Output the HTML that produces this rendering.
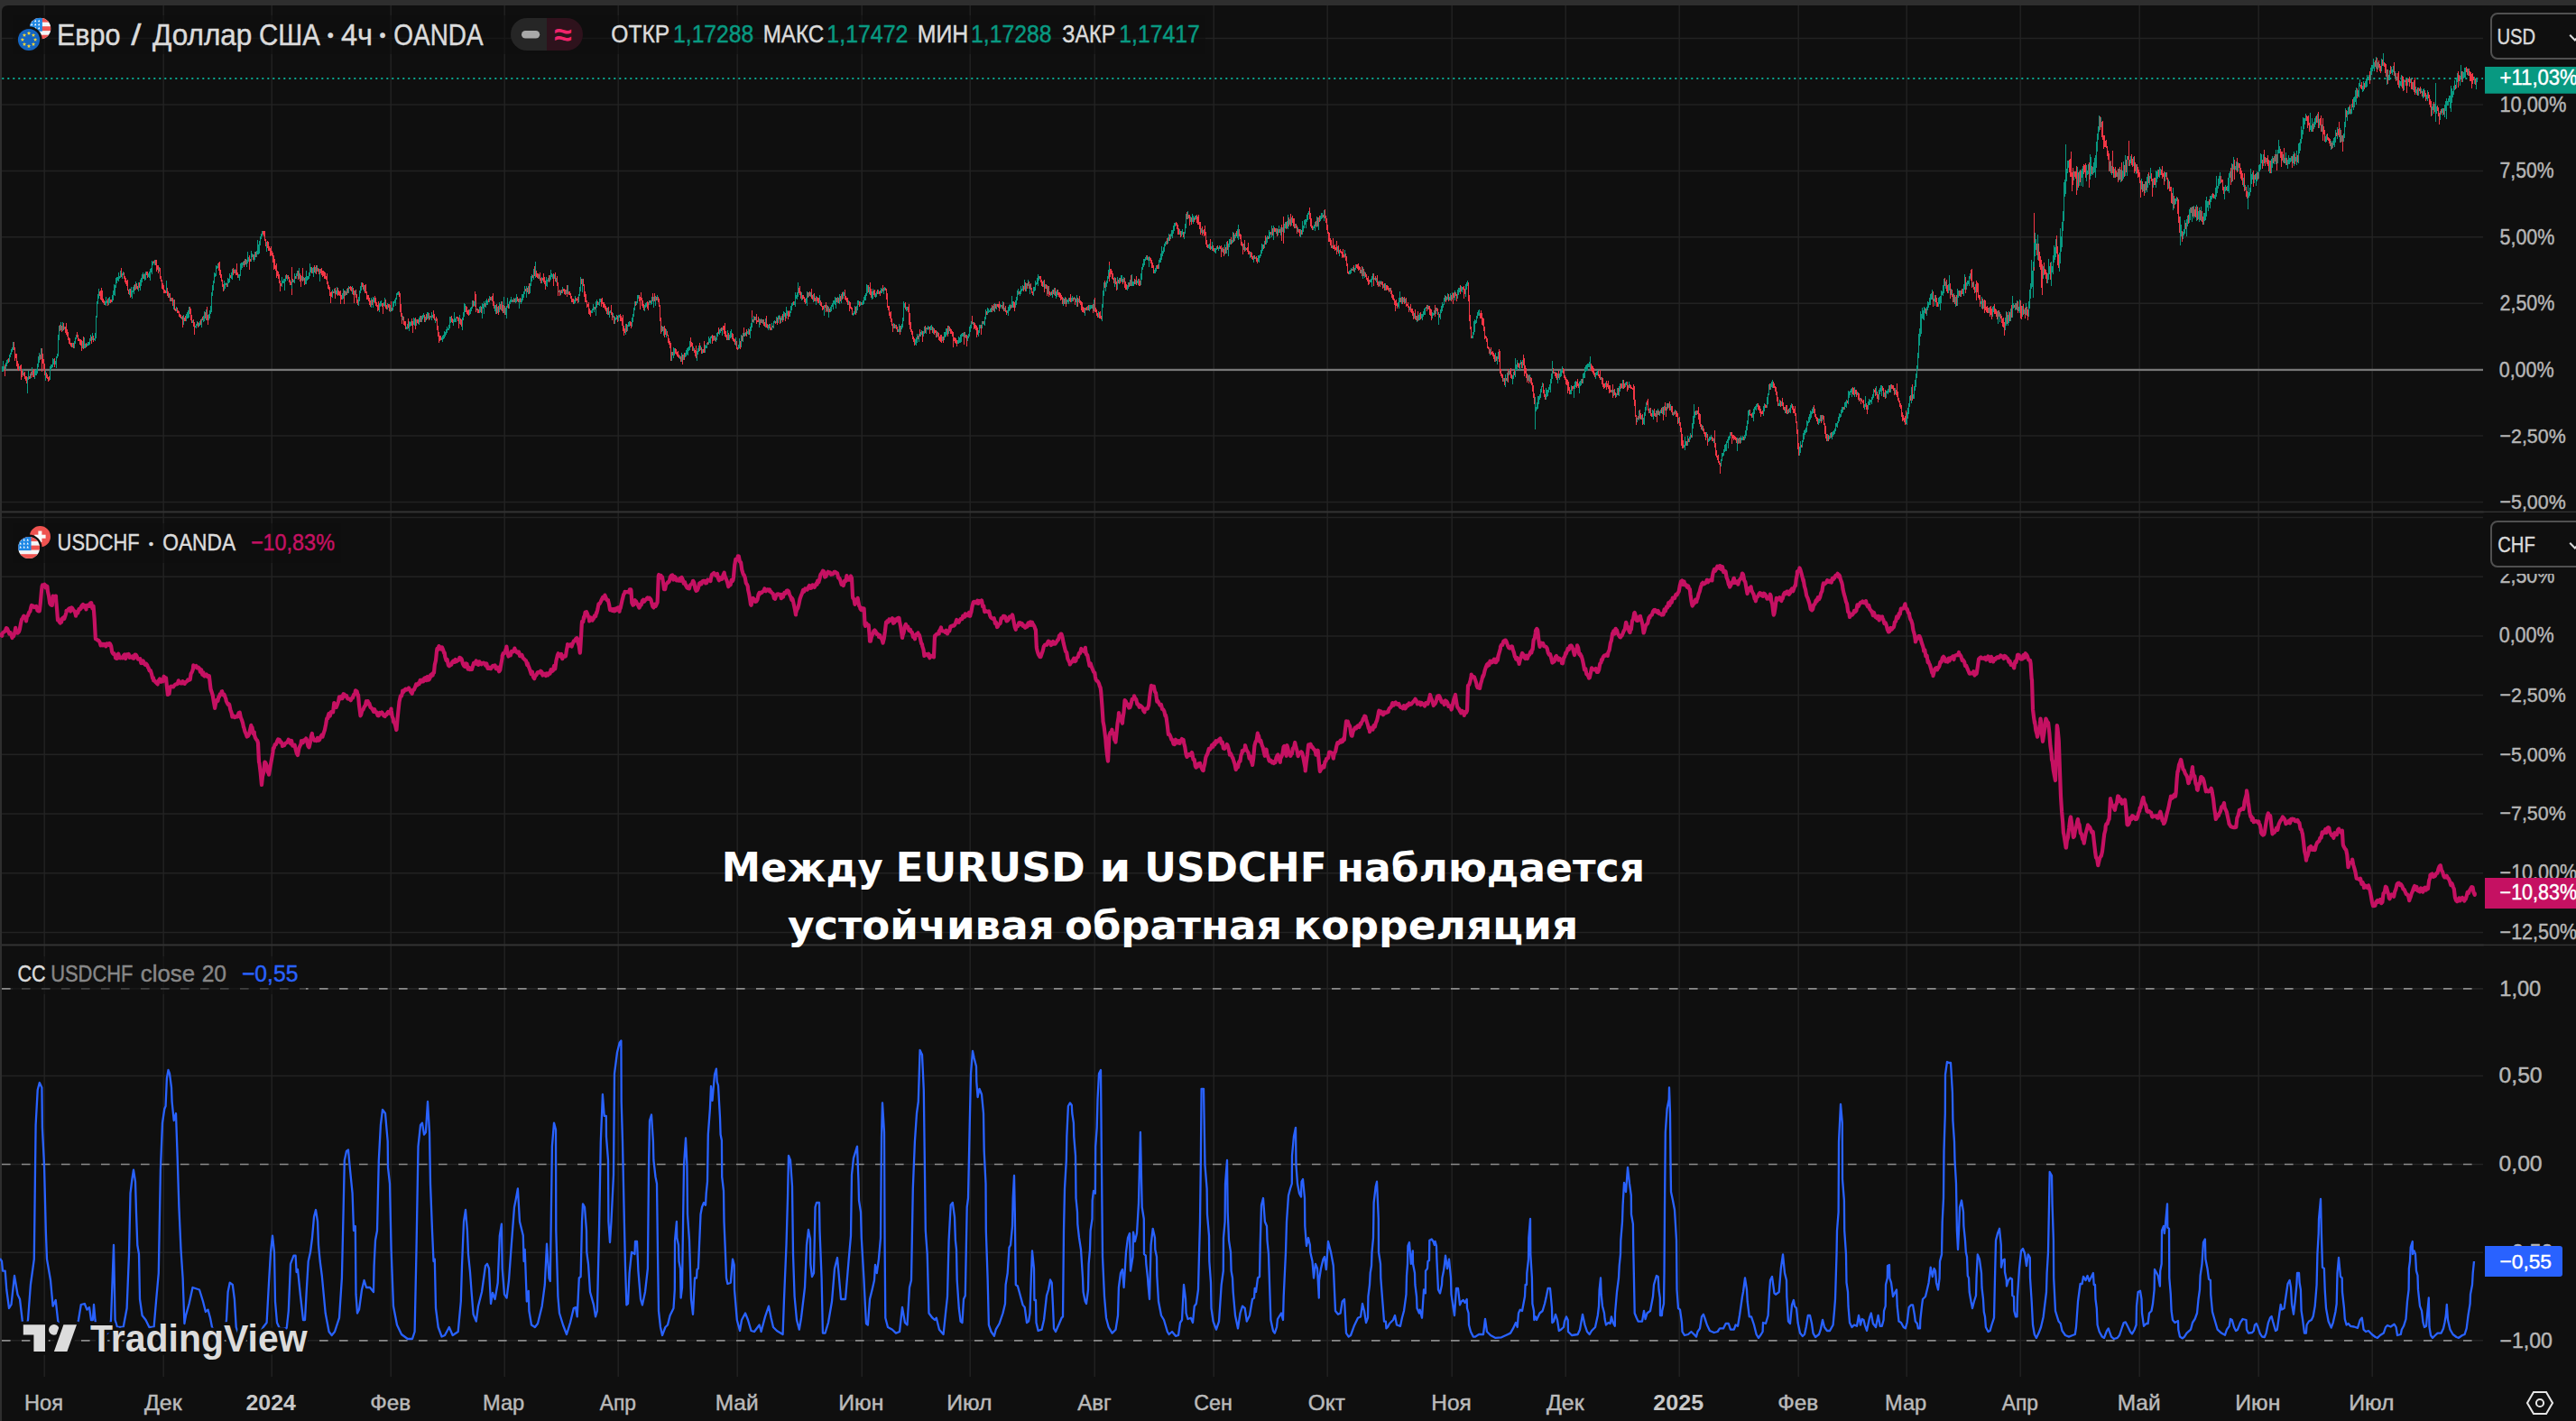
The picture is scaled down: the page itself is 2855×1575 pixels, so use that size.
<!DOCTYPE html>
<html lang="ru"><head><meta charset="utf-8"><title>EURUSD / USDCHF</title>
<style>
html,body{margin:0;padding:0;background:#2e2e2e;overflow:hidden}
body{width:2855px;height:1575px}
svg{display:block;font-family:'Liberation Sans', sans-serif}
text{white-space:pre}
</style></head><body>
<svg width="2855" height="1575" viewBox="0 0 2855 1575">
<rect width="2855" height="1575" fill="#2e2e2e"/>
<path d="M2 1575V13Q2 6 9 6H2855V1575Z" fill="#0f0f0f"/>

<path d="M2 42.6H2752M2 116.0H2752M2 189.4H2752M2 262.8H2752M2 336.2H2752M2 483.0H2752M2 556.4H2752M2 573.5H2752M2 639.2H2752M2 704.9H2752M2 770.6H2752M2 836.3H2752M2 902.0H2752M2 967.7H2752M2 1033.4H2752M2 1192.5H2752M2 1388.3H2752M49.2 6V1526M181.2 6V1526M301.2 6V1526M433.2 6V1526M559.2 6V1526M685.2 6V1526M817.2 6V1526M955.2 6V1526M1075.2 6V1526M1213.2 6V1526M1345.2 6V1526M1471.2 6V1526M1609.2 6V1526M1735.2 6V1526M1861.2 6V1526M1993.2 6V1526M2113.2 6V1526M2239.2 6V1526M2371.2 6V1526M2503.2 6V1526M2629.2 6V1526" stroke="#222222" stroke-width="1.5" fill="none"/>
<path d="M2 1095.9H2752" stroke="#232323" stroke-width="1.6"/>
<path d="M2 1095.9H2742" stroke="#8a8a8a" stroke-width="1.7" stroke-dasharray="9.6 12.4"/>
<path d="M2 1290.5H2752" stroke="#232323" stroke-width="1.6"/>
<path d="M2 1290.5H2742" stroke="#8a8a8a" stroke-width="1.7" stroke-dasharray="9.6 12.4"/>
<path d="M2 1485.8H2752" stroke="#232323" stroke-width="1.6"/>
<path d="M2 1485.8H2742" stroke="#8a8a8a" stroke-width="1.7" stroke-dasharray="9.6 12.4"/>
<rect x="2" y="408.8" width="2750" height="2.3" fill="#777"/>
<path d="M2.3 87H2752" stroke="#0aa68e" stroke-width="2" stroke-dasharray="2 4"/>
<path d="M5.5 404.2V416.8M9.5 397.2V401.8M15.5 379.4V387.5M16.5 384.7V400.4M17.5 391.9V397.2M18.5 392.4V406.2M19.5 399.7V409.6M20.5 403.3V411.0M22.5 405.0V409.3M23.5 404.4V420.9M24.5 409.5V417.8M26.5 412.5V417.0M27.5 411.7V419.7M28.5 416.8V422.1M29.5 417.1V424.6M32.5 416.7V419.9M34.5 411.7V418.6M36.5 409.2V417.5M37.5 409.8V417.5M44.5 392.9V398.6M46.5 385.9V395.5M47.5 391.5V403.4M48.5 398.0V408.9M49.5 402.8V416.4M51.5 413.0V419.2M52.5 415.3V420.3M53.5 417.9V422.6M54.5 416.5V421.5M60.5 397.3V407.3M66.5 360.3V367.0M68.5 360.7V367.7M70.5 358.0V365.7M72.5 362.0V368.9M73.5 358.1V370.5M74.5 364.6V373.2M75.5 367.5V376.8M76.5 373.6V380.8M77.5 375.1V382.1M78.5 379.8V383.5M79.5 380.3V385.1M81.5 379.5V386.0M85.5 368.4V374.3M86.5 371.2V378.0M87.5 375.3V378.0M88.5 376.0V382.3M89.5 375.6V382.7M90.5 377.1V388.7M92.5 373.0V387.0M95.5 379.9V384.5M101.5 373.0V380.9M103.5 371.6V378.7M110.5 322.6V327.9M111.5 321.6V332.2M112.5 319.1V332.7M113.5 321.9V334.7M114.5 331.3V336.1M115.5 332.6V337.8M119.5 330.5V338.5M122.5 332.0V335.6M123.5 331.9V334.6M134.5 297.4V306.7M137.5 302.2V308.8M138.5 305.6V312.5M139.5 308.2V314.6M140.5 310.7V316.7M141.5 310.1V322.0M142.5 320.7V325.9M144.5 320.1V330.2M149.5 315.3V321.5M151.5 313.9V319.9M152.5 317.0V320.7M154.5 313.0V318.5M159.5 303.8V309.1M162.5 300.5V304.5M163.5 301.4V308.4M170.5 289.4V292.1M172.5 288.0V294.0M173.5 287.8V300.6M174.5 294.2V298.8M175.5 293.9V302.8M177.5 296.7V309.3M178.5 305.5V312.4M179.5 310.4V320.1M180.5 313.6V320.7M181.5 316.0V325.3M182.5 320.5V325.0M183.5 321.6V324.5M185.5 318.7V327.7M186.5 323.1V329.6M188.5 325.0V333.6M190.5 330.2V334.1M191.5 330.0V338.7M193.5 331.5V344.0M194.5 341.9V344.8M196.5 340.5V347.0M197.5 343.9V347.4M198.5 344.9V350.9M199.5 347.7V352.1M200.5 348.7V352.8M202.5 350.0V362.9M204.5 352.4V355.7M205.5 350.3V356.1M210.5 340.2V347.9M211.5 342.1V354.5M212.5 349.3V358.1M214.5 354.1V361.7M215.5 357.1V371.2M219.5 357.0V363.1M222.5 353.5V360.0M224.5 351.0V355.0M227.5 346.4V352.9M229.5 340.3V355.3M230.5 349.2V360.0M242.5 290.9V299.7M243.5 290.4V304.7M244.5 299.3V308.3M245.5 303.8V312.4M246.5 310.0V317.9M247.5 314.7V322.5M251.5 313.7V318.2M255.5 304.8V307.6M258.5 297.2V304.6M259.5 299.0V303.2M261.5 298.8V305.0M262.5 292.2V304.8M263.5 302.0V308.2M270.5 289.3V296.4M272.5 287.3V292.8M276.5 283.1V299.1M277.5 287.2V290.2M280.5 281.8V287.8M283.5 278.7V284.6M291.5 256.3V260.3M292.5 256.1V262.1M293.5 256.3V267.3M294.5 264.8V273.3M296.5 267.4V275.3M297.5 267.6V277.7M298.5 272.5V278.4M299.5 275.2V284.3M300.5 272.8V282.8M301.5 278.2V284.0M302.5 280.2V291.0M303.5 282.8V299.3M304.5 286.5V297.9M305.5 293.7V300.4M306.5 292.3V307.9M307.5 300.0V305.6M308.5 300.8V308.7M309.5 304.0V313.9M310.5 311.1V322.8M311.5 314.0V316.8M317.5 304.1V309.2M319.5 304.7V308.6M320.5 307.0V313.4M321.5 310.4V315.7M322.5 312.2V316.1M324.5 308.8V312.9M327.5 305.5V308.5M330.5 300.4V309.5M332.5 302.9V311.7M333.5 304.8V318.1M335.5 297.3V312.1M337.5 307.7V316.2M345.5 295.8V302.9M348.5 294.3V302.1M350.5 294.3V303.5M352.5 296.6V300.9M353.5 297.5V304.1M355.5 298.4V302.5M356.5 297.2V304.6M357.5 300.2V306.9M358.5 300.3V306.2M359.5 301.1V308.7M360.5 302.4V309.1M361.5 306.0V310.0M362.5 302.7V314.7M363.5 311.6V320.4M364.5 315.5V321.3M365.5 317.7V327.9M366.5 324.0V335.5M367.5 322.7V329.3M369.5 322.5V325.0M371.5 319.4V331.2M374.5 319.1V328.1M375.5 322.2V326.9M376.5 323.4V327.7M377.5 321.6V336.9M378.5 327.3V332.1M381.5 321.9V336.5M383.5 322.6V327.1M385.5 319.2V324.5M387.5 317.7V320.0M388.5 316.9V322.1M389.5 318.1V323.0M391.5 319.1V327.0M392.5 322.3V336.3M394.5 321.1V329.5M395.5 326.2V336.1M396.5 332.2V337.8M401.5 313.1V318.0M402.5 313.9V321.4M404.5 316.1V325.3M405.5 315.3V324.5M406.5 322.8V331.9M407.5 327.4V332.4M408.5 326.5V333.9M409.5 329.7V337.8M410.5 333.0V340.2M412.5 332.4V338.1M415.5 328.2V335.5M416.5 330.3V338.5M417.5 335.0V340.3M418.5 338.3V344.5M419.5 334.3V344.1M423.5 335.5V339.6M424.5 335.8V347.8M427.5 332.3V341.8M428.5 338.0V343.3M430.5 337.2V340.8M431.5 336.8V344.8M433.5 334.4V345.3M442.5 323.1V328.8M443.5 324.7V346.0M444.5 336.9V350.9M445.5 346.8V358.9M447.5 351.3V360.1M448.5 355.5V360.8M449.5 355.6V365.1M452.5 352.7V363.9M456.5 352.6V360.7M457.5 355.5V368.5M460.5 352.2V365.3M462.5 354.4V358.0M463.5 354.3V358.6M466.5 349.6V356.5M470.5 349.3V356.9M472.5 348.2V354.7M475.5 346.9V354.9M477.5 350.2V352.2M480.5 344.2V352.8M481.5 347.6V355.1M483.5 350.6V356.2M484.5 353.2V365.5M485.5 360.7V373.3M486.5 367.6V380.4M487.5 372.1V377.5M488.5 372.0V377.4M500.5 350.1V357.0M501.5 353.2V358.3M506.5 350.7V353.2M507.5 350.9V356.1M508.5 351.7V363.5M510.5 352.5V360.3M511.5 354.1V361.7M516.5 338.7V346.1M517.5 339.8V347.7M518.5 343.9V349.2M519.5 343.0V349.7M524.5 333.0V339.8M527.5 325.8V345.5M529.5 341.7V347.2M530.5 343.2V346.8M533.5 339.7V346.8M537.5 335.5V339.7M541.5 331.0V334.8M543.5 328.5V332.5M545.5 327.7V334.1M546.5 324.5V338.8M547.5 334.2V341.5M550.5 336.7V347.6M552.5 338.9V348.9M554.5 337.4V342.9M556.5 334.2V344.9M557.5 338.0V347.0M559.5 339.4V348.5M563.5 336.6V342.3M568.5 332.4V334.7M570.5 331.1V335.3M573.5 329.3V333.8M574.5 330.7V334.9M576.5 330.0V335.1M582.5 319.5V323.1M584.5 318.9V323.7M586.5 313.7V325.6M590.5 304.6V308.3M592.5 294.8V305.8M594.5 299.6V307.0M595.5 302.7V308.0M596.5 302.9V308.5M598.5 302.1V310.8M599.5 307.5V313.9M601.5 308.0V311.2M602.5 303.0V313.4M603.5 306.7V314.5M604.5 310.6V320.5M608.5 304.5V313.4M613.5 303.1V316.5M615.5 301.8V311.5M617.5 306.0V316.5M618.5 313.1V328.1M620.5 321.3V328.3M622.5 321.1V324.7M624.5 320.4V323.2M625.5 320.4V325.6M626.5 320.7V326.8M628.5 315.7V329.1M630.5 322.6V326.5M631.5 323.2V326.5M632.5 324.5V330.9M633.5 327.8V334.9M634.5 331.1V335.0M635.5 331.1V336.5M638.5 329.9V333.6M639.5 331.1V333.3M640.5 329.1V335.9M644.5 308.7V315.3M646.5 309.4V317.4M647.5 314.7V328.6M648.5 323.3V335.3M649.5 325.9V334.8M650.5 332.7V341.1M651.5 336.9V340.3M652.5 334.8V347.5M653.5 341.8V349.2M654.5 344.0V350.8M659.5 339.8V343.1M662.5 333.9V337.9M666.5 331.1V339.8M667.5 329.5V336.9M668.5 335.1V341.0M669.5 335.1V340.8M670.5 336.6V342.8M671.5 339.4V344.6M672.5 340.8V347.6M674.5 339.5V349.2M677.5 337.6V348.8M678.5 345.6V354.8M680.5 349.8V359.0M684.5 350.3V356.8M687.5 348.0V356.1M688.5 349.7V356.4M689.5 351.8V361.1M690.5 349.3V367.3M691.5 361.2V371.5M692.5 363.6V368.7M694.5 358.6V368.0M698.5 356.3V360.8M699.5 357.4V363.5M704.5 333.7V339.2M708.5 326.5V334.3M709.5 328.9V342.5M710.5 323.7V333.4M711.5 330.2V339.1M712.5 332.9V340.8M713.5 337.4V343.5M717.5 333.5V341.8M718.5 334.8V344.2M720.5 333.3V336.2M723.5 325.3V333.5M725.5 324.7V333.8M727.5 329.4V332.5M729.5 329.2V335.0M730.5 330.7V340.4M731.5 337.5V356.0M732.5 352.0V370.0M734.5 361.8V366.5M736.5 361.4V373.5M737.5 363.6V370.7M739.5 367.1V372.4M740.5 370.6V380.3M741.5 375.1V382.4M742.5 377.6V385.8M743.5 379.5V400.3M745.5 389.5V393.7M748.5 385.5V391.7M749.5 387.2V393.4M750.5 390.0V394.6M751.5 389.1V396.1M752.5 393.1V397.4M754.5 395.1V400.9M756.5 392.7V404.3M758.5 391.4V398.9M765.5 374.4V385.1M766.5 379.3V384.2M767.5 379.7V388.5M769.5 385.8V391.4M770.5 388.1V395.1M771.5 382.9V396.7M775.5 379.9V388.5M777.5 384.9V392.4M779.5 387.0V390.9M780.5 378.4V390.9M784.5 379.4V381.6M789.5 371.0V381.1M790.5 371.5V377.5M792.5 371.6V378.3M796.5 362.9V370.2M799.5 363.0V366.5M801.5 360.9V366.2M802.5 360.6V370.0M803.5 358.2V372.5M804.5 367.3V373.8M805.5 370.5V377.2M807.5 368.9V376.8M811.5 368.6V375.9M812.5 370.3V377.8M813.5 375.1V378.6M814.5 376.4V381.6M816.5 377.8V386.8M817.5 384.7V387.5M820.5 378.0V387.4M822.5 371.9V377.7M824.5 363.2V373.4M827.5 364.6V373.1M830.5 364.8V371.1M834.5 354.1V357.3M836.5 351.2V355.3M838.5 347.9V358.7M839.5 354.6V357.1M840.5 351.3V357.3M842.5 353.8V359.5M844.5 354.2V358.2M846.5 354.3V361.2M847.5 357.4V362.2M849.5 350.4V362.6M850.5 358.6V363.5M853.5 359.2V365.6M854.5 362.5V366.2M856.5 360.5V363.3M859.5 355.9V359.0M861.5 352.3V359.7M864.5 350.4V358.7M867.5 348.1V356.6M870.5 346.7V356.1M873.5 344.9V353.8M874.5 343.7V350.8M879.5 334.3V337.7M885.5 319.1V325.4M886.5 316.6V327.0M887.5 322.9V331.3M889.5 326.5V332.2M890.5 327.1V330.7M891.5 329.3V335.2M892.5 330.8V337.3M895.5 324.0V329.7M897.5 323.2V328.0M899.5 319.8V330.9M900.5 326.8V332.2M902.5 325.4V333.6M903.5 329.7V334.4M905.5 328.6V334.3M906.5 329.5V336.4M907.5 329.9V336.3M909.5 332.6V338.7M910.5 334.6V340.2M911.5 338.6V343.6M912.5 338.9V343.2M914.5 338.2V340.6M915.5 334.7V346.1M917.5 338.9V345.9M919.5 342.4V346.0M927.5 330.4V334.7M929.5 329.8V335.7M931.5 328.2V334.2M933.5 324.2V332.1M936.5 321.0V332.1M937.5 327.8V332.7M938.5 329.8V334.9M939.5 329.5V337.5M941.5 334.0V345.3M942.5 335.0V342.4M943.5 339.9V343.1M944.5 341.0V348.9M948.5 340.4V349.0M952.5 334.3V339.5M954.5 334.7V338.2M962.5 315.7V323.7M964.5 313.1V327.1M965.5 320.2V329.6M968.5 321.8V326.9M969.5 321.3V329.4M972.5 321.4V325.5M974.5 322.6V326.2M975.5 321.9V327.9M978.5 316.0V322.8M981.5 318.5V321.7M982.5 319.9V332.3M983.5 325.2V341.4M984.5 338.6V343.5M985.5 338.5V349.6M986.5 345.8V353.3M987.5 344.5V356.8M988.5 352.7V361.2M989.5 358.7V367.9M991.5 358.8V363.6M993.5 359.9V365.4M994.5 362.3V367.6M997.5 361.4V371.1M1003.5 334.6V342.5M1006.5 340.4V345.9M1007.5 336.5V359.8M1008.5 346.8V365.1M1009.5 356.5V368.4M1010.5 364.7V371.4M1011.5 366.5V376.0M1012.5 372.7V378.9M1013.5 374.8V383.4M1017.5 372.1V375.5M1019.5 365.3V372.9M1022.5 366.7V379.0M1025.5 361.4V368.7M1027.5 363.3V365.2M1030.5 362.2V369.7M1033.5 361.5V369.1M1035.5 364.4V370.5M1036.5 365.8V368.7M1037.5 365.9V373.5M1039.5 368.3V372.7M1040.5 369.2V377.4M1041.5 373.4V378.4M1042.5 371.4V378.7M1043.5 371.1V379.7M1045.5 373.3V380.3M1050.5 360.9V373.0M1052.5 361.8V366.9M1053.5 363.8V369.6M1054.5 364.7V369.7M1055.5 367.4V372.9M1056.5 368.2V384.5M1057.5 373.7V377.9M1058.5 374.3V379.8M1059.5 374.5V380.9M1060.5 377.1V383.9M1068.5 367.8V381.5M1070.5 370.8V375.1M1071.5 371.1V383.7M1077.5 349.7V359.2M1079.5 357.2V364.8M1080.5 358.3V364.2M1081.5 360.4V365.9M1082.5 361.2V374.0M1083.5 363.0V370.7M1087.5 360.2V370.8M1089.5 355.8V359.3M1093.5 345.0V348.6M1099.5 338.2V345.8M1101.5 337.3V345.2M1103.5 336.5V342.2M1105.5 337.4V340.3M1106.5 336.6V341.4M1107.5 334.0V344.6M1110.5 337.7V341.8M1112.5 335.2V344.8M1114.5 338.8V346.2M1115.5 344.0V349.2M1120.5 337.6V341.6M1123.5 333.7V341.0M1124.5 334.5V344.8M1129.5 322.8V326.3M1134.5 316.9V322.5M1136.5 313.1V322.9M1138.5 314.0V319.5M1140.5 311.5V320.4M1142.5 314.2V320.7M1143.5 318.6V324.7M1144.5 322.9V327.1M1152.5 305.5V309.4M1153.5 306.0V313.3M1154.5 309.7V316.9M1155.5 312.1V317.6M1157.5 309.7V324.4M1159.5 314.9V320.4M1160.5 316.0V327.9M1162.5 316.8V328.8M1163.5 323.3V327.2M1165.5 322.6V327.4M1167.5 321.1V325.7M1169.5 318.9V327.5M1172.5 320.7V327.1M1173.5 324.0V328.9M1174.5 324.1V329.6M1175.5 324.6V332.7M1176.5 326.5V332.1M1177.5 328.9V336.9M1179.5 331.4V337.2M1181.5 329.8V340.0M1185.5 329.9V334.1M1186.5 325.7V335.3M1189.5 329.6V334.0M1191.5 329.9V338.2M1194.5 330.3V339.8M1196.5 328.1V335.7M1197.5 332.5V338.4M1198.5 334.4V344.0M1199.5 335.3V345.6M1200.5 339.9V345.8M1201.5 341.0V347.1M1203.5 340.6V343.9M1204.5 340.3V343.8M1206.5 337.8V343.9M1211.5 337.2V346.7M1213.5 329.9V345.5M1214.5 341.2V345.7M1215.5 342.7V349.5M1216.5 346.7V352.4M1218.5 345.5V352.7M1219.5 345.3V353.1M1220.5 349.6V354.3M1224.5 311.2V319.3M1230.5 297.7V307.3M1231.5 297.7V303.8M1232.5 299.5V308.9M1233.5 303.0V310.0M1234.5 308.3V313.8M1236.5 308.4V315.0M1237.5 311.9V322.1M1239.5 309.7V313.5M1241.5 308.3V314.3M1244.5 309.3V315.2M1246.5 308.1V318.7M1247.5 311.8V320.6M1248.5 314.8V321.1M1251.5 313.2V317.9M1253.5 305.0V317.4M1257.5 309.1V314.5M1259.5 306.4V316.0M1262.5 308.6V316.8M1263.5 311.4V316.8M1271.5 283.1V288.0M1274.5 285.4V288.7M1275.5 286.1V291.5M1276.5 287.9V296.5M1277.5 291.1V297.4M1278.5 294.0V303.3M1282.5 294.1V298.0M1283.5 292.7V297.9M1293.5 264.1V270.5M1296.5 260.1V267.1M1303.5 245.9V250.0M1304.5 247.4V254.4M1305.5 248.9V259.8M1306.5 252.9V259.7M1308.5 255.8V263.2M1311.5 256.7V263.4M1315.5 234.6V242.6M1317.5 238.0V241.9M1318.5 237.9V249.8M1320.5 240.8V248.9M1323.5 241.1V245.7M1326.5 237.8V247.4M1327.5 239.5V248.5M1328.5 237.7V249.2M1329.5 245.9V253.9M1330.5 246.0V260.2M1332.5 251.0V260.5M1334.5 253.7V262.1M1335.5 250.2V260.7M1336.5 256.7V271.0M1337.5 266.0V273.8M1338.5 271.0V274.9M1341.5 265.0V276.8M1344.5 272.0V278.0M1345.5 274.7V279.2M1349.5 271.5V276.1M1352.5 272.9V275.9M1353.5 271.5V284.9M1355.5 274.1V280.3M1356.5 276.0V284.2M1358.5 273.5V280.8M1360.5 266.7V276.6M1364.5 263.4V270.9M1367.5 257.8V267.9M1370.5 255.5V262.2M1373.5 254.3V261.5M1374.5 259.2V265.4M1375.5 259.8V272.1M1376.5 268.3V273.0M1377.5 269.9V281.8M1379.5 266.2V279.0M1381.5 274.5V276.5M1382.5 273.7V278.6M1383.5 269.2V282.2M1384.5 278.2V282.2M1386.5 279.0V285.4M1387.5 279.5V286.8M1388.5 283.6V288.0M1390.5 283.0V287.3M1392.5 283.8V289.5M1393.5 285.5V291.8M1400.5 271.4V275.7M1402.5 260.5V271.0M1405.5 262.1V265.2M1408.5 256.9V259.6M1410.5 252.6V260.7M1412.5 251.7V257.2M1413.5 253.2V256.8M1415.5 252.9V262.0M1418.5 253.5V257.5M1420.5 249.3V266.9M1422.5 250.8V253.9M1425.5 246.1V253.5M1428.5 240.5V250.5M1430.5 237.0V251.3M1432.5 238.5V247.3M1433.5 241.5V250.8M1434.5 242.3V252.5M1436.5 248.3V252.7M1437.5 250.1V259.4M1439.5 253.8V258.0M1440.5 254.3V261.6M1442.5 254.8V259.5M1451.5 230.0V243.3M1452.5 236.0V250.5M1453.5 242.4V253.3M1454.5 250.0V255.2M1458.5 244.8V251.1M1460.5 241.0V250.8M1462.5 238.9V246.1M1466.5 237.6V241.0M1468.5 232.1V242.1M1469.5 238.9V247.3M1470.5 242.2V255.0M1471.5 248.8V259.4M1472.5 256.8V268.0M1473.5 258.1V267.6M1474.5 263.8V272.3M1475.5 265.6V275.0M1477.5 264.4V276.2M1478.5 272.3V276.1M1479.5 270.8V277.7M1480.5 273.9V276.5M1481.5 266.5V282.3M1483.5 271.9V281.4M1485.5 275.6V280.4M1486.5 277.6V281.0M1487.5 278.9V286.0M1488.5 276.0V285.4M1489.5 282.3V286.2M1491.5 280.7V288.7M1492.5 283.9V295.3M1493.5 292.2V302.7M1494.5 300.7V303.8M1498.5 297.9V299.9M1500.5 294.4V301.2M1503.5 292.9V296.7M1504.5 293.3V298.3M1505.5 292.1V299.9M1506.5 295.0V299.3M1507.5 296.2V303.3M1509.5 295.0V305.7M1511.5 297.8V306.1M1513.5 302.2V307.1M1514.5 303.5V310.1M1515.5 307.8V311.5M1516.5 306.2V315.9M1517.5 309.9V314.5M1522.5 303.4V317.0M1524.5 305.9V311.2M1526.5 305.3V316.1M1527.5 312.0V318.4M1529.5 311.7V317.8M1531.5 311.9V316.0M1532.5 311.6V320.2M1534.5 314.3V321.6M1536.5 316.4V322.3M1537.5 316.3V321.4M1538.5 316.8V322.0M1539.5 318.8V323.9M1541.5 319.2V325.7M1542.5 322.4V329.7M1543.5 326.2V331.9M1544.5 326.6V332.5M1545.5 330.8V338.4M1546.5 333.2V344.9M1547.5 332.3V338.8M1548.5 336.3V342.1M1552.5 329.9V334.8M1554.5 328.8V336.9M1556.5 329.0V337.2M1558.5 329.6V340.4M1559.5 337.4V339.0M1560.5 335.1V341.0M1561.5 339.3V345.8M1563.5 337.1V346.1M1564.5 341.7V347.0M1565.5 342.4V350.4M1566.5 344.9V353.6M1568.5 343.1V353.6M1569.5 350.3V355.4M1571.5 344.6V355.7M1574.5 346.4V353.9M1581.5 338.1V344.7M1583.5 338.9V343.0M1584.5 339.1V348.9M1585.5 341.8V349.7M1586.5 342.9V354.6M1590.5 338.4V350.5M1592.5 340.8V344.7M1593.5 342.3V348.9M1595.5 347.5V351.7M1602.5 327.6V335.0M1605.5 326.2V334.0M1608.5 326.6V334.4M1610.5 325.1V336.9M1611.5 324.4V330.0M1613.5 323.6V327.7M1614.5 326.3V334.1M1618.5 316.3V326.1M1621.5 317.8V321.2M1622.5 317.0V330.8M1623.5 320.3V325.5M1627.5 312.5V333.6M1628.5 326.6V355.8M1629.5 349.2V365.4M1630.5 361.8V375.2M1640.5 346.5V353.4M1641.5 344.0V353.1M1642.5 346.8V360.0M1643.5 352.3V360.7M1644.5 353.4V367.2M1645.5 361.9V376.3M1646.5 371.8V374.7M1647.5 373.2V379.2M1648.5 374.9V386.2M1649.5 383.8V386.7M1650.5 384.5V392.1M1652.5 385.3V392.8M1653.5 390.3V392.7M1654.5 389.1V395.4M1655.5 390.9V397.8M1656.5 393.4V400.6M1658.5 395.0V400.2M1661.5 387.1V401.3M1662.5 389.2V413.9M1663.5 409.0V417.1M1664.5 413.9V418.5M1665.5 414.9V423.3M1667.5 419.3V426.6M1669.5 418.7V422.4M1671.5 408.6V423.5M1673.5 411.2V414.8M1674.5 407.5V419.1M1675.5 414.8V420.2M1678.5 409.7V416.2M1682.5 402.1V406.6M1683.5 403.0V407.8M1686.5 401.2V408.4M1688.5 393.4V404.6M1689.5 397.2V416.7M1690.5 405.3V414.4M1691.5 408.1V418.9M1692.5 413.5V423.6M1694.5 415.9V424.6M1696.5 417.6V424.8M1697.5 419.4V427.3M1698.5 423.5V434.1M1699.5 426.5V441.4M1700.5 435.5V448.4M1701.5 442.7V454.3M1710.5 425.3V435.8M1711.5 431.5V440.2M1712.5 437.4V442.8M1721.5 407.5V413.8M1723.5 411.8V416.8M1724.5 413.3V418.8M1725.5 412.8V421.2M1727.5 410.9V419.3M1732.5 408.0V414.1M1733.5 409.0V419.3M1734.5 415.5V421.2M1735.5 417.8V425.5M1736.5 420.1V427.1M1737.5 421.1V436.1M1738.5 422.6V432.9M1739.5 428.9V437.0M1742.5 427.9V433.1M1743.5 428.3V431.2M1747.5 422.8V430.1M1748.5 420.2V428.0M1749.5 424.8V429.6M1753.5 419.5V424.9M1762.5 398.8V404.7M1763.5 402.5V411.2M1764.5 405.4V412.0M1765.5 406.3V414.1M1766.5 408.3V416.3M1767.5 413.4V418.4M1771.5 410.5V417.1M1772.5 415.4V419.2M1773.5 410.2V420.9M1775.5 418.3V426.3M1776.5 418.6V429.1M1777.5 424.5V430.6M1778.5 424.6V429.6M1780.5 421.9V431.8M1781.5 425.0V428.7M1782.5 422.0V430.5M1783.5 427.2V435.7M1784.5 426.5V434.6M1785.5 431.5V435.3M1787.5 426.4V441.2M1789.5 431.4V437.8M1790.5 435.1V441.4M1793.5 429.6V437.5M1796.5 425.1V431.3M1797.5 424.9V430.3M1799.5 420.5V430.8M1800.5 425.1V430.4M1803.5 422.9V433.5M1804.5 426.9V432.1M1806.5 426.2V430.0M1807.5 427.4V430.9M1808.5 429.1V431.3M1809.5 429.6V432.2M1810.5 426.2V442.6M1811.5 427.5V450.3M1812.5 443.4V461.8M1813.5 459.5V470.5M1815.5 460.5V465.3M1817.5 454.3V463.5M1818.5 458.1V464.5M1820.5 459.2V470.6M1825.5 444.0V449.2M1826.5 441.8V455.3M1827.5 452.6V458.0M1829.5 451.5V460.8M1830.5 457.5V461.8M1833.5 453.1V460.7M1834.5 457.7V461.7M1836.5 455.3V467.9M1838.5 454.7V460.1M1841.5 451.5V457.7M1843.5 450.9V465.7M1845.5 446.4V454.8M1846.5 450.5V461.8M1848.5 447.1V452.6M1850.5 445.3V455.3M1852.5 449.8V457.1M1853.5 450.2V460.3M1855.5 456.0V459.8M1857.5 454.5V461.9M1858.5 456.0V461.6M1859.5 458.3V470.0M1861.5 462.3V471.6M1862.5 468.4V478.5M1863.5 473.6V493.5M1864.5 481.2V496.7M1865.5 488.4V496.5M1869.5 489.2V493.8M1871.5 486.1V489.5M1874.5 482.4V485.0M1879.5 454.7V459.8M1881.5 455.2V458.6M1882.5 450.5V464.9M1883.5 458.3V469.5M1884.5 459.1V473.2M1885.5 469.7V475.6M1887.5 471.7V477.8M1888.5 475.1V480.7M1889.5 479.0V484.3M1890.5 479.4V488.4M1892.5 481.4V494.3M1897.5 483.5V489.0M1898.5 484.7V489.2M1900.5 477.1V495.7M1901.5 490.9V505.1M1902.5 499.2V506.6M1903.5 504.5V510.0M1904.5 503.9V513.3M1905.5 510.5V515.0M1906.5 512.6V524.5M1918.5 479.4V482.7M1919.5 479.4V491.7M1920.5 481.8V485.7M1921.5 481.7V487.8M1922.5 482.6V486.8M1923.5 483.5V488.0M1924.5 485.0V491.0M1926.5 485.8V492.0M1928.5 485.1V492.4M1932.5 484.4V488.4M1939.5 454.3V460.1M1940.5 458.6V461.0M1941.5 458.4V463.1M1948.5 447.2V454.4M1949.5 448.6V455.2M1950.5 449.9V458.1M1951.5 453.0V462.2M1952.5 455.8V459.1M1953.5 455.2V459.3M1956.5 447.5V451.6M1957.5 449.3V452.3M1961.5 425.1V431.6M1965.5 423.3V429.6M1966.5 425.3V430.4M1967.5 427.6V434.4M1968.5 429.4V438.3M1969.5 434.2V445.2M1970.5 440.4V449.9M1973.5 443.9V450.6M1975.5 440.9V450.0M1976.5 445.6V454.2M1977.5 450.7V455.0M1979.5 449.4V457.6M1980.5 449.1V459.4M1982.5 452.6V457.5M1986.5 448.4V454.3M1987.5 449.8V458.1M1988.5 453.0V457.5M1989.5 450.2V461.3M1990.5 458.3V469.0M1991.5 466.6V481.0M1992.5 475.9V497.9M1993.5 490.7V505.3M1996.5 492.7V495.6M2010.5 449.0V457.6M2011.5 453.0V462.1M2012.5 459.0V463.5M2013.5 462.1V466.5M2014.5 463.4V469.5M2018.5 460.3V469.2M2020.5 460.2V464.6M2021.5 460.6V470.9M2022.5 468.8V481.0M2023.5 472.4V486.4M2024.5 481.3V488.7M2026.5 482.2V488.7M2029.5 478.9V485.4M2043.5 450.5V454.0M2047.5 443.7V446.5M2053.5 429.4V437.3M2054.5 429.9V438.0M2056.5 431.8V436.8M2057.5 431.8V439.9M2059.5 434.7V442.7M2060.5 436.2V444.6M2062.5 441.3V447.7M2063.5 442.4V445.1M2064.5 443.6V446.6M2065.5 442.5V451.5M2068.5 447.4V453.5M2069.5 449.1V458.6M2077.5 432.3V435.0M2078.5 430.3V438.5M2080.5 433.9V441.5M2081.5 436.7V445.9M2086.5 427.7V432.8M2087.5 430.3V439.9M2089.5 432.0V442.3M2094.5 426.5V434.5M2096.5 425.9V430.7M2097.5 427.4V431.2M2098.5 426.9V433.4M2099.5 429.7V438.3M2101.5 431.9V437.7M2102.5 425.4V439.8M2103.5 434.1V444.2M2104.5 440.5V445.5M2105.5 443.5V451.0M2106.5 447.0V453.4M2107.5 449.4V461.8M2108.5 457.3V466.8M2109.5 459.8V466.3M2110.5 462.6V467.7M2111.5 461.1V471.0M2117.5 438.4V444.4M2119.5 426.0V444.1M2134.5 342.0V347.6M2142.5 322.9V339.7M2145.5 327.1V335.0M2146.5 330.0V340.2M2147.5 334.7V340.1M2155.5 307.6V317.0M2157.5 310.4V322.5M2158.5 316.4V325.2M2161.5 314.4V330.8M2163.5 320.7V328.7M2164.5 326.1V335.0M2166.5 326.5V337.4M2168.5 327.3V339.2M2171.5 321.6V328.2M2173.5 322.0V328.8M2174.5 319.9V325.6M2178.5 307.4V324.7M2184.5 299.4V311.2M2185.5 298.3V319.0M2187.5 311.7V321.2M2188.5 318.2V324.6M2190.5 310.9V332.7M2191.5 313.4V324.1M2192.5 314.0V330.4M2193.5 326.5V331.8M2194.5 327.3V339.6M2197.5 331.3V342.5M2199.5 332.0V346.9M2200.5 332.7V343.9M2201.5 339.9V345.5M2202.5 339.3V347.4M2203.5 340.9V347.0M2205.5 340.4V350.5M2206.5 339.2V348.5M2207.5 341.7V354.0M2210.5 336.9V348.0M2211.5 342.3V347.9M2212.5 343.3V351.1M2213.5 345.0V354.0M2215.5 344.1V351.4M2217.5 347.5V353.2M2218.5 349.8V357.8M2219.5 352.7V361.8M2220.5 351.7V363.2M2221.5 356.5V372.4M2224.5 346.4V358.5M2227.5 345.8V356.2M2229.5 337.7V352.4M2232.5 337.6V341.4M2234.5 335.6V342.5M2236.5 333.8V346.6M2239.5 333.0V353.2M2240.5 338.7V353.5M2242.5 336.8V349.1M2244.5 341.1V353.0M2246.5 339.9V350.3M2247.5 342.5V355.1M2257.5 270.1V282.8M2259.5 270.2V289.1M2260.5 278.5V296.2M2261.5 283.9V299.1M2262.5 288.0V318.6M2263.5 293.4V327.2M2265.5 291.1V304.5M2266.5 298.1V303.9M2267.5 299.4V309.1M2268.5 301.9V313.9M2272.5 290.6V309.7M2279.5 261.2V281.1M2280.5 273.4V293.9M2281.5 282.0V296.6M2293.5 177.2V190.6M2294.5 175.6V195.7M2295.5 167.5V196.3M2296.5 190.6V212.0M2297.5 186.3V205.1M2299.5 189.5V195.9M2300.5 190.1V197.9M2301.5 183.9V215.6M2303.5 190.8V207.6M2305.5 187.9V202.3M2309.5 182.1V192.8M2310.5 183.4V190.8M2311.5 181.1V196.7M2315.5 180.0V208.2M2318.5 183.5V193.4M2327.5 129.0V143.9M2329.5 135.4V151.7M2330.5 133.8V155.1M2331.5 150.0V165.0M2332.5 150.2V162.8M2333.5 155.9V163.2M2334.5 154.5V164.4M2335.5 162.0V173.3M2336.5 167.3V176.5M2337.5 169.7V190.1M2339.5 177.5V191.6M2341.5 167.0V191.9M2342.5 185.1V197.2M2344.5 184.5V196.9M2345.5 188.9V196.0M2347.5 186.9V202.0M2349.5 185.4V198.5M2351.5 179.5V200.5M2354.5 183.4V196.0M2356.5 177.1V190.5M2358.5 172.5V177.1M2359.5 156.3V184.4M2362.5 170.9V183.1M2363.5 175.7V184.8M2365.5 173.2V192.2M2366.5 180.0V189.6M2368.5 182.2V191.7M2369.5 184.9V197.4M2370.5 188.3V195.8M2371.5 190.9V203.2M2372.5 199.9V218.5M2374.5 201.2V213.1M2376.5 204.4V216.6M2378.5 201.4V211.3M2381.5 191.0V202.8M2384.5 192.0V201.4M2385.5 197.9V217.9M2387.5 197.0V204.8M2388.5 196.5V205.1M2392.5 188.0V196.0M2395.5 187.5V194.0M2396.5 184.1V197.8M2397.5 191.5V196.1M2398.5 189.7V204.9M2401.5 190.6V199.1M2402.5 196.8V209.8M2404.5 200.8V212.0M2405.5 206.9V211.5M2406.5 207.1V224.7M2407.5 214.1V225.7M2409.5 217.2V230.7M2413.5 219.2V236.9M2414.5 220.8V246.8M2415.5 240.3V258.1M2416.5 243.9V265.0M2418.5 255.7V267.5M2422.5 247.0V253.9M2425.5 238.3V247.9M2428.5 229.9V236.3M2430.5 228.7V239.8M2432.5 231.8V240.1M2433.5 228.6V240.5M2435.5 228.9V243.5M2438.5 233.1V243.5M2440.5 233.6V245.7M2441.5 240.3V248.6M2448.5 221.4V226.9M2452.5 213.6V219.4M2453.5 215.4V219.5M2461.5 195.0V202.6M2462.5 198.5V201.5M2463.5 199.2V211.3M2464.5 206.9V215.0M2467.5 207.4V210.9M2472.5 186.3V204.9M2474.5 182.4V200.5M2476.5 176.9V198.9M2479.5 174.6V190.7M2481.5 180.6V186.3M2482.5 180.7V192.7M2483.5 185.8V198.2M2484.5 189.3V200.1M2485.5 191.7V204.7M2487.5 191.8V212.0M2489.5 207.1V218.1M2490.5 212.1V220.3M2491.5 208.7V220.7M2497.5 189.3V207.3M2499.5 193.0V199.1M2502.5 190.5V198.6M2507.5 177.2V187.3M2509.5 165.8V180.6M2510.5 174.0V183.8M2512.5 174.6V182.3M2513.5 171.5V184.3M2514.5 177.4V189.5M2516.5 177.9V192.2M2519.5 175.4V181.3M2521.5 171.0V179.0M2523.5 170.7V188.9M2527.5 165.0V174.7M2528.5 168.4V185.1M2529.5 167.9V178.2M2531.5 164.0V181.2M2534.5 175.2V183.2M2540.5 173.3V185.7M2543.5 169.7V181.9M2546.5 172.2V179.5M2556.5 128.0V134.2M2557.5 129.0V141.7M2558.5 128.3V138.5M2559.5 136.0V146.0M2563.5 136.9V145.6M2567.5 127.6V135.5M2569.5 124.1V141.6M2571.5 130.7V139.2M2572.5 128.3V146.1M2574.5 130.7V156.4M2575.5 140.1V148.5M2576.5 143.8V156.6M2579.5 148.3V155.2M2580.5 152.1V155.7M2581.5 152.7V158.9M2582.5 154.3V162.4M2584.5 158.4V164.8M2589.5 147.3V151.1M2591.5 142.5V150.2M2592.5 134.5V152.2M2594.5 144.1V158.3M2596.5 150.0V168.4M2600.5 122.2V129.5M2604.5 115.8V126.4M2607.5 110.1V118.8M2612.5 98.3V108.5M2616.5 93.6V98.0M2617.5 90.5V99.4M2620.5 91.9V99.1M2626.5 79.3V92.5M2632.5 67.3V74.2M2634.5 64.3V79.6M2636.5 66.7V75.4M2637.5 71.1V78.5M2638.5 73.2V81.0M2640.5 66.2V72.8M2642.5 69.1V74.2M2643.5 69.6V81.2M2644.5 70.9V84.7M2646.5 77.2V93.1M2649.5 73.1V82.1M2653.5 69.1V84.3M2655.5 80.7V90.3M2657.5 80.7V94.2M2658.5 79.3V96.9M2662.5 83.9V98.1M2663.5 84.8V101.2M2666.5 87.5V94.5M2667.5 87.7V103.0M2669.5 87.1V91.1M2670.5 85.1V95.9M2672.5 87.4V98.8M2673.5 90.7V99.0M2675.5 88.9V101.7M2676.5 85.8V105.1M2679.5 96.9V105.5M2681.5 97.8V100.9M2682.5 96.3V103.5M2684.5 100.9V106.7M2687.5 99.6V107.0M2688.5 103.4V111.8M2691.5 101.9V109.3M2692.5 104.7V115.5M2693.5 109.6V119.0M2694.5 111.8V128.9M2697.5 113.4V125.6M2699.5 106.1V124.3M2701.5 116.6V123.4M2702.5 118.5V129.0M2703.5 125.3V138.4M2705.5 121.0V126.8M2708.5 119.5V126.5M2721.5 94.2V98.9M2724.5 79.1V97.0M2725.5 82.9V90.1M2728.5 79.0V90.6M2733.5 74.1V80.4M2734.5 75.7V83.0M2736.5 76.1V83.5M2737.5 79.0V89.8M2738.5 80.4V89.5M2739.5 82.4V97.6M2740.5 80.5V93.3M2741.5 85.0V89.4M2743.5 86.5V94.1M46.5 386V412M323.5 296V327M526.5 323V340M833.5 344V360M1229.5 290V312M1422.5 240V270M2112.5 455V470M2254.5 236V300" stroke="#f23645" stroke-width="1" fill="none" shape-rendering="crispEdges"/>
<path d="M2.5 405.7V411.9M3.5 400.0V412.0M4.5 405.5V408.9M6.5 402.3V409.5M7.5 398.7V405.5M8.5 398.2V402.9M10.5 392.9V401.4M11.5 390.7V396.4M12.5 386.8V392.9M13.5 384.6V389.8M14.5 378.6V388.1M21.5 406.4V409.3M25.5 408.8V415.8M30.5 417.5V435.6M31.5 410.5V421.1M33.5 413.5V420.2M35.5 407.0V415.9M38.5 411.3V419.7M39.5 409.6V416.3M40.5 408.9V416.1M41.5 402.9V413.9M42.5 395.3V406.9M43.5 390.9V401.6M45.5 385.7V397.6M50.5 410.9V421.6M55.5 406.2V421.0M56.5 404.3V410.2M57.5 403.6V407.7M58.5 397.3V406.8M59.5 397.6V404.0M61.5 399.5V403.5M62.5 394.9V408.3M63.5 391.5V396.9M64.5 371.2V394.8M65.5 360.5V376.8M67.5 356.7V365.5M69.5 356.7V366.7M71.5 361.8V365.2M80.5 379.8V385.4M82.5 377.5V385.5M83.5 374.4V380.7M84.5 371.3V376.0M91.5 377.7V385.5M93.5 374.4V385.7M94.5 381.4V386.4M96.5 380.5V383.5M97.5 379.4V382.8M98.5 379.0V382.8M99.5 374.7V381.8M100.5 370.6V377.9M102.5 369.1V377.0M104.5 374.8V376.7M105.5 368.8V377.6M106.5 349.7V375.0M107.5 333.5V351.9M108.5 325.6V337.0M109.5 319.8V330.7M116.5 333.6V337.5M117.5 328.6V339.2M118.5 332.6V336.1M120.5 329.6V337.6M121.5 329.2V335.8M124.5 327.3V334.6M125.5 322.0V332.8M126.5 314.9V326.9M127.5 316.3V327.9M128.5 307.9V319.1M129.5 306.9V313.9M130.5 307.3V311.3M131.5 301.8V311.6M132.5 306.2V309.4M133.5 299.8V307.6M135.5 302.5V309.4M136.5 300.6V305.2M143.5 319.5V326.5M145.5 317.6V328.5M146.5 321.9V330.8M147.5 318.2V324.3M148.5 316.3V326.1M150.5 312.0V320.5M153.5 312.8V322.5M155.5 309.8V322.3M156.5 308.3V317.1M157.5 304.0V313.4M158.5 302.0V308.5M160.5 302.8V310.6M161.5 300.6V309.7M164.5 303.3V307.4M165.5 300.7V308.4M166.5 297.6V310.7M167.5 296.5V301.5M168.5 289.2V303.7M169.5 289.6V294.3M171.5 288.1V294.4M176.5 295.6V301.4M184.5 311.2V324.9M187.5 324.5V329.9M189.5 329.9V333.7M192.5 332.4V343.1M195.5 340.4V345.4M201.5 350.5V353.9M203.5 349.3V360.0M206.5 348.1V355.8M207.5 346.3V352.5M208.5 344.3V353.3M209.5 340.4V351.7M213.5 354.9V357.7M216.5 360.7V362.6M217.5 358.7V364.1M218.5 355.6V360.5M220.5 358.2V361.8M221.5 356.3V361.2M223.5 353.2V363.2M225.5 349.7V357.0M226.5 345.4V356.0M228.5 342.7V355.1M231.5 347.7V354.9M232.5 343.8V353.4M233.5 338.6V347.9M234.5 324.2V346.0M235.5 316.4V328.0M236.5 311.2V322.0M237.5 301.7V314.2M238.5 302.6V306.7M239.5 293.8V306.2M240.5 294.9V298.2M241.5 291.7V297.0M248.5 311.0V321.6M249.5 313.7V319.9M250.5 312.6V316.2M252.5 308.3V317.6M253.5 308.9V313.7M254.5 303.0V312.8M256.5 302.4V308.5M257.5 297.7V310.0M260.5 297.9V303.0M264.5 304.0V308.3M265.5 304.2V311.0M266.5 291.6V306.3M267.5 291.2V299.3M268.5 290.8V297.4M269.5 289.7V294.4M271.5 287.1V294.1M273.5 288.2V295.5M274.5 279.4V292.4M275.5 285.4V290.2M278.5 277.6V289.5M279.5 281.2V284.8M281.5 281.9V290.4M282.5 279.3V287.5M284.5 278.0V284.9M285.5 266.3V282.3M286.5 270.7V281.7M287.5 267.3V280.8M288.5 261.9V271.8M289.5 259.2V265.0M290.5 255.6V262.3M295.5 268.4V278.7M312.5 306.5V317.8M313.5 310.7V314.4M314.5 308.5V313.9M315.5 308.5V321.5M316.5 304.6V311.9M318.5 305.2V310.6M323.5 310.1V319.7M325.5 309.9V312.8M326.5 302.9V314.0M328.5 302.9V308.6M329.5 300.0V306.0M331.5 297.2V308.6M334.5 306.4V310.6M336.5 307.2V311.1M338.5 306.8V314.6M339.5 299.9V315.1M340.5 306.2V311.0M341.5 306.0V309.6M342.5 301.9V309.0M343.5 291.7V305.5M344.5 295.9V301.7M346.5 296.7V302.8M347.5 296.0V306.5M349.5 295.6V302.7M351.5 294.3V301.4M354.5 298.3V312.2M368.5 321.3V329.5M370.5 320.0V324.9M372.5 321.7V326.0M373.5 317.6V326.7M379.5 325.4V331.6M380.5 320.0V331.4M382.5 321.9V328.2M384.5 319.7V327.4M386.5 317.2V325.1M390.5 317.4V325.8M393.5 322.4V326.6M397.5 329.1V338.8M398.5 321.5V334.1M399.5 317.3V324.7M400.5 312.8V322.2M403.5 315.9V322.6M411.5 329.9V340.7M413.5 328.6V341.4M414.5 329.5V334.7M420.5 336.2V345.6M421.5 333.9V339.8M422.5 332.9V339.1M425.5 334.7V339.2M426.5 329.6V339.6M429.5 336.4V342.9M432.5 338.0V345.8M434.5 341.0V344.7M435.5 333.7V343.7M436.5 334.2V340.4M437.5 332.4V335.8M438.5 329.7V339.4M439.5 324.6V332.0M440.5 323.7V327.3M441.5 322.6V327.2M446.5 350.0V355.4M450.5 361.5V364.9M451.5 359.1V365.4M453.5 355.6V366.7M454.5 357.3V361.9M455.5 356.0V360.7M458.5 351.8V360.2M459.5 352.8V361.1M461.5 354.0V360.9M464.5 351.7V360.4M465.5 349.5V357.1M467.5 350.0V356.7M468.5 349.3V353.9M469.5 346.9V352.0M471.5 350.6V356.6M473.5 345.7V354.2M474.5 346.0V353.2M476.5 349.5V353.8M478.5 346.4V354.7M479.5 348.9V352.4M482.5 352.7V357.9M489.5 374.4V377.2M490.5 372.0V378.8M491.5 370.9V375.6M492.5 366.9V375.4M493.5 368.1V373.4M494.5 364.9V370.9M495.5 362.3V368.9M496.5 364.1V366.4M497.5 359.5V366.1M498.5 350.8V364.2M499.5 351.0V358.4M502.5 353.5V360.8M503.5 346.0V357.3M504.5 353.0V356.8M505.5 351.1V356.6M509.5 349.3V359.2M512.5 352.4V366.3M513.5 346.4V355.0M514.5 336.3V351.0M515.5 337.1V346.2M520.5 343.3V348.7M521.5 340.8V348.0M522.5 339.9V344.8M523.5 333.1V342.3M525.5 333.8V339.4M526.5 333.2V339.0M528.5 342.1V344.2M531.5 339.6V347.4M532.5 339.2V346.3M534.5 335.6V352.5M535.5 336.7V342.2M536.5 333.6V347.5M538.5 333.0V340.9M539.5 330.5V338.3M540.5 333.0V337.6M542.5 327.7V334.6M544.5 329.0V332.9M548.5 337.6V345.3M549.5 338.1V347.7M551.5 339.5V347.2M553.5 335.1V345.8M555.5 334.2V343.6M558.5 328.7V346.8M560.5 340.5V349.4M561.5 339.2V353.1M562.5 329.5V341.1M564.5 333.9V341.7M565.5 331.8V337.4M566.5 329.0V335.3M567.5 332.0V334.5M569.5 329.6V335.4M571.5 329.8V335.6M572.5 325.8V335.4M575.5 331.0V341.6M577.5 331.3V336.9M578.5 326.3V334.6M579.5 325.8V332.5M580.5 323.2V329.9M581.5 317.3V325.9M583.5 317.3V329.9M585.5 316.8V325.6M587.5 314.3V324.7M588.5 306.2V316.7M589.5 303.5V312.1M591.5 298.3V309.5M593.5 302.7V306.8M597.5 304.4V309.4M600.5 307.1V313.5M605.5 306.8V317.0M606.5 310.3V317.9M607.5 308.2V312.2M609.5 304.9V312.2M610.5 298.8V310.0M611.5 303.2V306.8M612.5 303.9V308.9M614.5 303.8V309.3M616.5 308.3V312.5M619.5 322.2V324.3M621.5 322.4V326.9M623.5 318.0V324.9M627.5 321.0V326.1M629.5 315.9V325.6M636.5 331.9V336.6M637.5 327.8V335.6M641.5 325.9V335.1M642.5 317.6V327.6M643.5 307.3V322.5M645.5 309.3V324.3M655.5 343.5V347.1M656.5 341.7V346.8M657.5 336.7V343.8M658.5 339.8V345.7M660.5 334.4V349.7M661.5 331.8V341.1M663.5 334.8V337.6M664.5 330.9V339.3M665.5 331.2V335.1M673.5 341.2V349.3M675.5 345.0V352.0M676.5 343.7V347.2M679.5 347.4V352.2M681.5 351.4V359.2M682.5 351.5V355.1M683.5 349.4V354.1M685.5 349.4V355.5M686.5 348.7V351.8M693.5 359.2V371.0M695.5 360.2V366.8M696.5 357.4V362.4M697.5 356.2V362.3M700.5 351.9V362.1M701.5 348.2V357.3M702.5 340.8V350.9M703.5 334.0V343.5M705.5 333.7V337.6M706.5 327.1V335.8M707.5 327.3V331.2M714.5 338.2V344.7M715.5 336.0V341.2M716.5 334.5V340.4M719.5 333.3V338.0M721.5 332.6V337.7M722.5 328.6V336.8M724.5 328.6V340.5M726.5 328.1V338.8M728.5 326.9V333.4M733.5 361.4V367.7M735.5 362.2V372.2M738.5 365.2V374.2M744.5 390.3V400.1M746.5 385.1V397.0M747.5 386.1V394.4M753.5 394.2V397.8M755.5 390.7V401.2M757.5 392.7V399.0M759.5 391.2V396.1M760.5 387.7V395.2M761.5 385.7V392.6M762.5 385.2V393.6M763.5 384.4V388.9M764.5 377.7V388.3M768.5 384.2V389.3M772.5 388.7V399.5M773.5 386.0V393.3M774.5 382.7V389.6M776.5 383.1V388.3M778.5 387.0V392.1M781.5 382.2V390.6M782.5 383.3V386.1M783.5 379.6V385.9M785.5 373.3V382.3M786.5 375.2V379.6M787.5 372.8V381.0M788.5 371.5V375.0M791.5 372.0V377.2M793.5 374.2V378.5M794.5 368.7V376.5M795.5 367.7V372.7M797.5 364.5V370.5M798.5 364.2V369.1M800.5 362.5V372.4M806.5 365.8V377.3M808.5 370.9V377.3M809.5 367.4V375.4M810.5 364.8V373.7M815.5 374.4V382.7M818.5 381.8V386.7M819.5 375.0V386.4M821.5 370.7V384.7M823.5 369.4V378.9M825.5 368.8V372.7M826.5 368.0V371.7M828.5 366.9V370.3M829.5 364.1V370.5M831.5 361.5V374.7M832.5 357.5V366.5M833.5 352.3V362.6M835.5 350.4V358.3M837.5 350.9V354.6M841.5 352.6V362.7M843.5 353.0V358.2M845.5 353.8V358.9M848.5 352.7V362.9M851.5 359.7V365.8M852.5 359.2V364.1M855.5 358.0V365.9M857.5 355.8V364.0M858.5 355.3V358.0M860.5 350.7V358.0M862.5 350.4V357.6M863.5 348.9V354.0M865.5 352.4V357.8M866.5 349.7V354.6M868.5 345.3V354.7M869.5 345.8V351.4M871.5 339.6V353.2M872.5 343.5V350.4M875.5 345.1V350.5M876.5 339.2V347.4M877.5 336.4V343.9M878.5 334.7V339.1M880.5 333.6V338.4M881.5 324.2V339.8M882.5 327.0V330.6M883.5 324.2V331.8M884.5 312.6V328.8M888.5 324.4V333.3M893.5 330.3V336.3M894.5 323.3V339.4M896.5 324.3V329.4M898.5 324.2V328.5M901.5 325.7V334.7M904.5 328.3V337.6M908.5 327.3V337.6M913.5 338.1V350.1M916.5 337.7V344.5M918.5 340.0V351.6M920.5 340.0V345.6M921.5 337.7V344.5M922.5 336.1V340.0M923.5 332.9V343.4M924.5 333.0V337.4M925.5 328.7V337.5M926.5 329.7V342.2M928.5 329.4V336.0M930.5 326.0V336.5M932.5 326.0V335.9M934.5 323.3V331.2M935.5 323.9V327.6M940.5 332.6V337.9M945.5 347.1V350.4M946.5 345.3V349.4M947.5 339.2V348.4M949.5 339.4V346.5M950.5 333.3V344.2M951.5 332.6V338.4M953.5 334.1V338.9M955.5 335.2V337.8M956.5 333.3V338.1M957.5 329.4V336.5M958.5 326.6V333.3M959.5 325.4V332.6M960.5 315.1V328.4M961.5 315.9V324.9M963.5 317.8V326.1M966.5 322.7V331.5M967.5 320.2V331.2M970.5 325.1V329.9M971.5 323.4V329.0M973.5 321.3V326.2M976.5 318.8V325.0M977.5 320.3V325.3M979.5 318.5V326.3M980.5 318.1V322.0M990.5 358.3V363.5M992.5 360.3V364.1M995.5 365.4V368.4M996.5 359.0V367.6M998.5 360.5V367.7M999.5 358.6V364.8M1000.5 352.4V362.8M1001.5 333.8V356.3M1002.5 336.0V340.8M1004.5 340.2V344.6M1005.5 340.1V344.3M1014.5 375.8V382.0M1015.5 373.8V383.2M1016.5 369.9V379.6M1018.5 369.6V378.9M1020.5 368.0V373.0M1021.5 366.0V370.8M1023.5 367.3V373.0M1024.5 362.2V369.9M1026.5 363.3V370.2M1028.5 360.8V366.1M1029.5 361.7V364.6M1031.5 361.4V366.4M1032.5 360.4V366.0M1034.5 363.2V369.8M1038.5 367.4V373.9M1044.5 373.3V378.4M1046.5 368.2V376.8M1047.5 367.6V374.4M1048.5 363.7V373.0M1049.5 364.2V370.5M1051.5 360.7V370.2M1061.5 377.4V381.2M1062.5 373.2V380.6M1063.5 373.5V379.6M1064.5 370.6V379.7M1065.5 369.8V378.5M1066.5 369.3V373.4M1067.5 369.3V372.6M1069.5 367.8V373.8M1072.5 371.5V378.4M1073.5 370.1V374.6M1074.5 362.4V373.0M1075.5 359.9V368.1M1076.5 356.1V363.6M1078.5 357.3V359.6M1084.5 366.2V373.2M1085.5 360.0V368.8M1086.5 359.8V364.3M1088.5 356.4V364.2M1090.5 355.9V360.4M1091.5 351.1V360.7M1092.5 343.1V353.8M1094.5 341.0V348.6M1095.5 342.1V346.7M1096.5 344.0V346.2M1097.5 342.3V345.8M1098.5 340.5V346.3M1100.5 339.2V343.5M1102.5 336.4V346.2M1104.5 337.1V343.1M1108.5 337.2V341.7M1109.5 337.5V340.0M1111.5 334.0V343.3M1113.5 341.0V345.1M1116.5 343.5V347.0M1117.5 340.4V349.6M1118.5 338.3V344.9M1119.5 336.8V343.6M1121.5 327.6V341.0M1122.5 334.4V340.7M1125.5 332.6V340.8M1126.5 328.7V338.0M1127.5 322.2V333.3M1128.5 319.7V327.3M1130.5 322.0V327.9M1131.5 317.3V325.8M1132.5 320.0V323.4M1133.5 315.9V322.1M1135.5 309.6V320.8M1137.5 314.4V323.1M1139.5 309.8V317.1M1141.5 315.0V325.9M1145.5 317.5V328.3M1146.5 318.1V323.1M1147.5 310.7V321.8M1148.5 312.8V316.3M1149.5 308.4V315.1M1150.5 304.1V317.0M1151.5 306.4V311.0M1156.5 311.4V317.7M1158.5 314.5V320.1M1161.5 316.8V326.1M1164.5 323.5V327.8M1166.5 320.8V329.8M1168.5 319.0V326.8M1170.5 322.8V331.4M1171.5 321.3V328.5M1178.5 330.2V338.6M1180.5 329.0V337.2M1182.5 332.0V336.5M1183.5 331.6V334.9M1184.5 330.3V336.5M1187.5 330.2V334.8M1188.5 328.1V334.4M1190.5 329.1V332.3M1192.5 330.7V334.9M1193.5 327.2V339.8M1195.5 330.8V334.9M1202.5 340.7V349.5M1205.5 339.3V343.8M1207.5 338.2V344.6M1208.5 338.1V343.0M1209.5 338.4V341.8M1210.5 337.9V342.1M1212.5 332.0V345.0M1217.5 345.3V351.9M1221.5 337.0V355.9M1222.5 322.0V341.4M1223.5 313.0V327.5M1225.5 313.4V322.8M1226.5 311.2V317.8M1227.5 305.6V313.9M1228.5 299.3V309.2M1229.5 293.8V302.1M1235.5 306.5V318.2M1238.5 307.1V321.4M1240.5 308.4V314.9M1242.5 305.4V312.3M1243.5 305.4V313.0M1245.5 307.2V312.8M1249.5 316.3V322.1M1250.5 313.0V320.4M1252.5 310.1V316.9M1254.5 303.8V316.7M1255.5 311.8V317.1M1256.5 311.5V317.0M1258.5 309.9V315.0M1260.5 310.5V314.1M1261.5 308.5V315.5M1264.5 302.5V315.7M1265.5 296.2V310.3M1266.5 291.5V299.2M1267.5 286.5V295.8M1268.5 287.1V293.5M1269.5 284.5V289.0M1270.5 282.9V288.4M1272.5 284.5V289.0M1273.5 283.7V295.5M1279.5 299.2V302.8M1280.5 296.6V302.7M1281.5 293.7V300.8M1284.5 288.4V297.8M1285.5 286.2V291.1M1286.5 281.3V291.1M1287.5 272.5V288.0M1288.5 277.8V283.5M1289.5 273.5V281.1M1290.5 269.5V278.5M1291.5 267.7V273.0M1292.5 266.8V271.1M1294.5 263.2V269.9M1295.5 259.2V266.9M1297.5 259.3V264.9M1298.5 254.9V262.0M1299.5 254.9V263.8M1300.5 250.4V258.8M1301.5 247.4V256.2M1302.5 247.3V251.4M1307.5 253.7V259.7M1309.5 256.4V262.1M1310.5 253.7V259.8M1312.5 256.6V264.8M1313.5 248.3V259.0M1314.5 236.5V252.7M1316.5 234.4V242.6M1319.5 240.2V246.1M1321.5 237.2V246.2M1322.5 239.2V248.0M1324.5 238.9V244.3M1325.5 239.4V243.4M1331.5 252.9V258.4M1333.5 254.7V258.6M1339.5 270.5V274.5M1340.5 269.8V276.3M1342.5 272.9V275.8M1343.5 267.7V277.7M1346.5 274.5V280.4M1347.5 274.7V280.6M1348.5 272.9V276.6M1350.5 273.6V277.5M1351.5 271.7V275.7M1354.5 275.0V279.3M1357.5 270.7V281.9M1359.5 268.4V280.9M1361.5 270.3V284.0M1362.5 264.6V274.3M1363.5 265.4V271.3M1365.5 265.8V270.0M1366.5 257.3V268.5M1368.5 260.1V266.6M1369.5 257.9V264.2M1371.5 253.5V263.8M1372.5 253.2V260.2M1378.5 270.2V277.2M1380.5 273.6V278.0M1385.5 278.5V286.0M1389.5 283.2V291.3M1391.5 284.8V287.4M1394.5 283.1V290.3M1395.5 283.3V291.1M1396.5 281.7V285.5M1397.5 276.9V283.9M1398.5 270.2V280.8M1399.5 271.4V277.9M1401.5 267.3V275.4M1403.5 263.0V270.6M1404.5 260.8V269.4M1406.5 255.3V265.4M1407.5 256.9V264.1M1409.5 250.4V263.0M1411.5 250.4V265.7M1414.5 252.8V259.0M1416.5 254.3V260.6M1417.5 249.9V258.3M1419.5 252.1V261.1M1421.5 251.8V256.9M1423.5 247.9V257.8M1424.5 245.9V252.9M1426.5 245.0V253.1M1427.5 237.8V253.6M1429.5 243.3V248.6M1431.5 240.8V249.9M1435.5 247.9V253.4M1438.5 251.9V257.2M1441.5 254.1V262.6M1443.5 245.1V259.8M1444.5 250.3V256.5M1445.5 243.6V252.6M1446.5 242.9V248.5M1447.5 242.7V253.0M1448.5 238.2V245.8M1449.5 235.7V243.5M1450.5 234.2V238.1M1455.5 251.3V254.9M1456.5 249.3V253.3M1457.5 245.5V255.9M1459.5 239.5V252.3M1461.5 241.1V255.0M1463.5 239.1V245.0M1464.5 235.7V242.7M1465.5 236.1V242.0M1467.5 233.3V245.1M1476.5 272.0V274.8M1482.5 273.1V278.6M1484.5 276.6V283.6M1490.5 277.3V284.6M1495.5 299.5V304.3M1496.5 299.2V304.3M1497.5 296.9V302.7M1499.5 295.5V299.9M1501.5 296.6V302.4M1502.5 293.4V299.3M1508.5 298.7V302.8M1510.5 296.0V308.7M1512.5 300.8V308.1M1518.5 310.1V312.8M1519.5 309.0V313.1M1520.5 306.4V318.4M1521.5 303.0V309.8M1523.5 307.5V309.9M1525.5 307.6V312.6M1528.5 311.2V316.8M1530.5 310.7V315.2M1533.5 315.2V319.3M1535.5 314.3V321.5M1540.5 318.8V322.5M1549.5 335.2V340.4M1550.5 330.1V341.7M1551.5 323.1V335.1M1553.5 329.1V337.4M1555.5 329.7V334.5M1557.5 330.9V336.1M1562.5 340.2V344.3M1567.5 347.1V353.3M1570.5 349.8V357.2M1572.5 349.4V354.5M1573.5 346.8V354.8M1575.5 348.3V352.5M1576.5 347.8V354.7M1577.5 344.8V351.2M1578.5 342.1V348.5M1579.5 340.8V348.6M1580.5 339.8V342.3M1582.5 337.7V342.5M1587.5 345.9V353.0M1588.5 346.8V350.4M1589.5 344.1V348.8M1591.5 341.1V348.1M1594.5 346.1V359.9M1596.5 342.5V353.6M1597.5 339.4V347.3M1598.5 334.9V344.8M1599.5 336.6V341.2M1600.5 329.8V338.0M1601.5 326.5V333.6M1603.5 328.8V332.5M1604.5 324.5V331.5M1606.5 329.1V333.3M1607.5 325.4V332.6M1609.5 324.2V332.0M1612.5 321.9V333.1M1615.5 321.3V331.1M1616.5 318.5V326.6M1617.5 318.5V324.3M1619.5 317.3V322.6M1620.5 317.5V324.4M1624.5 314.7V329.3M1625.5 312.9V321.1M1626.5 310.9V316.5M1631.5 371.6V374.9M1632.5 368.0V375.4M1633.5 356.4V371.1M1634.5 354.1V367.7M1635.5 354.9V358.9M1636.5 350.2V357.5M1637.5 346.3V352.7M1638.5 343.8V350.0M1639.5 343.4V350.4M1651.5 387.1V393.8M1657.5 391.2V400.5M1659.5 394.6V404.2M1660.5 389.5V397.8M1666.5 419.0V423.3M1668.5 414.6V428.9M1670.5 412.6V422.9M1672.5 410.3V416.1M1676.5 415.5V425.9M1677.5 412.0V420.0M1679.5 396.7V417.6M1680.5 404.3V409.9M1681.5 399.3V409.7M1684.5 401.7V409.9M1685.5 398.5V403.8M1687.5 399.1V407.8M1693.5 415.2V421.5M1695.5 415.2V423.3M1702.5 451.1V455.5M1703.5 445.7V453.6M1704.5 439.4V453.2M1705.5 439.3V447.9M1706.5 436.9V443.0M1707.5 430.9V440.5M1708.5 427.5V435.0M1709.5 424.2V429.4M1713.5 429.6V443.0M1714.5 431.5V439.8M1715.5 431.8V439.2M1716.5 428.8V434.8M1717.5 426.2V432.4M1718.5 420.1V434.7M1719.5 414.4V425.4M1720.5 399.6V420.3M1722.5 411.5V413.8M1726.5 413.5V425.2M1728.5 413.5V420.9M1729.5 411.4V417.6M1730.5 409.2V416.6M1731.5 405.7V412.5M1740.5 432.4V437.1M1741.5 426.5V437.0M1744.5 426.5V440.9M1745.5 422.9V431.1M1746.5 422.3V429.1M1750.5 422.8V435.7M1751.5 421.6V428.2M1752.5 419.6V426.5M1754.5 414.2V425.2M1755.5 413.2V418.8M1756.5 407.3V419.0M1757.5 404.6V412.3M1758.5 404.1V411.3M1759.5 403.3V410.8M1760.5 403.2V406.8M1761.5 400.7V406.5M1768.5 413.2V419.7M1769.5 412.0V415.6M1770.5 409.6V415.6M1774.5 417.6V420.6M1779.5 423.9V428.9M1786.5 431.5V435.4M1788.5 431.8V439.0M1791.5 435.9V439.6M1792.5 429.5V438.2M1794.5 427.9V439.1M1795.5 424.8V433.5M1798.5 420.6V431.1M1801.5 424.2V429.2M1802.5 422.9V427.4M1805.5 422.9V430.0M1814.5 462.5V467.6M1816.5 454.9V465.9M1819.5 460.4V465.0M1821.5 462.6V470.2M1822.5 457.2V470.9M1823.5 450.6V461.3M1824.5 445.5V455.0M1828.5 451.8V458.2M1831.5 454.3V462.4M1832.5 454.9V465.2M1835.5 454.6V461.7M1837.5 452.6V460.3M1839.5 455.9V461.4M1840.5 453.9V457.7M1842.5 451.4V458.6M1844.5 450.0V460.2M1847.5 447.1V455.3M1849.5 447.1V451.6M1851.5 448.2V455.1M1854.5 456.5V460.8M1856.5 453.7V459.0M1860.5 462.6V469.0M1866.5 493.1V495.5M1867.5 483.7V498.7M1868.5 489.3V493.8M1870.5 482.6V493.6M1872.5 483.8V490.3M1873.5 480.3V486.7M1875.5 469.1V484.9M1876.5 460.8V474.5M1877.5 455.4V465.8M1878.5 456.4V462.7M1880.5 455.2V460.2M1886.5 470.8V476.5M1891.5 479.0V485.3M1893.5 485.8V489.6M1894.5 484.4V488.9M1895.5 484.0V488.4M1896.5 482.0V487.1M1899.5 486.3V490.9M1907.5 508.8V516.5M1908.5 502.0V510.7M1909.5 502.2V506.4M1910.5 497.7V504.9M1911.5 493.2V501.1M1912.5 491.8V500.0M1913.5 489.0V499.6M1914.5 486.7V491.3M1915.5 484.2V496.5M1916.5 483.3V487.8M1917.5 479.3V486.3M1925.5 485.4V500.2M1927.5 485.3V491.4M1929.5 483.3V491.1M1930.5 484.7V487.9M1931.5 483.1V487.5M1933.5 481.8V487.7M1934.5 476.5V485.8M1935.5 471.8V483.2M1936.5 466.3V476.6M1937.5 454.8V469.8M1938.5 453.8V460.6M1942.5 456.8V462.8M1943.5 453.3V466.6M1944.5 450.7V459.3M1945.5 449.6V454.1M1946.5 447.8V455.2M1947.5 447.4V451.1M1954.5 449.5V460.6M1955.5 446.8V456.1M1958.5 440.0V452.1M1959.5 436.2V448.1M1960.5 426.0V438.2M1962.5 424.9V431.5M1963.5 423.4V428.9M1964.5 421.1V429.6M1971.5 446.5V449.7M1972.5 443.2V450.0M1974.5 445.1V449.6M1978.5 451.1V457.5M1981.5 453.8V458.7M1983.5 452.1V457.3M1984.5 448.9V458.2M1985.5 446.6V452.1M1994.5 494.6V505.2M1995.5 488.9V502.2M1997.5 487.6V495.7M1998.5 479.5V489.7M1999.5 476.5V486.7M2000.5 476.3V482.3M2001.5 474.0V479.6M2002.5 466.2V478.9M2003.5 466.6V471.8M2004.5 461.9V468.6M2005.5 459.3V467.7M2006.5 455.1V465.1M2007.5 455.9V462.7M2008.5 453.2V459.4M2009.5 450.7V458.2M2015.5 464.2V470.9M2016.5 463.8V469.2M2017.5 460.3V466.7M2019.5 459.5V467.3M2025.5 480.8V488.9M2027.5 483.2V486.5M2028.5 480.4V486.1M2030.5 479.4V486.6M2031.5 478.4V484.3M2032.5 477.2V481.9M2033.5 475.2V481.0M2034.5 468.9V477.5M2035.5 469.1V473.2M2036.5 467.1V473.6M2037.5 462.2V468.6M2038.5 458.4V466.5M2039.5 458.6V463.4M2040.5 454.2V461.5M2041.5 451.0V457.7M2042.5 450.9V457.4M2044.5 445.9V454.3M2045.5 445.4V450.9M2046.5 442.7V452.1M2048.5 433.2V447.9M2049.5 433.8V441.2M2050.5 433.1V438.4M2051.5 430.5V434.7M2052.5 429.6V439.7M2055.5 428.6V439.6M2058.5 433.8V438.2M2061.5 440.9V444.0M2066.5 448.1V453.9M2067.5 438.9V450.6M2070.5 445.0V453.8M2071.5 441.9V449.4M2072.5 442.8V448.7M2073.5 443.4V446.4M2074.5 440.0V448.3M2075.5 437.1V442.7M2076.5 430.8V440.6M2079.5 427.8V438.3M2082.5 431.9V443.0M2083.5 430.4V437.1M2084.5 427.0V434.4M2085.5 426.5V438.7M2088.5 435.1V439.8M2090.5 432.9V440.9M2091.5 433.2V436.0M2092.5 431.4V437.3M2093.5 427.1V434.8M2095.5 425.5V435.3M2100.5 430.0V436.9M2112.5 464.1V468.8M2113.5 456.6V470.7M2114.5 452.0V463.6M2115.5 446.5V459.1M2116.5 438.5V450.9M2118.5 429.4V446.5M2120.5 437.3V441.6M2121.5 427.8V441.5M2122.5 421.2V433.3M2123.5 414.1V429.1M2124.5 404.9V419.0M2125.5 391.0V408.9M2126.5 369.7V396.6M2127.5 364.0V382.9M2128.5 344.8V373.1M2129.5 348.3V369.6M2130.5 340.7V353.3M2131.5 344.3V354.3M2132.5 339.7V355.2M2133.5 341.2V346.6M2135.5 339.9V350.4M2136.5 333.6V344.0M2137.5 334.5V341.4M2138.5 329.9V337.6M2139.5 325.8V338.0M2140.5 324.6V332.3M2141.5 321.4V331.5M2143.5 331.1V334.4M2144.5 326.8V339.1M2148.5 329.5V339.6M2149.5 329.4V336.7M2150.5 328.2V344.0M2151.5 321.6V335.7M2152.5 322.9V327.1M2153.5 315.7V327.6M2154.5 308.6V324.7M2156.5 311.9V320.4M2159.5 315.0V325.1M2160.5 305.3V321.6M2162.5 319.8V326.9M2165.5 324.7V334.8M2167.5 328.9V339.8M2169.5 320.4V338.8M2170.5 321.5V330.1M2172.5 321.9V328.7M2175.5 319.8V326.0M2176.5 314.6V327.8M2177.5 303.5V320.7M2179.5 312.9V321.2M2180.5 310.8V316.8M2181.5 311.1V315.1M2182.5 306.1V317.2M2183.5 302.9V309.3M2186.5 313.3V317.9M2189.5 314.7V323.5M2195.5 333.8V337.0M2196.5 328.5V342.1M2198.5 333.2V341.6M2204.5 340.5V346.8M2208.5 339.9V350.8M2209.5 339.3V345.5M2214.5 344.3V359.1M2216.5 346.2V356.5M2222.5 352.1V366.3M2223.5 345.1V360.6M2225.5 348.8V360.5M2226.5 345.2V358.0M2228.5 342.3V355.5M2230.5 327.8V351.6M2231.5 336.1V341.7M2233.5 335.8V343.8M2235.5 333.3V343.7M2237.5 339.8V344.7M2238.5 331.6V347.0M2241.5 339.2V350.6M2243.5 342.7V348.0M2245.5 335.8V349.3M2248.5 334.3V350.7M2249.5 321.2V341.9M2250.5 313.5V330.8M2251.5 287.7V319.6M2252.5 299.9V318.2M2253.5 290.3V330.4M2254.5 268.8V295.9M2255.5 258.2V283.6M2256.5 264.6V276.5M2258.5 259.9V287.8M2264.5 294.9V309.4M2269.5 303.0V314.3M2270.5 287.3V310.3M2271.5 295.0V304.4M2273.5 290.4V317.0M2274.5 294.7V302.1M2275.5 283.2V303.5M2276.5 272.1V290.8M2277.5 273.6V288.2M2278.5 264.5V284.5M2282.5 280.0V301.3M2283.5 252.8V291.5M2284.5 261.8V278.5M2285.5 246.1V274.1M2286.5 234.1V255.7M2287.5 201.8V244.8M2288.5 198.6V217.8M2289.5 192.9V209.2M2290.5 186.6V200.9M2291.5 178.0V191.8M2292.5 177.6V186.4M2298.5 190.4V200.0M2302.5 184.6V210.8M2304.5 190.0V205.7M2306.5 189.4V205.7M2307.5 186.5V197.2M2308.5 184.1V207.4M2312.5 182.7V201.4M2313.5 188.7V194.0M2314.5 182.3V193.2M2316.5 171.0V198.7M2317.5 174.3V195.0M2319.5 185.0V194.3M2320.5 179.7V191.8M2321.5 174.7V190.9M2322.5 172.3V196.5M2323.5 156.6V185.6M2324.5 147.6V167.6M2325.5 139.9V155.4M2326.5 127.7V145.7M2328.5 130.3V141.2M2338.5 178.9V189.9M2340.5 184.1V194.1M2343.5 187.2V197.1M2346.5 190.8V196.3M2348.5 186.8V199.6M2350.5 188.1V202.3M2352.5 188.9V200.0M2353.5 178.8V197.9M2355.5 172.4V194.5M2357.5 172.9V194.7M2360.5 176.7V184.2M2361.5 173.3V181.2M2364.5 174.3V183.6M2367.5 181.8V192.9M2373.5 198.4V209.6M2375.5 204.1V211.7M2377.5 200.9V214.4M2379.5 196.3V212.7M2380.5 192.6V208.0M2382.5 194.8V204.7M2383.5 186.0V198.0M2386.5 197.9V208.1M2389.5 189.0V208.0M2390.5 190.2V202.4M2391.5 188.2V198.2M2393.5 185.4V197.3M2394.5 187.2V194.1M2399.5 191.1V201.2M2400.5 190.9V196.3M2403.5 199.3V209.3M2408.5 207.6V232.6M2410.5 219.6V226.8M2411.5 220.0V225.5M2412.5 218.1V223.4M2417.5 248.9V261.7M2419.5 257.3V265.4M2420.5 254.4V261.3M2421.5 243.5V258.9M2423.5 243.3V261.9M2424.5 238.5V250.6M2426.5 231.7V247.2M2427.5 230.0V243.5M2429.5 229.4V245.8M2431.5 227.5V241.5M2434.5 226.7V245.3M2436.5 233.9V242.6M2437.5 230.0V246.4M2439.5 228.8V244.7M2442.5 236.2V248.6M2443.5 236.1V245.1M2444.5 221.6V244.2M2445.5 218.1V239.7M2446.5 223.1V230.2M2447.5 223.2V234.3M2449.5 216.8V231.1M2450.5 217.2V223.7M2451.5 214.8V221.3M2454.5 215.8V220.0M2455.5 207.7V220.8M2456.5 195.0V218.1M2457.5 205.7V214.0M2458.5 197.6V208.5M2459.5 195.2V205.7M2460.5 191.1V203.5M2465.5 206.8V221.1M2466.5 204.6V212.4M2468.5 206.2V211.6M2469.5 196.5V212.0M2470.5 192.1V214.3M2471.5 189.8V197.2M2473.5 181.3V201.6M2475.5 174.3V188.0M2477.5 183.5V187.7M2478.5 179.0V188.8M2480.5 180.2V190.0M2486.5 196.5V207.3M2488.5 204.8V211.3M2492.5 212.9V218.8M2493.5 207.5V217.4M2494.5 187.4V212.9M2495.5 192.8V204.3M2496.5 190.9V199.2M2498.5 194.1V202.5M2500.5 191.6V206.1M2501.5 190.1V200.7M2503.5 182.7V197.7M2504.5 181.6V189.8M2505.5 169.6V188.2M2506.5 170.8V180.7M2508.5 170.8V184.4M2511.5 174.9V179.7M2515.5 178.4V192.4M2517.5 176.3V191.8M2518.5 173.0V186.2M2520.5 173.1V182.1M2522.5 165.6V182.1M2524.5 165.5V181.1M2525.5 154.8V170.4M2526.5 162.3V169.7M2530.5 171.0V179.7M2532.5 174.8V181.1M2533.5 169.1V182.9M2535.5 176.7V187.0M2536.5 171.8V181.7M2537.5 175.0V182.1M2538.5 174.8V179.8M2539.5 173.4V178.5M2541.5 171.1V180.5M2542.5 167.8V183.6M2544.5 173.9V179.0M2545.5 167.3V182.7M2547.5 158.5V180.8M2548.5 157.6V170.3M2549.5 154.3V166.9M2550.5 139.7V159.0M2551.5 144.4V153.7M2552.5 130.2V148.8M2553.5 130.7V142.6M2554.5 130.8V137.9M2555.5 126.4V133.5M2560.5 125.2V144.2M2561.5 139.1V146.1M2562.5 131.3V146.1M2564.5 134.5V142.6M2565.5 130.5V140.6M2566.5 129.1V138.3M2568.5 126.3V135.5M2570.5 131.5V142.2M2573.5 138.1V146.1M2577.5 150.8V158.4M2578.5 149.4V157.0M2583.5 155.7V165.8M2585.5 156.2V164.0M2586.5 152.7V160.9M2587.5 152.2V162.5M2588.5 144.4V157.6M2590.5 140.9V153.9M2593.5 141.5V158.0M2595.5 149.6V157.0M2597.5 148.1V156.5M2598.5 134.5V152.6M2599.5 120.4V140.7M2601.5 123.3V134.3M2602.5 118.6V127.0M2603.5 117.9V126.7M2605.5 120.7V127.0M2606.5 115.3V125.5M2608.5 107.6V121.7M2609.5 107.0V118.7M2610.5 99.6V113.0M2611.5 97.4V115.6M2613.5 99.6V106.6M2614.5 92.4V108.1M2615.5 88.0V96.4M2618.5 94.8V101.6M2619.5 90.2V101.4M2621.5 89.6V97.1M2622.5 86.7V96.5M2623.5 82.5V95.9M2624.5 85.4V89.0M2625.5 82.8V88.9M2627.5 74.8V88.6M2628.5 72.4V83.0M2629.5 71.8V79.2M2630.5 64.6V76.1M2631.5 68.5V79.3M2633.5 62.6V75.9M2635.5 69.4V76.6M2639.5 65.1V78.7M2641.5 58.7V72.8M2645.5 76.5V93.6M2647.5 82.7V88.9M2648.5 78.3V88.8M2650.5 74.1V81.0M2651.5 76.8V83.2M2652.5 73.3V79.7M2654.5 78.6V87.0M2656.5 84.6V88.6M2659.5 88.5V98.2M2660.5 89.6V95.0M2661.5 83.3V96.0M2664.5 87.8V99.6M2665.5 88.6V91.0M2668.5 86.9V94.5M2671.5 86.6V91.7M2674.5 91.1V99.7M2677.5 95.8V103.1M2678.5 98.6V104.9M2680.5 96.7V105.6M2683.5 98.1V103.2M2685.5 99.0V109.1M2686.5 97.6V108.1M2689.5 104.9V110.3M2690.5 99.7V111.5M2695.5 118.4V128.2M2696.5 115.2V122.3M2698.5 115.3V123.5M2700.5 117.9V125.6M2704.5 123.4V133.2M2706.5 120.4V125.1M2707.5 119.5V128.3M2709.5 116.3V129.9M2710.5 112.0V123.1M2711.5 108.6V131.5M2712.5 111.6V117.0M2713.5 108.8V116.8M2714.5 106.2V113.2M2715.5 105.7V120.1M2716.5 94.6V123.8M2717.5 98.4V113.5M2718.5 100.9V108.2M2719.5 94.9V105.1M2720.5 89.3V100.4M2722.5 86.3V97.6M2723.5 81.0V90.6M2726.5 83.7V94.5M2727.5 71.7V86.6M2729.5 79.3V90.6M2730.5 79.8V86.9M2731.5 74.8V86.4M2732.5 75.2V85.6M2735.5 76.4V83.5M2742.5 85.2V93.3M2744.5 86.4V99.0M2745.5 86.1V90.6M593.5 290V308M1372.5 249V266M1701.5 440V476M1762.5 395V410M1877.5 448V470M2289.5 160V215M2416.5 240V272M2491.5 205V232M2699.5 92V135" stroke="#089981" stroke-width="1" fill="none" shape-rendering="crispEdges"/>
<path d="M0.0 703.7L0.0 704.0L1.1 703.6L2.3 704.8L2.3 702.5L3.4 701.1L4.6 700.2L5.8 699.5L6.9 696.1L8.0 696.7L8.1 696.9L9.2 699.6L10.4 702.7L11.5 701.1L12.7 704.3L13.5 707.0L13.8 704.1L15.0 705.3L16.1 702.1L17.2 695.9L17.5 697.8L18.4 701.0L19.5 701.6L20.7 700.6L21.0 700.0L21.8 697.6L23.0 691.2L24.1 686.4L25.3 685.1L25.6 683.9L26.4 682.7L27.6 684.9L28.7 686.8L29.0 688.5L29.9 683.3L31.0 682.3L32.2 678.8L33.3 677.7L34.5 672.6L35.0 671.0L35.6 672.0L36.8 671.7L37.9 673.1L39.1 672.5L40.2 672.0L40.8 673.4L41.4 676.5L42.5 677.3L43.7 677.3L44.0 675.7L44.8 668.4L46.0 654.9L46.6 650.0L47.1 648.5L48.3 648.9L49.4 647.7L50.6 651.4L51.7 649.5L52.4 650.0L52.9 655.2L54.0 660.3L54.7 665.2L55.2 668.6L56.3 670.2L57.5 667.7L57.8 671.0L58.6 660.6L58.7 661.7L59.8 663.5L60.9 660.8L62.0 660.6L62.1 664.5L63.2 676.8L64.0 687.4L64.4 685.3L65.5 689.0L66.7 690.5L67.8 688.4L68.0 689.7L69.0 685.5L70.1 684.5L71.3 685.7L72.4 682.3L73.4 679.0L73.6 676.8L74.8 676.8L75.9 675.2L77.1 674.3L78.2 677.5L79.4 673.4L80.4 674.5L80.5 675.0L81.7 676.7L82.8 677.6L83.9 681.5L84.0 682.7L85.1 678.1L86.3 679.4L87.4 675.2L88.6 675.5L89.7 674.5L89.7 672.9L90.9 671.0L92.0 669.9L92.0 672.4L93.2 672.7L94.3 671.1L95.5 675.4L95.5 673.4L96.6 670.7L97.8 670.5L98.9 671.8L100.0 668.7L100.1 669.5L101.2 668.1L102.4 674.3L103.5 671.6L103.7 673.4L104.7 686.5L105.8 706.7L106.0 708.3L107.0 708.5L108.1 709.7L109.3 709.9L110.4 711.4L111.6 715.4L111.8 715.3L112.7 713.7L113.9 715.3L115.0 713.8L116.2 714.0L117.3 716.4L118.5 713.5L119.6 713.8L120.8 715.0L121.0 713.0L121.9 713.4L123.1 715.9L124.2 722.7L125.4 724.8L126.5 724.5L127.7 726.8L128.0 729.3L128.8 729.8L130.0 729.8L131.1 724.6L131.6 725.8L132.3 728.7L133.4 729.3L134.6 728.7L135.7 728.6L136.0 729.3L136.9 726.7L138.0 725.6L139.2 730.0L140.3 725.4L141.5 727.2L142.0 725.8L142.6 724.9L143.8 728.8L144.9 728.4L146.1 727.6L146.8 729.3L147.2 727.3L148.4 729.7L149.5 725.6L150.7 725.9L151.4 727.0L151.8 727.8L153.0 730.7L154.1 730.7L155.3 730.2L156.4 735.0L157.6 732.4L158.4 735.0L158.7 732.6L159.9 735.0L161.0 736.9L162.2 735.8L163.3 737.5L164.0 739.8L164.5 740.0L165.6 743.3L166.8 743.1L167.9 746.6L169.1 751.7L170.0 751.4L170.2 754.3L171.4 754.3L172.5 756.2L173.7 757.3L174.7 758.4L174.8 756.3L176.0 754.1L177.1 752.4L178.0 753.7L178.3 755.8L179.4 754.2L180.6 755.2L181.7 749.7L182.9 752.6L184.0 751.4L184.0 751.3L185.2 763.9L185.9 770.0L186.3 768.1L187.5 769.0L188.6 761.3L189.8 761.1L189.8 760.7L190.9 761.2L192.1 761.3L193.2 759.6L194.4 758.6L195.5 758.3L196.7 758.2L197.8 754.3L198.0 755.0L199.0 756.1L200.1 757.5L201.3 757.5L202.4 755.2L203.6 757.4L204.7 757.9L205.0 756.0L205.9 755.9L207.0 755.5L208.2 753.5L209.3 753.9L210.5 753.4L210.8 752.6L211.6 746.9L212.8 744.9L213.9 741.8L214.3 737.4L215.1 739.8L216.2 739.4L217.4 738.1L218.5 740.4L219.7 740.1L220.0 739.8L220.8 740.7L222.0 744.6L223.1 742.3L224.3 747.7L225.4 745.5L226.0 749.0L226.6 749.5L227.7 748.9L228.9 747.5L230.0 750.1L231.2 749.0L231.8 749.0L232.3 753.3L233.5 763.6L234.0 765.4L234.6 766.9L235.8 770.9L236.9 777.8L238.0 784.0L238.1 784.8L239.2 779.2L240.4 775.9L241.5 776.7L242.3 772.4L242.7 772.7L243.8 769.5L245.0 769.9L245.7 766.5L246.1 766.3L247.3 770.1L248.4 769.6L249.6 772.8L250.4 774.7L250.7 776.8L251.9 779.3L253.0 781.1L253.9 780.5L254.2 780.9L255.3 786.5L256.5 789.7L257.4 794.5L257.6 792.4L258.8 793.9L259.9 795.2L261.1 794.8L262.2 793.6L263.4 794.4L264.5 790.2L265.5 791.0L265.7 789.7L266.8 795.1L268.0 798.0L269.1 801.5L270.0 806.0L270.3 806.3L271.4 810.7L272.6 813.3L273.7 816.6L273.7 815.6L274.9 815.8L276.0 814.0L277.2 808.6L278.3 803.9L278.4 806.0L279.5 806.0L280.6 813.2L281.8 811.5L281.9 814.3L282.9 817.7L284.1 819.6L285.2 820.8L286.0 823.6L286.4 832.5L287.0 844.6L287.5 846.2L288.7 856.6L289.8 868.1L290.0 870.0L291.0 860.5L292.1 856.5L293.3 845.0L293.5 844.6L294.4 845.5L295.6 848.5L296.7 855.3L297.9 857.8L298.0 858.6L299.0 853.2L300.2 846.4L301.3 840.2L302.4 834.0L302.8 829.4L303.6 829.3L304.7 825.2L305.9 825.1L307.0 822.0L308.2 819.5L309.3 820.5L309.8 820.0L310.5 822.7L311.6 822.3L312.8 825.3L313.0 827.0L313.9 825.2L315.1 826.0L316.2 823.9L317.4 823.2L318.5 822.8L319.7 819.7L320.0 820.0L320.8 822.4L322.0 824.2L323.1 820.9L324.3 826.6L325.4 826.7L326.0 826.0L326.6 825.7L327.7 830.8L328.9 835.1L329.6 836.4L330.0 837.0L331.2 830.1L332.3 827.1L333.5 824.8L334.0 821.0L334.6 822.5L335.8 823.1L336.9 820.3L338.1 821.1L339.2 818.5L340.0 820.0L340.4 822.6L341.5 827.1L342.4 828.3L342.7 827.8L343.8 823.1L345.0 815.4L345.9 813.0L346.1 815.7L347.3 818.4L348.4 820.7L349.4 820.0L349.6 820.1L350.7 821.0L351.9 818.0L353.0 820.7L354.2 819.9L355.3 816.7L356.5 814.8L357.6 816.6L357.6 816.1L358.8 812.3L359.9 809.1L361.1 803.2L362.2 796.3L363.4 796.2L363.4 794.5L364.5 791.0L365.7 793.7L366.8 789.2L368.0 788.8L369.0 788.7L369.1 789.4L370.3 779.1L370.4 780.5L371.4 780.2L372.6 783.9L372.7 784.0L373.7 781.5L374.9 778.1L376.0 772.4L376.0 773.4L377.2 774.6L378.3 771.9L379.5 774.1L380.6 769.2L381.8 769.7L382.0 771.2L382.9 771.9L384.1 771.3L385.2 774.4L386.4 774.6L387.5 774.7L387.8 774.7L388.7 776.2L389.8 774.3L391.0 772.5L391.0 773.5L392.1 769.8L393.3 769.2L394.0 765.4L394.4 768.3L395.6 766.3L396.7 771.5L397.0 770.0L397.9 780.9L399.0 789.2L399.5 793.3L400.2 792.1L401.3 787.4L402.5 786.6L403.6 783.7L404.0 782.9L404.8 782.2L405.9 777.2L407.1 780.4L407.6 777.0L408.2 778.2L409.4 779.7L410.5 783.9L411.7 784.6L412.8 786.3L413.5 787.5L414.0 788.8L415.1 786.2L416.3 789.4L417.4 789.4L418.6 793.0L419.3 791.0L419.7 793.3L420.9 789.9L422.0 791.2L423.2 789.4L424.3 791.2L425.5 793.4L426.6 794.0L427.8 791.8L428.6 792.0L428.9 790.7L430.1 789.0L431.2 790.3L432.4 790.9L433.5 785.6L433.7 787.5L434.7 794.4L435.8 796.6L436.0 800.0L437.0 800.8L438.1 803.7L439.3 809.0L439.5 808.5L440.4 797.9L441.6 786.4L442.6 777.0L442.7 777.2L443.9 771.3L445.0 771.5L446.0 767.7L446.2 765.5L447.3 766.9L448.5 764.7L449.6 763.6L450.8 764.6L451.9 763.4L453.0 763.0L453.1 762.5L454.2 764.6L455.4 767.1L456.5 767.0L456.6 768.9L457.7 764.8L458.8 764.5L460.0 761.9L461.1 758.7L461.2 758.4L462.3 759.5L463.4 757.4L464.6 758.0L465.7 753.8L466.9 755.8L468.0 753.7L468.0 755.4L469.2 755.4L470.3 751.8L471.5 751.3L472.6 754.2L473.8 749.9L474.9 753.7L476.1 752.6L477.2 748.1L477.5 750.0L478.4 747.5L479.5 748.6L480.7 744.7L481.0 745.6L481.8 736.9L483.0 732.1L484.1 721.1L484.5 718.8L485.3 720.1L486.4 716.1L487.6 717.2L488.0 717.6L488.7 719.5L489.9 717.4L491.0 719.8L492.2 723.9L492.7 723.5L493.3 727.8L494.5 731.8L495.6 731.0L496.8 736.8L497.0 737.4L497.9 738.3L499.1 736.4L500.2 736.8L501.4 733.6L502.5 732.4L503.7 732.0L504.0 734.0L504.8 731.0L506.0 733.1L507.1 732.2L508.3 731.8L509.4 728.8L510.0 730.4L510.6 729.4L511.7 730.8L512.9 735.6L514.0 737.8L515.2 738.8L516.0 737.4L516.3 735.4L517.5 736.0L518.6 741.6L519.8 739.7L520.9 742.1L522.1 740.5L523.0 742.0L523.2 740.9L524.4 737.2L525.0 735.0L525.5 734.6L526.7 735.5L527.8 732.4L529.0 736.1L530.1 736.9L531.3 733.3L532.4 734.8L533.4 735.0L533.6 736.4L534.7 735.2L535.9 734.6L537.0 735.1L538.2 737.5L539.3 735.5L540.5 740.8L541.6 740.9L542.7 739.8L542.8 740.9L543.9 741.2L545.1 739.5L546.2 737.8L547.4 738.4L548.5 737.4L548.6 737.4L549.7 741.1L550.8 741.4L552.0 739.6L553.1 744.3L554.0 743.0L554.3 742.5L555.4 735.9L556.6 729.3L556.7 727.0L557.7 724.1L558.9 724.2L560.0 721.6L561.2 718.0L561.4 716.5L562.3 722.3L563.5 727.5L563.7 727.0L564.6 725.7L565.8 726.4L566.9 721.9L568.1 722.4L569.2 722.1L570.4 718.6L570.7 721.0L571.5 720.8L572.7 723.1L573.8 723.8L575.0 722.5L576.1 727.1L577.3 726.4L577.7 725.8L578.4 725.9L579.6 729.2L580.7 730.2L581.9 731.5L583.0 732.2L584.2 737.0L584.7 735.0L585.3 737.3L586.5 740.3L587.6 743.3L588.8 747.2L589.9 744.7L591.1 750.6L591.7 751.4L592.2 752.2L593.4 748.5L594.5 748.2L595.7 745.3L596.8 745.0L598.0 744.9L598.0 745.6L599.1 743.7L600.3 744.7L601.4 748.5L602.6 746.8L603.7 746.8L604.0 746.8L604.9 749.0L606.0 746.5L607.2 748.4L608.3 746.1L609.5 746.6L610.6 742.2L611.0 744.4L611.8 743.9L612.9 743.3L614.1 738.0L615.2 741.4L615.6 738.6L616.4 732.5L617.5 728.0L618.0 725.8L618.7 724.3L619.8 726.5L621.0 727.5L622.1 725.0L623.3 730.2L623.8 728.0L624.4 727.4L625.6 727.6L626.7 727.6L627.0 727.0L627.9 721.0L629.0 715.3L629.0 714.1L630.2 716.1L631.3 715.6L632.5 714.1L633.6 716.5L634.0 715.3L634.8 713.3L635.9 710.4L637.1 710.3L638.2 707.9L639.4 707.1L640.0 708.3L640.5 712.2L641.7 715.6L642.8 723.7L643.0 722.3L644.0 706.4L644.7 693.0L645.1 688.8L646.3 689.3L647.0 683.9L647.4 685.4L648.6 678.5L649.7 680.7L650.0 678.0L650.9 680.0L652.0 683.3L653.0 686.0L653.2 688.5L654.3 684.3L655.5 685.6L656.6 687.6L657.6 685.0L657.8 685.8L658.9 682.4L660.1 683.2L661.0 679.0L661.2 680.0L662.4 675.4L663.5 669.4L664.5 668.7L664.7 669.1L665.8 666.9L667.0 664.1L668.1 662.0L669.3 663.2L670.4 661.7L670.4 659.7L671.6 662.6L672.7 665.0L673.9 665.0L673.9 665.2L675.0 669.7L676.0 675.7L676.2 676.1L677.3 675.0L678.5 676.7L679.6 675.1L680.8 677.4L681.9 677.0L682.0 674.5L683.1 676.0L684.2 673.7L685.4 673.3L686.5 677.8L686.7 675.7L687.7 673.7L688.8 668.8L690.0 663.2L690.0 664.0L691.1 659.0L692.3 657.5L692.5 655.9L693.4 656.1L694.6 656.0L695.7 656.1L696.9 656.5L698.0 653.3L699.2 653.4L699.5 654.7L700.3 668.1L700.6 668.7L701.5 670.7L702.6 670.1L703.8 665.2L704.0 667.6L704.9 666.4L706.1 668.9L707.2 671.1L708.4 673.6L708.8 673.4L709.5 670.0L710.7 670.5L711.8 666.0L712.3 667.6L713.0 664.7L714.1 666.7L715.3 664.9L716.4 664.2L717.0 662.9L717.6 662.5L718.7 663.7L719.9 662.8L721.0 664.1L721.6 665.2L722.2 668.3L723.3 672.2L724.4 673.4L724.5 671.0L725.6 669.6L726.8 671.8L727.9 669.2L728.6 667.6L729.1 656.9L729.8 638.4L730.2 637.0L731.4 638.4L732.5 637.9L733.7 641.2L734.0 639.6L734.8 644.3L736.0 653.2L736.0 652.4L737.1 653.0L738.3 647.4L739.4 646.6L740.0 645.4L740.6 645.6L741.7 644.4L742.9 639.5L743.7 638.4L744.0 638.0L745.2 637.4L746.3 642.5L747.5 639.1L748.6 640.0L749.6 643.0L749.8 643.3L750.9 642.7L752.1 643.6L753.2 641.3L754.4 643.7L755.4 642.0L755.5 639.9L756.7 642.4L757.8 646.6L759.0 645.2L760.0 649.0L760.1 648.1L761.3 651.3L762.4 652.1L763.6 650.9L764.0 652.4L764.7 648.9L765.9 647.6L767.0 647.2L768.0 644.0L768.2 643.9L769.3 645.8L770.5 652.4L771.6 654.9L771.7 654.7L772.8 654.3L773.9 651.6L775.0 646.6L775.1 648.8L776.2 645.8L777.4 647.3L778.5 644.2L779.7 643.9L780.8 643.9L782.0 646.3L782.0 644.0L783.1 646.1L784.3 642.6L785.4 643.3L786.6 643.3L787.5 644.0L787.7 642.1L788.9 636.9L789.0 637.0L790.0 636.2L791.2 635.0L792.3 636.8L793.5 637.9L794.6 636.3L795.0 636.0L795.8 640.6L796.9 643.2L797.0 643.0L798.1 640.2L799.2 642.1L800.4 641.7L801.5 637.3L802.7 634.7L803.0 637.0L803.8 639.2L805.0 642.2L806.1 645.2L807.3 650.3L807.8 649.0L808.4 649.0L809.6 648.3L810.7 642.9L811.9 644.0L812.5 643.0L813.0 639.8L814.2 626.2L814.8 623.3L815.3 619.8L816.5 620.6L817.6 618.8L817.8 616.3L818.8 616.6L819.9 622.4L820.6 623.3L821.1 623.4L822.2 631.3L823.4 635.4L824.0 637.0L824.5 637.1L825.7 640.1L826.8 646.2L828.0 647.9L828.8 650.0L829.1 653.6L830.3 658.8L831.4 665.6L832.0 669.9L832.6 670.8L833.7 666.1L834.6 662.9L834.9 663.2L836.0 664.6L837.2 666.8L838.0 666.4L838.3 666.6L839.5 664.7L840.6 659.0L841.6 657.0L841.8 658.6L842.9 656.8L844.1 656.9L845.2 655.8L846.4 655.0L847.4 652.4L847.5 654.5L848.7 655.2L849.8 653.7L851.0 653.3L852.1 654.6L853.0 653.6L853.3 655.7L854.4 655.6L855.6 657.5L856.7 657.9L857.9 663.0L857.9 661.7L859.0 663.9L860.2 660.1L861.3 658.5L862.5 658.3L863.6 659.0L863.7 659.4L864.8 658.9L865.9 663.1L867.1 658.8L868.0 661.7L868.2 660.2L869.4 657.0L870.5 657.8L871.7 656.4L871.8 654.7L872.8 654.4L874.0 655.4L875.1 659.1L876.3 661.4L877.4 664.8L877.7 662.9L878.6 664.3L879.7 669.7L880.9 675.0L882.0 681.5L882.0 679.8L883.2 675.7L884.3 674.1L885.5 669.2L885.8 667.6L886.6 663.8L887.8 660.4L888.9 657.8L890.1 654.0L890.5 654.7L891.2 655.6L892.4 652.4L893.5 652.9L894.7 653.6L895.8 651.0L897.0 649.0L897.5 650.0L898.1 651.9L899.3 651.7L900.4 648.3L901.6 649.1L902.7 651.0L903.9 648.1L905.0 646.3L905.6 647.7L906.2 643.6L907.3 645.3L908.5 641.4L909.0 638.4L909.6 636.5L910.8 635.1L911.9 632.8L912.0 632.6L913.1 633.5L914.2 639.6L915.0 638.4L915.4 639.0L916.5 635.8L917.7 633.8L918.8 635.4L919.6 635.0L920.0 634.4L921.1 636.8L922.3 636.5L923.4 636.0L924.6 633.8L925.7 633.9L926.9 634.9L927.8 636.0L928.0 635.2L929.2 640.6L930.3 640.9L931.5 643.7L932.6 647.8L933.8 646.0L934.7 649.0L934.9 648.6L936.1 643.6L937.2 644.1L938.0 640.8L938.4 638.1L939.5 642.5L940.7 642.7L941.8 642.5L943.0 638.5L944.0 640.8L944.1 642.5L945.0 660.6L945.3 662.9L946.4 663.8L947.5 669.9L947.6 669.6L948.7 666.9L949.9 666.9L950.6 662.9L951.0 665.2L952.2 671.5L953.3 673.2L953.4 674.5L954.5 676.1L955.6 674.1L956.8 676.8L957.6 674.5L957.9 679.1L958.5 692.0L959.1 693.9L960.2 690.8L961.4 692.9L962.5 693.1L962.7 693.0L963.7 704.7L964.0 710.6L964.8 710.7L966.0 705.5L967.1 703.2L968.3 699.6L969.4 698.5L969.7 699.0L970.6 700.0L971.7 702.9L972.9 702.6L974.0 704.8L974.0 705.9L975.2 704.1L976.3 707.0L977.5 708.7L978.6 712.7L979.0 710.6L979.8 707.6L980.9 699.8L982.1 689.5L982.5 689.7L983.2 688.5L984.4 689.6L985.5 686.3L986.0 687.4L986.7 687.9L987.8 687.5L989.0 685.3L990.1 690.8L991.3 690.0L991.8 688.5L992.4 686.4L993.6 687.8L994.7 685.2L995.9 684.8L996.5 685.0L997.0 688.7L998.2 694.6L999.3 702.0L1000.0 707.0L1000.5 704.4L1001.6 701.3L1002.8 694.5L1003.5 693.0L1003.9 691.8L1005.1 695.6L1006.2 694.5L1007.4 698.8L1008.5 697.7L1009.0 697.8L1009.7 700.5L1010.8 700.8L1012.0 705.9L1013.1 704.3L1014.0 708.3L1014.3 705.7L1015.4 703.1L1016.6 703.9L1017.4 701.3L1017.7 703.4L1018.9 703.7L1020.0 708.1L1021.2 713.6L1022.0 714.0L1022.3 716.4L1023.5 719.9L1024.4 727.0L1024.6 725.5L1025.8 725.1L1026.9 725.0L1028.1 726.5L1029.2 724.7L1030.4 729.3L1031.5 726.6L1032.7 727.1L1033.8 727.8L1035.0 728.4L1035.0 727.0L1036.0 704.8L1036.1 706.5L1037.3 703.5L1038.4 702.7L1039.6 702.6L1040.7 702.5L1040.7 699.7L1041.9 698.3L1043.0 695.5L1043.0 696.6L1044.2 699.3L1045.3 699.4L1046.5 699.9L1047.6 700.7L1048.8 698.7L1049.9 701.5L1050.0 702.5L1051.1 699.7L1052.2 699.4L1053.4 694.4L1054.5 693.9L1054.7 694.3L1055.7 693.4L1056.8 693.7L1058.0 692.8L1059.1 690.5L1060.3 686.9L1060.5 688.5L1061.4 689.5L1062.6 689.8L1063.7 687.4L1064.9 685.8L1066.0 686.2L1066.4 686.0L1067.2 682.7L1068.3 683.9L1069.5 683.5L1069.8 680.4L1070.6 680.5L1071.8 681.6L1072.9 682.2L1074.1 678.8L1075.2 682.8L1075.7 680.4L1076.4 678.6L1077.5 672.2L1078.7 667.5L1079.0 668.7L1079.8 666.9L1081.0 668.2L1082.1 668.3L1083.3 665.7L1083.8 666.4L1084.4 668.9L1085.6 666.1L1086.7 667.0L1087.9 665.4L1088.5 667.6L1089.0 672.1L1090.2 671.6L1090.8 675.7L1091.3 678.2L1092.5 676.9L1093.6 677.6L1094.8 678.3L1095.9 677.4L1096.6 679.0L1097.1 682.0L1098.2 684.3L1099.4 685.2L1100.5 685.9L1101.7 685.2L1102.5 688.5L1102.8 690.8L1104.0 689.8L1105.1 695.0L1106.0 694.3L1106.3 692.3L1107.4 691.8L1108.6 690.8L1109.7 685.0L1110.6 685.0L1110.9 685.3L1112.0 682.9L1113.2 682.8L1114.3 683.8L1115.5 688.3L1116.6 688.2L1117.6 686.0L1117.8 686.7L1118.9 683.6L1120.1 684.4L1121.2 683.6L1122.0 681.5L1122.4 682.6L1123.5 688.6L1124.7 694.7L1125.8 697.8L1125.8 695.1L1127.0 694.4L1128.1 694.1L1129.3 690.5L1130.4 690.8L1130.4 690.2L1131.6 692.2L1132.7 691.0L1133.9 693.8L1135.0 693.4L1136.0 695.5L1136.2 695.7L1137.3 693.6L1138.5 694.5L1139.6 690.4L1140.8 692.9L1141.9 689.3L1143.1 692.8L1144.0 689.7L1144.2 690.8L1145.4 692.4L1146.5 694.5L1147.7 698.1L1147.9 697.8L1148.8 717.0L1149.0 718.8L1150.0 722.8L1151.1 725.8L1152.3 727.4L1152.5 728.0L1153.4 728.2L1154.6 724.5L1155.7 721.6L1156.9 716.3L1157.0 716.5L1158.0 714.9L1159.2 714.2L1160.3 714.7L1161.5 711.2L1161.9 710.6L1162.6 711.3L1163.8 711.6L1164.9 715.0L1166.1 712.7L1166.5 714.0L1167.2 711.0L1168.4 713.7L1169.5 713.7L1170.7 711.8L1171.8 710.1L1172.0 709.5L1173.0 709.0L1174.1 704.5L1175.3 703.9L1175.8 702.5L1176.4 702.5L1177.6 706.9L1178.7 712.8L1179.0 714.0L1179.9 717.6L1181.0 722.0L1181.0 721.6L1182.2 723.2L1183.3 730.2L1184.5 732.7L1185.6 734.6L1185.8 736.5L1186.8 734.5L1187.9 733.8L1189.1 731.8L1190.2 729.7L1191.4 733.1L1192.5 732.3L1192.8 729.5L1193.7 728.9L1194.8 728.1L1196.0 723.8L1197.1 724.0L1198.3 719.0L1198.6 720.0L1199.4 721.3L1200.6 720.4L1201.7 722.2L1202.9 717.8L1203.0 720.0L1204.0 725.4L1205.2 726.1L1206.4 732.5L1206.8 734.0L1207.5 738.0L1208.7 735.3L1209.8 739.2L1211.0 742.0L1212.1 744.6L1213.3 745.7L1213.8 749.3L1214.4 752.7L1215.6 754.8L1216.7 755.1L1217.9 757.4L1219.0 761.1L1219.6 762.0L1220.2 766.4L1221.3 780.7L1222.4 797.0L1222.5 799.5L1223.6 805.2L1224.8 815.0L1225.4 820.0L1225.9 826.9L1227.1 837.6L1228.0 843.6L1228.2 839.5L1229.4 815.1L1229.4 815.7L1230.5 812.0L1231.7 812.7L1232.4 808.7L1232.8 812.2L1234.0 812.5L1235.1 820.0L1236.3 821.4L1236.4 822.7L1237.4 813.5L1238.6 801.4L1239.7 794.8L1240.0 790.0L1240.9 795.2L1242.0 794.2L1243.2 799.9L1244.0 801.7L1244.3 797.1L1245.5 789.7L1246.4 778.4L1246.6 776.1L1247.8 777.4L1248.9 781.7L1250.1 780.4L1251.2 784.5L1252.0 783.0L1252.4 784.2L1253.5 780.7L1254.7 774.9L1255.8 775.2L1257.0 773.9L1257.0 771.4L1258.1 774.1L1259.3 775.3L1260.4 780.7L1260.4 779.2L1261.6 780.7L1262.7 783.8L1263.9 782.0L1265.0 783.0L1266.2 784.2L1267.3 787.6L1268.5 789.2L1268.5 787.7L1269.6 785.6L1270.8 785.7L1271.9 785.4L1273.0 781.9L1273.1 782.0L1274.2 771.6L1275.4 763.5L1276.0 759.8L1276.5 762.5L1277.7 761.9L1278.8 760.6L1279.0 762.0L1280.0 766.6L1281.1 768.2L1282.3 777.6L1282.5 776.0L1283.4 777.2L1284.6 779.7L1285.7 781.6L1286.9 781.0L1288.0 785.4L1288.0 785.9L1289.2 786.4L1290.3 788.3L1291.5 793.4L1291.8 792.4L1292.6 795.4L1293.8 804.0L1294.9 814.0L1295.0 813.3L1296.1 813.9L1297.2 816.2L1298.4 819.9L1299.5 820.1L1300.0 822.7L1300.7 824.7L1301.8 825.1L1303.0 819.7L1304.1 821.9L1305.3 823.3L1306.4 821.1L1307.6 823.9L1308.0 821.5L1308.7 821.2L1309.9 819.0L1311.0 820.6L1311.6 820.0L1312.2 823.7L1313.3 828.1L1314.5 835.8L1315.0 837.8L1315.6 838.9L1316.8 836.8L1317.9 836.0L1319.1 837.1L1320.2 835.5L1321.0 834.0L1321.4 835.4L1322.5 841.9L1323.7 841.8L1324.8 849.2L1325.6 850.6L1326.0 848.4L1327.1 849.6L1328.3 846.4L1329.4 846.3L1330.0 846.0L1330.6 848.7L1331.7 851.2L1332.9 853.7L1333.7 854.0L1334.0 851.1L1335.2 846.8L1336.3 839.7L1337.0 837.8L1337.5 837.3L1338.6 834.6L1339.8 829.9L1340.9 830.7L1342.1 829.0L1343.0 826.0L1343.2 826.3L1344.4 827.6L1345.5 823.6L1346.6 825.0L1346.7 823.1L1347.8 821.1L1349.0 822.4L1350.1 820.8L1351.3 819.5L1352.0 819.0L1352.4 818.6L1353.6 823.9L1354.7 822.4L1355.9 829.4L1357.0 829.6L1357.0 830.0L1358.2 827.9L1359.3 827.4L1359.8 825.0L1360.5 826.0L1361.6 829.8L1362.8 835.0L1362.9 836.6L1363.9 835.1L1365.1 837.7L1366.2 840.5L1366.4 840.0L1367.4 843.8L1368.5 846.8L1369.7 852.9L1369.8 853.0L1370.8 848.8L1372.0 850.4L1373.1 844.6L1374.3 842.8L1374.5 843.6L1375.4 837.2L1376.6 834.3L1376.8 832.0L1377.7 832.8L1378.9 831.3L1380.0 828.5L1380.0 826.1L1381.2 830.4L1382.3 832.6L1383.5 834.2L1384.6 840.7L1385.0 839.0L1385.8 838.5L1386.9 844.0L1388.0 847.0L1388.1 848.0L1389.2 840.2L1390.4 826.6L1390.8 825.0L1391.5 822.5L1392.7 820.3L1393.8 812.7L1394.0 814.5L1395.0 815.5L1396.1 821.9L1397.3 820.7L1398.4 824.9L1399.0 827.0L1399.6 828.0L1400.7 833.1L1401.8 837.8L1401.9 835.3L1403.0 830.6L1403.6 830.8L1404.2 835.5L1405.3 838.6L1406.5 842.8L1407.0 843.6L1407.6 842.4L1408.8 843.1L1409.9 845.3L1411.1 844.2L1411.8 846.0L1412.2 845.0L1413.4 845.2L1414.5 839.7L1415.7 837.3L1416.4 836.6L1416.8 840.6L1418.0 842.5L1418.8 844.8L1419.1 841.2L1420.3 838.7L1421.4 835.5L1422.6 827.9L1423.4 827.0L1423.7 827.6L1424.9 834.9L1425.7 837.8L1426.0 834.7L1426.4 826.0L1427.2 828.7L1428.3 833.7L1429.5 834.8L1430.4 837.8L1430.6 836.6L1431.8 835.5L1432.9 829.5L1434.1 828.2L1435.0 823.8L1435.2 823.0L1436.4 828.2L1437.5 831.8L1438.6 837.8L1438.7 838.0L1439.8 834.9L1441.0 834.2L1442.1 833.2L1443.0 834.0L1443.3 835.0L1444.4 839.7L1445.6 846.0L1446.7 851.8L1446.7 854.5L1447.9 844.1L1449.0 836.5L1450.0 827.0L1450.2 825.4L1451.3 826.4L1452.5 824.7L1453.6 828.0L1453.7 827.0L1454.8 828.4L1455.9 830.3L1457.1 831.2L1458.2 834.5L1458.4 836.6L1459.4 833.4L1460.5 831.8L1460.7 832.0L1461.7 843.8L1462.8 854.2L1463.0 855.0L1464.0 852.6L1465.1 851.6L1466.3 849.0L1466.5 850.6L1467.4 850.5L1468.6 844.2L1469.7 843.3L1470.0 841.0L1470.9 840.9L1472.0 840.2L1473.2 833.7L1474.3 833.6L1474.7 834.0L1475.5 834.5L1476.6 834.6L1477.8 840.7L1478.0 839.0L1478.9 834.8L1480.1 833.1L1481.2 827.5L1481.6 826.0L1482.4 823.1L1483.5 824.1L1484.7 822.4L1485.8 820.6L1486.3 822.7L1487.0 820.3L1488.1 821.8L1489.3 817.9L1489.8 820.0L1490.4 813.4L1491.6 803.2L1492.0 799.4L1492.7 800.5L1493.9 799.8L1495.0 804.3L1495.6 804.0L1496.2 805.4L1497.3 813.5L1498.0 815.7L1498.5 815.7L1499.6 810.6L1500.8 808.5L1501.9 806.6L1502.6 806.4L1503.1 807.3L1504.2 804.9L1505.4 804.1L1506.5 806.0L1507.7 801.9L1508.4 802.9L1508.8 801.0L1510.0 799.0L1511.1 796.1L1512.0 795.9L1512.3 793.6L1513.4 794.1L1514.0 797.0L1514.6 799.4L1515.7 802.6L1516.9 807.4L1517.8 808.7L1518.0 811.1L1519.2 806.7L1520.3 808.0L1521.5 808.6L1522.6 804.1L1523.6 805.0L1523.8 805.5L1524.9 801.1L1526.1 798.5L1527.2 793.8L1528.0 788.9L1528.4 787.7L1529.5 790.7L1530.7 788.5L1531.8 791.2L1533.0 791.8L1533.0 792.4L1534.1 789.3L1535.3 790.4L1536.4 789.4L1537.6 789.6L1538.7 788.9L1538.7 787.7L1539.9 785.1L1541.0 784.4L1542.2 782.7L1543.3 779.1L1543.4 780.7L1544.5 781.6L1545.6 779.3L1546.8 778.5L1547.9 779.8L1548.0 780.7L1549.1 780.8L1550.2 779.9L1551.4 782.8L1552.5 784.0L1553.7 783.8L1554.8 785.2L1556.0 782.1L1557.1 784.7L1557.4 785.4L1558.3 784.0L1559.4 781.4L1560.6 782.2L1561.7 779.4L1562.9 780.8L1563.0 780.7L1564.0 780.5L1565.2 779.2L1566.3 777.7L1567.5 776.6L1568.6 774.7L1569.0 777.0L1569.8 776.7L1570.9 780.3L1572.1 779.3L1573.2 778.4L1574.4 781.3L1574.8 780.7L1575.5 778.9L1576.7 780.2L1577.8 780.9L1579.0 782.5L1580.1 779.1L1581.3 780.1L1581.8 779.6L1582.4 780.2L1583.6 775.8L1584.7 771.6L1585.0 770.0L1585.9 773.3L1587.0 775.8L1588.2 779.5L1588.8 782.0L1589.3 779.7L1590.5 780.1L1591.6 777.7L1592.8 772.5L1593.5 771.4L1593.9 774.2L1595.1 771.3L1596.2 773.6L1597.4 777.4L1598.0 778.4L1598.5 777.4L1599.7 777.6L1600.8 781.0L1602.0 776.5L1602.8 778.4L1603.1 777.2L1604.3 779.0L1605.4 783.0L1606.6 782.2L1607.7 782.5L1608.6 786.5L1608.9 785.8L1610.0 780.7L1611.2 775.5L1612.3 772.6L1613.0 770.0L1613.5 773.7L1614.6 780.7L1615.0 783.0L1615.8 784.6L1616.9 785.6L1618.1 788.4L1619.0 787.7L1619.2 790.4L1620.4 788.0L1621.5 789.2L1622.6 791.0L1622.7 793.0L1623.8 788.8L1625.0 789.9L1626.0 787.7L1626.1 786.0L1627.0 759.8L1627.3 760.1L1628.4 758.3L1629.6 754.3L1630.7 749.3L1630.7 747.5L1631.9 750.3L1633.0 750.0L1634.0 750.4L1634.2 751.3L1635.3 754.4L1636.5 758.1L1636.6 759.8L1637.6 762.1L1638.8 762.0L1639.9 761.5L1640.0 763.0L1641.1 757.9L1642.2 754.1L1643.4 749.2L1643.5 750.4L1644.5 747.9L1645.7 742.8L1646.8 739.5L1648.0 736.6L1648.0 738.8L1649.1 735.3L1650.3 737.2L1651.4 732.7L1652.6 733.2L1652.9 733.0L1653.7 734.3L1654.9 732.6L1656.0 730.6L1657.2 734.2L1658.3 734.1L1659.5 729.4L1659.8 731.8L1660.6 726.7L1661.8 722.6L1662.9 718.8L1663.0 716.7L1664.1 714.6L1665.2 714.8L1666.4 710.7L1667.5 711.6L1668.0 709.7L1668.7 709.7L1669.8 711.5L1671.0 715.5L1672.1 717.7L1672.7 716.7L1673.3 718.5L1674.4 717.1L1675.6 716.3L1676.0 716.7L1676.7 720.0L1677.9 723.2L1679.0 727.9L1679.6 728.0L1680.2 730.6L1681.3 729.0L1682.5 732.3L1683.6 735.0L1683.6 735.9L1684.8 730.8L1685.9 727.7L1687.1 724.0L1687.8 724.8L1688.2 725.7L1689.4 728.7L1690.5 730.0L1691.7 726.7L1692.5 729.5L1692.8 730.0L1694.0 726.6L1695.1 725.7L1696.3 722.5L1697.4 723.4L1698.0 720.0L1698.6 720.0L1699.7 709.3L1700.9 707.3L1701.8 701.5L1702.0 699.1L1703.2 696.9L1704.0 698.0L1704.3 699.2L1705.5 710.8L1706.0 714.0L1706.6 716.9L1707.8 712.6L1708.9 714.2L1710.1 713.0L1711.2 716.2L1712.4 716.4L1713.0 716.7L1713.5 716.9L1714.7 718.7L1715.8 723.5L1717.0 725.9L1718.0 726.0L1718.1 725.2L1719.3 729.6L1720.4 734.0L1720.4 734.6L1721.6 733.7L1722.7 733.1L1723.9 728.2L1725.0 727.0L1725.0 728.0L1726.2 728.8L1727.3 731.7L1728.5 729.7L1729.6 731.4L1730.8 732.5L1731.0 735.0L1731.9 735.3L1733.1 729.1L1734.2 727.8L1735.4 723.3L1735.6 724.8L1736.5 722.4L1737.7 718.9L1738.8 720.0L1740.0 715.9L1741.1 716.7L1741.4 715.5L1742.3 716.8L1743.4 719.9L1744.6 724.6L1745.0 726.0L1745.7 723.4L1746.9 719.6L1748.0 717.8L1748.0 715.4L1749.2 718.2L1750.3 725.3L1751.5 724.9L1751.9 727.0L1752.6 726.9L1753.8 730.9L1754.9 736.0L1756.1 742.3L1756.5 741.0L1757.2 741.0L1758.4 747.3L1759.5 748.0L1760.7 750.3L1761.0 751.6L1761.8 751.0L1763.0 745.5L1764.1 740.3L1764.7 741.0L1765.3 741.4L1766.4 742.3L1767.6 742.5L1768.7 740.9L1769.9 744.8L1771.0 742.8L1771.0 744.8L1772.2 742.1L1773.3 735.7L1774.5 734.4L1775.0 731.0L1775.6 731.9L1776.8 728.2L1777.9 726.7L1779.1 726.8L1780.2 725.8L1781.4 724.9L1781.7 727.0L1782.5 722.9L1783.7 720.3L1784.8 713.2L1786.0 709.5L1787.1 702.1L1788.0 701.0L1788.3 699.3L1789.4 702.6L1790.6 696.8L1791.7 698.8L1792.0 698.5L1792.9 701.9L1794.0 704.0L1795.2 706.0L1796.0 706.4L1796.3 705.1L1797.5 704.6L1798.6 702.0L1799.8 698.9L1800.9 697.4L1802.1 689.9L1802.6 690.7L1803.2 694.7L1804.4 694.8L1805.5 699.5L1806.5 701.0L1806.7 699.0L1807.8 697.7L1809.0 688.1L1810.1 686.2L1811.3 679.4L1811.7 679.0L1812.4 681.1L1813.6 685.5L1814.0 688.0L1814.7 688.0L1815.9 687.4L1817.0 683.5L1818.0 683.0L1818.2 684.4L1819.3 688.1L1820.5 692.8L1821.6 701.4L1822.0 701.0L1822.8 698.0L1823.9 693.6L1825.1 691.8L1826.2 690.9L1827.4 684.9L1828.5 684.6L1828.6 683.0L1829.7 682.2L1830.8 681.7L1832.0 677.8L1833.1 676.3L1833.8 677.7L1834.3 676.0L1835.4 677.7L1836.6 678.7L1837.7 677.0L1838.9 680.2L1840.0 680.3L1841.2 680.4L1841.6 681.6L1842.3 680.8L1843.5 681.3L1844.6 675.5L1845.8 677.4L1846.8 673.8L1846.9 672.7L1848.1 673.3L1849.2 668.1L1850.4 671.1L1851.5 666.4L1852.0 666.0L1852.7 667.8L1853.8 662.7L1855.0 662.6L1856.1 663.0L1857.3 659.0L1858.4 658.4L1858.5 659.5L1859.6 657.4L1860.7 655.4L1861.9 648.7L1863.0 644.5L1863.8 643.9L1864.2 643.5L1865.3 648.0L1866.5 644.6L1867.6 648.4L1868.8 648.1L1869.0 649.0L1869.9 650.7L1871.1 649.5L1872.2 652.9L1872.9 653.0L1873.4 658.2L1874.5 666.0L1875.5 671.0L1875.7 671.5L1876.8 669.5L1878.0 668.4L1879.1 664.6L1880.3 667.1L1880.7 664.7L1881.4 663.5L1882.6 658.4L1883.7 655.8L1884.9 650.8L1885.9 647.8L1886.0 647.1L1887.2 645.8L1888.3 647.3L1889.5 646.7L1890.6 645.9L1891.8 642.8L1892.4 645.0L1892.9 645.3L1894.1 643.4L1895.2 643.4L1896.4 642.5L1897.5 643.4L1897.6 641.0L1898.7 634.7L1899.8 631.5L1900.0 630.8L1901.0 632.9L1902.1 630.8L1903.3 627.7L1904.4 629.3L1905.6 629.9L1906.0 627.0L1906.7 627.2L1907.9 631.0L1909.0 628.2L1910.2 634.1L1911.3 632.6L1912.0 633.4L1912.5 633.4L1913.6 640.2L1914.8 642.8L1915.9 647.9L1917.0 649.0L1917.1 650.7L1918.2 648.7L1919.4 645.3L1920.5 646.1L1921.0 642.6L1921.7 640.8L1922.8 646.0L1924.0 646.0L1925.1 644.5L1926.0 646.5L1926.3 647.7L1927.4 643.6L1928.6 641.8L1929.7 641.4L1930.9 635.6L1931.5 636.0L1932.0 636.8L1933.2 643.4L1934.3 645.0L1935.5 652.2L1936.6 658.0L1936.7 656.9L1937.8 655.1L1938.9 651.8L1940.1 652.9L1940.6 650.4L1941.2 654.0L1942.4 656.7L1943.5 658.6L1944.7 663.7L1945.8 664.7L1945.8 666.3L1947.0 661.6L1948.1 661.5L1949.3 658.8L1950.4 657.2L1951.6 657.7L1952.0 658.0L1952.7 660.4L1953.9 660.9L1955.0 657.7L1956.2 658.7L1957.3 660.5L1958.5 663.7L1958.8 662.0L1959.6 662.4L1960.8 663.6L1961.9 658.7L1962.7 660.8L1963.1 665.8L1964.2 669.3L1965.4 679.3L1965.8 681.6L1966.5 679.7L1967.7 672.3L1968.8 662.9L1969.0 663.4L1970.0 664.8L1971.1 664.0L1972.3 662.3L1973.4 664.7L1974.4 666.0L1974.6 664.6L1975.7 663.4L1976.9 658.6L1978.0 656.9L1978.0 657.5L1979.2 658.2L1980.3 655.6L1981.5 655.6L1982.6 658.9L1983.5 658.0L1983.8 657.5L1984.9 654.1L1986.1 652.4L1987.2 655.3L1988.4 651.9L1989.5 648.9L1990.0 649.0L1990.7 642.0L1991.8 636.9L1991.9 633.4L1993.0 632.9L1994.1 631.4L1994.5 629.5L1995.3 631.4L1996.4 635.1L1997.6 639.7L1998.6 643.9L1998.7 642.4L1999.9 649.8L2001.0 653.4L2002.2 660.2L2003.0 662.0L2003.3 662.4L2004.5 665.9L2005.6 669.5L2006.8 675.2L2007.9 675.3L2008.0 676.4L2009.1 675.3L2010.2 670.3L2011.4 669.7L2012.5 665.7L2013.5 664.7L2013.7 666.6L2014.8 662.2L2016.0 664.2L2017.1 662.1L2017.4 660.8L2018.3 657.2L2019.4 655.2L2020.6 647.7L2021.0 646.5L2021.7 647.7L2022.9 646.6L2024.0 645.6L2025.2 643.2L2026.3 644.9L2027.5 643.9L2027.8 645.0L2028.6 643.9L2029.8 645.6L2030.9 640.9L2032.1 642.0L2033.0 640.0L2033.2 640.8L2034.4 637.8L2035.5 638.0L2036.7 635.8L2037.8 639.3L2038.0 637.0L2039.0 638.5L2040.1 642.9L2041.3 645.9L2042.0 649.0L2042.4 652.5L2043.6 657.9L2044.7 661.6L2045.9 666.6L2046.0 667.0L2047.0 669.1L2048.2 678.3L2049.3 678.8L2050.0 684.0L2050.5 682.7L2051.6 681.3L2052.8 681.7L2053.9 680.0L2055.0 677.7L2055.1 676.8L2056.2 678.2L2057.4 676.9L2058.5 670.4L2059.7 672.1L2060.8 669.7L2061.7 668.6L2062.0 667.8L2063.1 667.8L2064.3 666.6L2065.4 668.0L2066.6 667.2L2067.7 668.7L2068.0 666.0L2068.9 670.1L2070.0 672.2L2071.2 670.9L2072.3 675.3L2073.5 676.3L2074.6 678.6L2074.7 677.7L2075.8 682.1L2076.9 678.9L2078.1 682.9L2078.6 684.0L2079.2 683.6L2080.4 685.2L2081.5 683.0L2082.7 687.4L2083.8 683.4L2085.0 684.5L2086.1 683.5L2086.4 685.5L2087.3 686.8L2088.4 691.1L2089.6 690.1L2090.7 693.0L2091.9 698.1L2093.0 699.8L2093.0 700.5L2094.2 699.9L2095.3 696.0L2096.5 697.8L2097.6 696.2L2098.8 695.2L2099.4 693.0L2099.9 689.7L2101.1 688.7L2102.2 683.4L2103.4 685.1L2104.5 682.7L2104.6 680.0L2105.7 680.8L2106.8 674.6L2108.0 674.9L2109.1 674.5L2110.3 673.0L2111.4 669.3L2111.7 671.0L2112.6 674.7L2113.7 675.0L2114.9 679.1L2116.0 680.0L2116.4 683.0L2117.2 686.1L2118.3 687.9L2119.5 691.8L2120.0 696.0L2120.6 699.0L2121.8 703.3L2122.9 710.0L2122.9 711.5L2124.1 707.8L2125.2 707.9L2126.4 705.2L2127.5 705.2L2128.0 706.4L2128.7 708.3L2129.8 712.6L2131.0 715.8L2132.0 719.4L2132.1 721.6L2133.3 720.5L2134.4 727.5L2135.6 726.8L2136.7 734.2L2137.0 732.4L2137.9 734.8L2139.0 737.2L2140.2 741.3L2141.3 745.8L2142.4 746.7L2142.5 749.1L2143.6 744.7L2144.8 741.0L2145.9 740.3L2147.1 742.4L2147.6 740.0L2148.2 740.3L2149.4 738.4L2150.5 733.5L2151.7 733.7L2152.8 729.2L2154.0 727.8L2154.0 729.8L2155.1 729.2L2156.3 733.2L2157.4 731.9L2158.6 733.5L2159.7 729.6L2160.6 732.4L2160.9 731.8L2162.0 729.1L2163.2 729.2L2164.3 727.5L2165.5 731.0L2165.8 728.5L2166.6 726.7L2167.8 726.4L2168.9 726.1L2170.1 726.1L2171.0 723.0L2171.2 725.8L2172.4 725.9L2173.5 727.7L2174.7 732.0L2175.8 731.5L2176.0 732.4L2177.0 733.3L2178.1 738.1L2179.3 737.9L2180.4 740.9L2181.6 743.7L2182.7 746.4L2182.8 746.7L2183.9 745.9L2185.0 746.3L2186.2 746.4L2187.3 744.3L2188.5 748.5L2189.6 744.3L2190.6 746.7L2190.8 745.9L2191.9 738.5L2193.0 731.0L2193.1 730.5L2194.2 729.3L2195.4 728.5L2196.5 729.8L2197.7 729.4L2198.8 730.1L2200.0 728.6L2201.1 731.3L2202.0 729.8L2202.3 729.8L2203.4 727.4L2204.6 729.7L2205.7 732.9L2206.9 727.9L2208.0 731.2L2209.2 733.4L2210.0 731.0L2210.3 730.1L2211.5 730.8L2212.6 729.0L2213.8 728.1L2214.9 729.1L2216.1 728.5L2217.2 726.4L2218.0 727.0L2218.4 727.2L2219.5 728.0L2220.7 730.0L2221.8 726.9L2223.0 727.8L2224.1 729.3L2225.3 730.1L2226.4 733.6L2227.0 732.4L2227.6 732.8L2228.7 736.9L2229.9 736.2L2231.0 737.3L2232.0 740.0L2232.2 740.4L2233.3 733.2L2234.5 734.0L2235.6 729.2L2236.0 726.0L2236.8 725.6L2237.9 726.5L2239.1 730.0L2240.2 730.7L2241.0 729.8L2241.4 730.3L2242.5 726.1L2243.7 729.0L2244.8 724.2L2246.0 726.3L2246.0 725.6L2247.1 727.6L2248.3 731.5L2249.4 731.8L2250.0 732.0L2250.6 735.3L2251.7 752.6L2252.0 753.5L2252.9 782.8L2253.0 786.4L2254.0 794.4L2255.0 801.6L2255.2 799.7L2256.3 809.5L2257.5 813.6L2258.0 816.8L2258.6 814.3L2259.8 809.3L2260.9 802.2L2261.5 796.5L2262.1 799.8L2263.2 815.2L2264.0 821.8L2264.4 818.9L2265.5 812.0L2266.7 801.4L2267.4 796.5L2267.8 797.2L2269.0 800.0L2270.1 801.2L2270.4 804.0L2271.3 812.0L2272.4 826.4L2273.6 834.9L2274.0 842.0L2274.7 844.0L2275.9 854.4L2277.0 860.1L2278.0 865.0L2278.2 860.2L2279.3 818.9L2279.8 804.0L2280.5 807.7L2281.6 819.0L2281.8 821.8L2282.8 850.5L2283.9 880.2L2284.0 882.6L2285.1 899.5L2286.2 911.7L2286.9 923.0L2287.4 924.9L2288.5 931.8L2289.7 939.6L2290.0 939.6L2290.8 932.0L2292.0 928.1L2292.4 923.0L2293.1 918.1L2294.3 907.9L2295.0 905.4L2295.4 908.0L2296.6 916.4L2297.7 926.7L2298.0 928.0L2298.9 926.9L2300.0 920.0L2301.2 916.4L2302.3 910.2L2303.0 908.0L2303.5 911.8L2304.6 914.1L2305.8 923.5L2305.9 923.0L2306.9 924.3L2308.1 930.0L2309.2 931.5L2309.7 934.6L2310.4 930.7L2311.5 924.3L2312.7 919.9L2313.8 915.7L2314.0 914.3L2315.0 915.8L2316.1 916.8L2317.3 919.6L2318.4 922.7L2319.6 921.9L2319.8 923.0L2320.7 931.8L2321.9 941.9L2322.0 943.4L2323.0 950.5L2324.2 952.1L2325.3 959.2L2325.4 958.6L2326.5 953.7L2327.6 950.0L2328.8 948.8L2329.9 944.1L2330.0 943.4L2331.1 934.2L2332.2 924.5L2333.4 920.0L2333.7 915.6L2334.5 913.3L2335.7 912.9L2336.8 909.0L2337.5 908.0L2338.0 901.7L2339.0 885.0L2339.1 885.6L2340.3 890.8L2341.4 893.5L2342.6 894.0L2343.7 897.2L2343.9 897.8L2344.9 892.4L2346.0 890.5L2347.2 882.3L2347.6 882.6L2348.3 882.9L2349.5 888.1L2350.6 885.9L2351.4 890.0L2351.8 890.7L2352.9 888.9L2354.1 887.6L2355.0 886.4L2355.2 887.5L2356.4 898.0L2357.5 913.7L2357.8 914.3L2358.7 914.2L2359.8 912.4L2361.0 906.5L2362.1 908.2L2362.8 905.4L2363.3 904.1L2364.4 904.6L2365.6 907.0L2366.7 908.0L2367.9 905.9L2367.9 908.0L2369.0 905.8L2370.2 900.9L2371.3 898.8L2371.7 895.3L2372.5 895.3L2373.6 890.6L2374.8 885.4L2375.5 883.9L2375.9 887.8L2377.1 890.7L2378.2 892.6L2379.0 896.6L2379.4 899.0L2380.5 899.8L2381.7 898.9L2382.8 900.3L2384.0 900.6L2385.1 904.9L2385.6 905.4L2386.3 904.2L2387.4 904.6L2388.6 904.7L2389.7 904.2L2390.9 906.4L2392.0 906.7L2392.0 905.5L2393.2 902.6L2394.3 899.7L2394.5 900.4L2395.5 903.9L2396.6 910.0L2397.8 910.3L2398.0 913.0L2398.9 912.1L2400.1 908.5L2401.2 903.5L2402.0 900.4L2402.4 899.0L2403.5 894.8L2404.7 888.5L2405.8 883.9L2405.9 882.6L2407.0 884.9L2408.1 884.1L2409.3 881.3L2410.4 880.2L2411.0 882.6L2411.6 878.8L2412.7 863.0L2413.5 854.8L2413.9 855.1L2415.0 847.9L2416.2 844.9L2417.0 842.0L2417.3 842.3L2418.5 847.9L2419.6 852.7L2420.8 854.0L2421.0 854.8L2421.9 857.4L2423.1 859.1L2424.2 861.4L2425.4 868.2L2426.0 867.4L2426.5 863.4L2427.7 863.5L2428.8 857.6L2430.0 850.1L2430.0 852.2L2431.1 859.4L2432.3 860.3L2433.4 868.1L2434.6 870.9L2435.0 875.0L2435.7 875.7L2436.9 868.8L2438.0 868.6L2439.2 861.0L2440.0 861.0L2440.3 862.7L2441.5 862.7L2442.6 865.7L2443.8 871.9L2444.9 877.3L2445.0 875.0L2446.1 876.2L2447.2 877.4L2448.4 877.2L2449.5 876.0L2450.7 873.8L2451.5 876.3L2451.8 878.7L2453.0 885.3L2454.1 895.6L2455.3 903.2L2455.8 908.0L2456.4 907.0L2457.6 903.5L2458.7 904.3L2459.9 900.9L2460.4 900.4L2461.0 899.0L2462.2 894.2L2463.3 893.8L2464.5 891.6L2465.0 890.0L2465.6 895.1L2466.8 897.7L2467.9 900.2L2469.1 905.9L2470.2 910.9L2470.5 913.0L2471.4 914.4L2472.5 916.1L2473.7 916.7L2474.8 916.9L2476.0 917.2L2477.1 917.2L2478.0 915.6L2478.3 916.8L2479.4 906.6L2480.6 903.9L2481.7 899.2L2481.9 897.8L2482.9 898.1L2484.0 896.8L2485.2 896.0L2486.3 896.9L2487.0 894.0L2487.5 889.1L2488.6 884.7L2489.8 880.3L2490.0 876.3L2490.9 881.2L2492.0 892.8L2492.1 890.9L2493.2 899.9L2494.4 905.3L2495.5 905.2L2495.8 909.0L2496.7 906.6L2497.8 911.2L2499.0 910.6L2500.1 910.0L2501.3 910.5L2502.4 911.7L2503.4 910.5L2503.6 912.9L2504.7 914.1L2505.9 919.9L2506.0 923.0L2507.0 924.6L2508.2 925.6L2509.3 924.8L2509.8 923.0L2510.5 918.6L2511.6 911.4L2512.8 904.7L2513.0 904.0L2513.9 901.4L2515.1 905.5L2516.0 904.0L2516.2 904.3L2517.4 915.1L2518.5 923.8L2518.6 924.4L2519.7 922.3L2520.8 922.7L2522.0 920.2L2523.1 917.6L2524.3 919.8L2525.0 916.8L2525.4 914.1L2526.6 911.4L2527.7 909.3L2528.9 907.9L2530.0 905.4L2530.0 906.9L2531.2 906.8L2532.3 908.6L2533.5 913.1L2533.8 913.0L2534.6 911.2L2535.8 911.9L2536.9 909.7L2538.1 912.3L2539.2 907.8L2540.0 909.0L2540.4 907.6L2541.5 907.9L2542.7 908.1L2543.8 910.2L2545.0 909.9L2546.1 910.6L2546.5 909.0L2547.3 911.3L2548.4 912.0L2549.6 919.0L2550.7 919.4L2551.5 923.0L2551.9 923.9L2553.0 932.7L2554.2 943.7L2555.3 948.1L2556.0 953.6L2556.5 950.7L2557.6 948.4L2558.8 943.4L2559.0 939.6L2559.9 939.2L2561.1 938.0L2562.2 941.8L2563.4 942.0L2564.5 939.8L2565.5 940.9L2565.7 942.1L2566.8 937.3L2568.0 934.2L2569.0 933.0L2569.1 933.3L2570.3 932.2L2571.4 928.7L2572.6 928.6L2573.7 922.3L2574.0 924.4L2574.9 923.7L2576.0 922.0L2577.2 919.3L2578.3 922.9L2579.5 917.8L2580.6 917.1L2581.4 918.0L2581.8 920.8L2582.9 923.6L2584.1 925.9L2585.2 925.1L2585.7 927.0L2586.4 928.7L2587.5 923.2L2588.7 925.2L2589.8 925.2L2591.0 920.0L2592.0 920.6L2592.1 918.6L2593.3 921.6L2594.4 922.7L2595.6 921.8L2595.9 920.6L2596.7 935.0L2597.0 937.0L2597.9 938.7L2599.0 940.8L2600.2 942.0L2601.0 946.0L2601.3 947.4L2602.5 961.2L2602.7 961.0L2603.6 957.4L2604.8 956.3L2605.9 955.6L2607.0 954.8L2607.1 952.6L2608.2 958.5L2609.4 962.4L2610.5 966.6L2611.7 973.4L2611.8 973.8L2612.8 974.0L2614.0 974.2L2615.1 975.2L2616.0 973.8L2616.3 974.6L2617.4 979.8L2618.6 978.0L2619.7 981.7L2620.0 984.0L2620.9 981.3L2622.0 981.9L2623.2 983.8L2624.3 984.1L2625.0 981.4L2625.5 983.5L2626.6 986.8L2627.8 992.9L2628.9 999.4L2630.0 1004.0L2630.1 1002.8L2631.2 1004.1L2632.4 1003.7L2633.5 999.5L2634.7 998.9L2635.0 997.9L2635.8 999.9L2637.0 998.1L2638.1 996.9L2639.3 1001.2L2640.0 999.0L2640.4 1000.0L2641.6 990.1L2642.7 989.4L2643.9 982.8L2644.0 982.7L2645.0 983.6L2646.2 988.0L2647.3 991.9L2647.8 995.3L2648.5 996.3L2649.6 992.9L2650.8 991.3L2651.9 991.8L2652.9 992.8L2653.1 993.9L2654.2 988.4L2655.4 985.4L2656.5 980.5L2656.7 980.0L2657.7 978.9L2658.8 978.7L2660.0 981.0L2661.1 980.3L2662.3 982.2L2663.0 984.0L2663.4 985.3L2664.6 985.9L2665.7 988.3L2666.9 991.1L2668.0 991.3L2669.2 993.4L2670.3 998.2L2670.6 996.6L2671.5 994.7L2672.6 990.7L2673.8 988.2L2674.9 984.7L2675.7 982.7L2676.1 982.0L2677.2 985.8L2678.4 982.9L2679.5 987.3L2680.7 987.6L2681.8 988.4L2682.0 986.5L2683.0 984.5L2684.1 986.2L2685.3 988.6L2686.4 984.6L2687.6 983.8L2688.7 986.6L2689.9 983.7L2690.9 985.0L2691.0 984.9L2692.2 975.7L2693.3 973.0L2693.4 970.0L2694.5 969.1L2695.6 968.4L2696.8 971.9L2697.9 970.3L2698.5 971.3L2699.1 970.5L2700.2 967.8L2701.4 967.7L2702.5 963.1L2703.7 960.0L2704.0 959.9L2704.8 959.2L2706.0 964.7L2707.1 966.3L2708.3 970.8L2708.6 971.3L2709.4 972.4L2710.6 972.1L2711.7 970.6L2712.9 973.4L2713.7 973.8L2714.0 974.2L2715.2 977.1L2716.3 981.0L2717.5 979.3L2718.6 982.2L2718.7 982.7L2719.8 985.3L2720.9 994.5L2722.0 997.9L2722.1 996.4L2723.2 999.2L2724.4 998.6L2725.5 995.3L2726.7 998.3L2727.8 995.7L2728.9 995.3L2729.0 994.9L2730.1 996.0L2731.3 998.5L2732.4 996.4L2732.7 996.6L2733.6 993.7L2734.7 988.9L2735.0 989.0L2735.9 990.0L2737.0 987.0L2738.2 985.0L2739.3 983.1L2740.0 984.0L2740.5 983.5L2741.6 989.4L2742.8 991.8L2742.8 990.3" stroke="#c51162" stroke-width="4.2" fill="none" stroke-linejoin="round" stroke-linecap="round"/>
<path d="M0.0 1395.0L2.0 1398.0L3.0 1408.6L5.7 1408.6L7.3 1429.5L10.0 1450.0L12.5 1446.0L16.0 1414.0L19.5 1434.7L22.0 1440.0L24.7 1463.0L27.0 1478.0L31.0 1463.0L33.9 1424.0L37.8 1395.6L39.6 1247.0L41.7 1208.0L43.8 1200.0L46.4 1205.5L46.9 1249.8L49.0 1291.5L50.8 1364.0L52.0 1395.6L56.0 1419.0L58.6 1447.7L61.7 1441.0L64.3 1464.6L66.0 1472.0L75.0 1480.0L84.0 1475.0L87.0 1463.0L89.8 1446.0L93.8 1445.0L96.4 1451.6L99.0 1449.0L101.0 1463.0L102.9 1463.0L104.0 1446.0L105.5 1463.0L107.0 1475.0L115.0 1481.0L121.0 1476.0L123.0 1463.0L126.0 1380.0L127.6 1463.0L130.0 1471.0L136.7 1471.0L140.6 1450.0L143.0 1390.0L144.5 1322.7L146.4 1307.0L148.0 1296.7L150.0 1309.7L151.0 1343.5L152.3 1380.0L154.0 1390.0L155.0 1440.0L157.6 1458.0L161.5 1463.0L165.4 1471.0L170.6 1471.0L173.0 1442.5L175.8 1411.0L177.9 1296.7L180.0 1244.6L182.3 1229.0L183.6 1226.0L184.9 1195.0L186.5 1186.0L188.0 1190.0L190.0 1205.5L190.6 1221.0L192.7 1242.0L195.0 1234.0L196.6 1281.0L198.4 1338.0L200.5 1385.0L202.6 1416.5L204.4 1467.0L206.0 1458.0L209.6 1445.0L213.5 1427.0L221.0 1429.5L225.0 1442.5L227.9 1454.0L230.5 1451.6L233.0 1460.7L235.0 1471.0L237.0 1476.0L243.0 1481.0L249.0 1475.0L251.0 1463.0L252.6 1432.0L254.7 1421.7L257.8 1424.0L259.9 1440.0L261.7 1471.0L264.0 1478.0L275.0 1482.0L288.0 1478.0L291.7 1471.0L295.6 1466.0L298.0 1421.7L300.0 1387.8L302.0 1369.6L304.0 1387.8L305.0 1442.5L307.0 1466.0L310.0 1472.4L317.7 1472.4L319.8 1453.0L322.0 1400.8L325.5 1391.7L327.6 1391.7L328.6 1410.0L330.0 1407.0L332.8 1434.7L336.0 1463.0L338.0 1463.0L339.8 1429.5L341.7 1398.0L344.0 1387.8L346.0 1372.0L348.0 1348.8L350.0 1341.0L352.0 1354.0L353.0 1380.0L354.7 1398.0L356.8 1414.0L360.7 1455.5L364.6 1476.0L367.7 1480.0L371.0 1476.0L376.0 1460.7L378.9 1416.5L380.7 1338.0L381.8 1286.0L384.0 1276.0L386.0 1274.5L388.0 1296.7L390.6 1322.7L392.0 1364.0L393.8 1359.0L394.5 1434.7L396.0 1455.5L398.0 1451.6L401.0 1429.5L403.6 1419.0L406.0 1427.0L410.0 1427.0L414.0 1432.0L414.6 1403.0L416.0 1374.8L418.0 1364.0L419.8 1286.0L421.9 1247.0L424.0 1230.0L427.0 1234.0L429.7 1265.0L430.0 1294.0L432.0 1312.0L433.6 1385.0L436.0 1447.7L440.0 1468.5L445.0 1479.0L451.8 1484.0L457.0 1484.0L459.6 1476.0L461.5 1385.0L463.5 1270.6L466.0 1247.0L468.0 1244.6L470.0 1257.6L471.9 1255.0L474.0 1221.0L476.0 1255.0L477.0 1312.0L479.0 1364.0L480.5 1398.0L481.8 1395.6L483.0 1450.0L485.7 1471.0L489.6 1481.5L493.0 1480.0L497.8 1471.0L501.7 1480.0L507.7 1476.0L510.8 1442.5L512.0 1403.0L514.0 1354.0L516.0 1341.0L517.9 1364.0L519.0 1390.0L521.0 1410.0L522.6 1432.0L524.6 1456.8L527.8 1464.6L530.0 1447.7L534.0 1432.0L538.0 1403.0L540.0 1400.8L542.0 1406.0L544.0 1445.0L546.0 1433.0L548.6 1440.0L551.7 1421.7L553.8 1369.6L555.9 1356.6L556.7 1406.0L559.0 1434.7L561.6 1438.6L564.0 1419.0L566.8 1380.0L570.0 1338.0L572.0 1328.0L573.9 1317.5L576.0 1354.0L579.8 1369.6L580.6 1398.0L581.7 1385.0L583.8 1442.5L585.8 1430.8L586.4 1453.0L589.0 1468.5L592.9 1471.0L596.0 1467.0L600.7 1447.7L603.8 1424.0L606.0 1378.7L608.5 1416.5L609.8 1420.0L611.9 1270.6L614.0 1244.6L616.0 1252.0L616.3 1364.0L618.4 1437.0L620.0 1455.5L624.0 1468.5L628.0 1479.0L632.0 1466.0L635.8 1450.0L638.0 1449.0L639.7 1459.4L641.8 1416.5L643.6 1415.0L645.0 1354.0L646.0 1334.4L648.0 1338.0L650.0 1364.0L650.3 1387.8L652.0 1400.8L654.0 1432.0L658.0 1446.4L660.0 1459.4L661.9 1453.0L664.0 1364.0L665.8 1265.4L667.9 1213.0L669.7 1236.8L671.8 1236.8L672.0 1260.0L674.0 1286.0L674.4 1354.0L676.0 1377.0L677.5 1354.0L680.0 1302.0L681.0 1190.0L684.0 1166.5L686.6 1156.0L688.4 1153.4L688.7 1221.0L690.0 1265.4L691.8 1351.0L693.0 1403.0L694.4 1446.4L696.0 1445.0L697.6 1411.0L700.0 1387.8L703.5 1390.0L704.0 1376.0L706.0 1376.0L707.4 1408.6L710.0 1440.0L711.9 1446.4L715.0 1432.0L717.9 1406.0L719.0 1296.7L720.0 1242.0L722.0 1235.5L723.9 1265.4L724.4 1286.0L726.5 1304.5L728.0 1312.0L729.0 1390.0L730.0 1453.0L732.0 1471.0L734.0 1480.0L737.4 1471.0L740.0 1468.5L742.6 1458.0L746.5 1450.0L747.8 1429.5L748.0 1374.8L749.9 1354.0L750.3 1372.0L752.0 1380.0L752.5 1398.0L754.0 1406.0L754.6 1438.6L756.0 1427.0L758.0 1291.5L760.0 1261.5L761.4 1291.5L762.0 1346.0L764.0 1374.8L766.0 1440.0L768.0 1456.8L770.0 1416.5L772.0 1416.5L772.6 1407.0L773.9 1406.0L776.5 1346.0L778.0 1338.0L780.0 1333.0L782.0 1335.7L782.7 1322.7L784.0 1309.7L784.8 1257.6L786.9 1229.0L788.0 1204.0L789.5 1219.8L792.0 1191.0L793.9 1184.7L794.7 1199.0L796.0 1203.0L798.0 1239.0L798.6 1257.6L799.9 1264.0L800.2 1304.5L802.0 1320.0L802.5 1354.0L804.0 1390.0L805.0 1416.5L806.4 1423.0L809.8 1421.7L812.0 1395.6L813.7 1402.0L814.0 1429.5L816.8 1463.0L820.0 1475.0L822.0 1463.0L826.0 1455.5L829.0 1463.0L832.5 1475.0L836.0 1476.0L841.6 1468.5L843.6 1476.0L848.0 1459.4L852.0 1447.7L854.6 1460.7L857.0 1471.0L861.0 1475.0L867.6 1479.0L868.9 1442.5L871.5 1380.0L873.0 1328.0L874.0 1281.0L876.0 1286.0L878.0 1315.0L879.0 1390.0L880.6 1437.0L883.0 1463.0L885.8 1473.7L888.0 1460.7L892.0 1427.0L894.0 1380.0L896.0 1363.0L898.0 1373.5L898.3 1400.8L900.0 1415.0L902.0 1411.0L903.5 1338.0L905.0 1333.0L908.0 1333.0L908.5 1364.0L910.6 1416.5L911.9 1477.6L914.5 1477.6L918.0 1466.0L922.0 1442.5L925.0 1406.0L928.0 1394.0L930.0 1416.5L932.0 1440.0L937.0 1440.0L940.5 1398.0L943.0 1369.6L944.0 1302.0L946.0 1283.6L950.0 1270.6L951.5 1309.7L952.0 1330.5L954.0 1343.5L954.8 1372.0L957.4 1416.5L958.8 1445.0L960.0 1467.0L961.9 1468.5L964.0 1440.0L966.6 1429.5L969.0 1419.0L970.0 1402.0L971.8 1411.0L973.9 1395.6L976.0 1372.0L977.0 1260.0L978.0 1222.4L980.0 1255.0L980.6 1380.0L981.3 1460.7L984.0 1471.0L989.0 1473.7L993.0 1477.6L997.0 1476.0L1000.0 1449.0L1003.0 1466.0L1005.5 1468.5L1008.0 1427.0L1010.0 1419.0L1011.8 1317.5L1013.9 1265.4L1016.0 1234.0L1017.8 1221.0L1019.6 1163.9L1022.0 1169.0L1023.8 1208.0L1024.8 1286.0L1025.8 1364.0L1027.7 1390.0L1029.5 1455.5L1033.4 1460.7L1036.0 1463.0L1037.8 1460.7L1041.0 1473.7L1045.6 1479.0L1048.0 1455.5L1050.0 1437.0L1051.6 1374.8L1053.7 1335.7L1055.8 1333.0L1058.0 1348.8L1058.9 1374.8L1060.0 1385.0L1060.7 1419.0L1062.8 1450.0L1064.6 1464.6L1066.5 1466.0L1068.0 1440.0L1069.8 1436.0L1071.7 1338.0L1073.0 1328.0L1075.0 1234.0L1076.0 1190.0L1078.0 1165.0L1079.7 1173.0L1082.0 1182.0L1082.3 1199.0L1083.6 1216.0L1085.5 1206.8L1088.0 1213.0L1090.0 1234.0L1090.7 1275.8L1092.5 1312.0L1092.8 1364.0L1094.6 1416.5L1095.9 1468.5L1098.5 1476.0L1101.9 1480.8L1103.7 1473.7L1107.6 1467.0L1111.5 1455.5L1114.0 1445.0L1114.6 1424.0L1116.7 1411.0L1118.5 1382.6L1120.0 1380.0L1122.0 1359.0L1122.7 1328.0L1124.0 1303.0L1124.8 1343.5L1125.8 1424.0L1127.9 1425.5L1129.7 1432.0L1133.6 1446.4L1135.7 1449.0L1138.0 1466.0L1140.0 1464.6L1141.5 1455.5L1142.8 1416.5L1144.0 1386.5L1146.0 1406.0L1146.4 1441.0L1148.0 1441.0L1148.5 1466.0L1150.6 1475.0L1154.5 1473.7L1157.0 1463.0L1160.0 1436.0L1162.0 1429.5L1164.0 1418.5L1165.7 1421.7L1167.0 1447.7L1168.0 1472.4L1170.0 1476.0L1174.0 1467.0L1176.6 1460.7L1178.0 1459.4L1179.0 1364.0L1180.0 1317.5L1181.8 1286.0L1182.3 1260.0L1183.9 1226.0L1186.0 1222.4L1187.8 1225.0L1188.3 1234.0L1189.9 1244.6L1190.3 1260.0L1192.0 1281.0L1192.5 1328.0L1194.0 1343.5L1194.3 1356.6L1196.0 1372.0L1198.0 1385.0L1200.0 1416.5L1200.6 1432.0L1202.7 1442.5L1204.0 1445.0L1206.0 1429.5L1206.6 1400.8L1208.0 1385.0L1208.6 1364.0L1210.5 1351.0L1210.7 1330.5L1212.0 1320.0L1213.9 1322.7L1214.2 1270.6L1215.7 1249.8L1216.5 1218.5L1218.0 1190.0L1220.0 1186.0L1220.9 1286.0L1222.0 1393.0L1224.0 1437.0L1226.0 1460.7L1228.7 1471.0L1232.6 1477.6L1236.5 1473.7L1239.0 1458.0L1239.9 1427.0L1242.0 1411.0L1244.0 1407.0L1245.6 1427.0L1248.0 1387.8L1250.0 1372.0L1252.0 1367.0L1253.0 1408.6L1255.5 1393.0L1256.0 1365.7L1257.9 1376.0L1260.0 1367.0L1262.0 1333.0L1263.9 1255.0L1265.7 1338.0L1267.8 1351.0L1268.0 1390.0L1269.8 1391.7L1270.3 1400.8L1272.0 1416.5L1272.5 1424.0L1274.0 1440.0L1275.6 1380.0L1277.7 1361.8L1280.0 1372.0L1280.3 1385.0L1282.0 1393.0L1282.3 1414.0L1284.0 1442.5L1287.0 1458.0L1290.0 1463.0L1293.8 1476.0L1295.6 1479.0L1299.0 1476.0L1303.0 1480.8L1306.0 1480.0L1308.0 1466.0L1310.0 1463.0L1312.0 1424.0L1314.0 1440.0L1314.6 1455.5L1316.5 1462.0L1319.8 1460.7L1322.0 1466.0L1323.8 1447.7L1325.8 1445.0L1328.0 1429.5L1329.0 1390.0L1330.0 1354.0L1330.8 1291.5L1331.6 1206.8L1334.0 1206.8L1335.5 1291.5L1337.6 1317.5L1338.0 1346.0L1340.0 1369.6L1340.3 1398.0L1342.0 1421.7L1342.5 1450.0L1344.6 1464.6L1348.0 1473.7L1351.0 1464.6L1353.7 1424.0L1355.8 1408.6L1356.0 1372.0L1357.6 1354.0L1358.0 1312.0L1360.0 1286.0L1360.7 1343.5L1362.0 1374.8L1364.0 1387.8L1364.6 1408.6L1366.0 1416.5L1366.7 1432.0L1369.0 1458.0L1372.0 1472.4L1374.5 1455.5L1377.0 1447.7L1379.7 1450.0L1381.8 1464.6L1385.0 1458.0L1388.0 1440.0L1390.0 1438.6L1390.7 1428.0L1392.0 1432.0L1394.0 1416.5L1396.0 1415.0L1396.7 1380.0L1398.0 1335.7L1400.0 1328.0L1401.9 1354.0L1404.0 1359.0L1404.5 1374.8L1406.0 1390.0L1407.0 1421.7L1408.4 1463.0L1411.0 1475.0L1412.8 1477.6L1415.0 1471.0L1416.0 1462.0L1420.0 1455.5L1422.0 1463.0L1422.7 1437.0L1425.0 1387.8L1426.0 1354.0L1428.0 1325.0L1430.0 1317.5L1431.8 1312.0L1432.0 1281.0L1433.9 1260.0L1436.0 1249.8L1436.5 1291.5L1438.0 1312.0L1440.0 1322.7L1442.0 1326.6L1442.5 1309.7L1444.0 1307.0L1446.0 1328.0L1446.3 1359.0L1448.0 1381.0L1450.0 1372.0L1451.9 1380.0L1452.2 1387.8L1454.5 1398.0L1456.0 1416.5L1457.9 1400.8L1460.0 1406.0L1461.8 1438.6L1462.0 1419.0L1464.0 1406.0L1466.5 1395.6L1468.0 1393.0L1469.8 1407.0L1470.0 1406.0L1472.0 1376.0L1475.0 1387.8L1477.8 1403.0L1480.0 1453.0L1483.0 1456.8L1485.6 1455.5L1487.7 1442.5L1490.0 1440.0L1492.0 1477.6L1494.7 1481.6L1497.0 1480.0L1500.7 1469.8L1505.0 1460.7L1508.0 1459.4L1510.0 1445.0L1512.0 1453.0L1514.0 1466.0L1516.0 1460.7L1516.4 1437.0L1518.0 1424.0L1518.7 1411.0L1520.0 1403.0L1520.5 1387.8L1522.0 1372.0L1522.6 1333.0L1524.7 1315.0L1526.0 1309.7L1527.8 1351.0L1528.0 1387.8L1530.0 1400.8L1530.3 1416.5L1532.5 1445.0L1534.0 1464.6L1535.9 1464.6L1536.4 1472.4L1538.0 1471.0L1540.0 1467.0L1544.0 1463.0L1546.0 1458.0L1548.0 1468.5L1552.0 1469.8L1553.9 1460.7L1556.0 1453.0L1558.5 1434.7L1559.0 1414.0L1560.0 1400.8L1560.4 1381.0L1562.0 1377.0L1563.8 1400.8L1565.8 1386.5L1566.0 1400.8L1568.0 1411.0L1568.4 1424.0L1570.0 1437.0L1570.5 1450.0L1572.9 1455.5L1573.6 1451.6L1576.0 1460.7L1578.0 1429.5L1579.9 1433.4L1580.0 1408.6L1582.0 1406.0L1582.5 1398.0L1584.0 1397.0L1584.3 1374.8L1586.7 1373.5L1588.5 1376.0L1589.8 1380.0L1590.6 1376.0L1592.0 1381.0L1592.4 1395.6L1594.0 1429.5L1596.0 1433.4L1598.0 1424.0L1598.4 1416.5L1600.0 1408.6L1601.0 1400.8L1602.0 1391.7L1604.0 1406.0L1606.0 1395.6L1608.0 1416.5L1608.5 1434.7L1610.6 1449.0L1612.0 1458.0L1614.0 1428.0L1616.0 1428.0L1618.0 1446.4L1619.7 1442.5L1621.8 1441.0L1623.6 1443.8L1625.7 1440.0L1626.0 1450.0L1627.6 1455.5L1628.0 1468.5L1630.0 1476.0L1632.8 1481.6L1635.0 1481.6L1639.0 1479.0L1644.0 1479.0L1646.0 1462.0L1648.0 1476.0L1652.0 1480.0L1657.5 1482.9L1664.0 1482.3L1669.0 1480.0L1674.0 1477.6L1677.0 1472.4L1680.0 1466.0L1681.7 1471.0L1683.0 1455.5L1684.8 1451.6L1687.0 1453.0L1690.0 1437.0L1690.6 1424.0L1692.0 1424.0L1692.3 1411.0L1694.0 1395.6L1694.3 1372.0L1696.0 1351.0L1696.3 1390.0L1697.9 1416.5L1698.4 1445.0L1700.0 1453.0L1700.3 1463.0L1701.8 1459.4L1703.0 1463.0L1706.5 1455.5L1709.6 1453.0L1712.0 1445.0L1713.5 1438.6L1715.6 1428.0L1718.0 1428.0L1720.0 1450.0L1720.3 1466.0L1722.0 1464.6L1724.0 1456.8L1726.0 1463.0L1727.8 1475.0L1730.0 1473.7L1733.0 1471.0L1734.0 1464.6L1736.0 1459.4L1737.7 1463.0L1738.0 1476.0L1742.0 1480.0L1748.6 1479.0L1751.0 1473.7L1752.6 1464.6L1754.0 1456.8L1756.5 1468.5L1759.0 1476.0L1761.7 1479.0L1764.0 1475.0L1768.0 1471.0L1770.8 1458.0L1772.0 1447.7L1772.6 1429.5L1774.0 1416.5L1774.7 1434.7L1776.0 1447.7L1778.0 1455.5L1778.6 1462.0L1780.0 1468.5L1782.5 1466.0L1784.6 1467.0L1785.9 1459.4L1787.7 1466.0L1789.8 1469.8L1790.0 1455.5L1792.0 1432.0L1794.0 1416.5L1794.7 1403.0L1796.0 1390.0L1796.3 1374.8L1798.0 1354.0L1798.6 1335.7L1800.0 1311.0L1802.0 1321.0L1804.0 1294.0L1806.0 1312.0L1807.8 1325.0L1808.0 1346.0L1809.9 1356.6L1810.2 1380.0L1811.7 1455.5L1813.8 1460.7L1815.6 1464.6L1820.0 1464.6L1822.0 1453.0L1823.6 1462.0L1825.5 1455.5L1829.0 1453.0L1832.0 1437.0L1833.0 1424.0L1835.9 1414.0L1837.7 1415.0L1838.5 1429.5L1839.8 1438.6L1840.0 1458.0L1841.9 1458.0L1842.2 1453.0L1844.0 1445.0L1844.5 1411.0L1845.0 1338.0L1845.8 1255.0L1847.6 1229.0L1849.7 1218.5L1850.0 1205.5L1851.0 1234.0L1851.5 1286.0L1852.0 1321.0L1854.0 1330.5L1856.0 1341.0L1858.0 1374.8L1858.5 1429.5L1860.0 1450.0L1862.0 1451.6L1864.0 1466.0L1864.5 1476.0L1867.0 1480.0L1871.0 1479.0L1874.4 1476.0L1877.5 1479.0L1880.0 1481.6L1881.5 1476.0L1884.0 1472.4L1886.0 1459.4L1888.0 1456.8L1889.8 1462.0L1891.9 1468.5L1895.0 1475.0L1899.7 1477.0L1903.6 1476.0L1906.0 1472.4L1910.0 1472.4L1912.7 1467.0L1915.8 1467.0L1918.0 1473.7L1921.8 1473.7L1923.6 1468.5L1926.0 1469.8L1928.0 1458.0L1931.0 1437.0L1932.0 1432.0L1934.0 1416.5L1936.0 1429.5L1936.7 1442.5L1938.8 1459.4L1941.0 1459.4L1944.0 1468.5L1946.6 1479.0L1949.0 1482.9L1951.8 1479.0L1953.6 1476.0L1954.0 1466.0L1957.0 1467.0L1959.6 1458.0L1961.0 1432.0L1962.0 1419.0L1964.0 1415.0L1966.5 1433.4L1968.0 1434.7L1971.7 1432.0L1973.8 1406.0L1976.0 1390.4L1978.0 1411.0L1980.0 1419.0L1980.3 1437.0L1982.0 1464.6L1984.0 1467.0L1986.0 1446.4L1987.9 1441.0L1989.0 1447.7L1991.0 1450.0L1992.6 1466.0L1995.0 1477.6L1997.8 1481.0L2000.0 1479.0L2001.7 1471.0L2003.8 1458.0L2006.0 1458.0L2008.0 1467.0L2009.5 1477.6L2012.0 1482.0L2016.0 1479.0L2017.8 1473.7L2020.0 1462.8L2022.0 1471.0L2025.0 1475.0L2028.0 1475.0L2031.6 1468.5L2033.0 1453.0L2034.0 1440.0L2035.5 1390.4L2036.0 1364.0L2037.6 1343.5L2038.0 1265.4L2040.0 1223.8L2041.8 1244.6L2042.0 1307.0L2043.9 1330.5L2044.2 1364.0L2046.0 1390.4L2046.5 1421.7L2048.0 1432.0L2048.5 1447.7L2050.0 1466.0L2052.5 1471.0L2055.0 1468.5L2058.0 1469.8L2060.0 1458.0L2062.0 1468.5L2063.6 1462.0L2065.5 1463.0L2066.8 1468.5L2069.0 1475.0L2072.0 1460.7L2073.8 1455.5L2075.9 1467.0L2079.0 1471.0L2081.6 1458.0L2083.7 1469.8L2085.8 1469.8L2087.6 1463.0L2088.0 1453.0L2089.7 1447.7L2090.0 1424.0L2091.8 1416.5L2092.0 1403.0L2094.0 1402.0L2094.3 1416.5L2096.0 1421.7L2098.0 1437.0L2099.8 1433.4L2102.0 1429.5L2102.7 1447.7L2104.5 1464.6L2107.0 1466.0L2109.7 1471.0L2111.8 1472.4L2113.6 1466.0L2115.7 1449.0L2118.0 1446.4L2120.0 1446.4L2122.0 1458.0L2122.8 1464.6L2124.8 1467.0L2125.9 1472.4L2128.0 1472.4L2128.3 1463.0L2130.0 1447.7L2131.0 1440.0L2134.0 1437.0L2135.8 1429.5L2137.6 1421.7L2139.7 1404.7L2141.8 1415.0L2143.6 1406.0L2145.0 1408.6L2146.0 1421.7L2148.0 1429.5L2149.6 1416.5L2150.0 1398.0L2152.0 1390.4L2152.7 1354.0L2154.0 1328.0L2154.5 1275.8L2155.8 1234.0L2156.0 1191.0L2158.0 1176.9L2160.0 1178.0L2162.0 1178.0L2163.9 1210.7L2164.4 1242.0L2166.0 1265.4L2166.5 1286.0L2168.0 1312.0L2168.9 1364.0L2170.0 1385.0L2171.0 1364.0L2172.0 1338.0L2174.0 1330.5L2176.0 1343.5L2176.4 1359.0L2178.0 1374.8L2178.8 1387.8L2180.0 1393.0L2180.8 1414.0L2182.0 1416.5L2182.7 1432.0L2184.5 1442.5L2186.0 1450.0L2187.9 1442.5L2190.0 1436.0L2190.5 1416.5L2191.8 1390.4L2193.9 1395.6L2196.0 1411.0L2196.5 1427.0L2198.0 1440.0L2198.8 1454.0L2200.0 1459.4L2200.9 1471.0L2203.5 1476.0L2205.6 1475.0L2207.4 1468.5L2210.0 1460.7L2211.0 1416.5L2212.0 1374.8L2214.0 1367.0L2216.0 1361.8L2217.8 1380.0L2218.0 1404.7L2219.6 1397.0L2221.7 1395.6L2222.0 1410.0L2223.8 1419.0L2224.0 1425.5L2226.0 1419.0L2228.0 1416.5L2230.0 1417.8L2230.3 1436.0L2232.0 1437.0L2232.3 1453.0L2234.0 1459.4L2235.5 1459.4L2236.0 1437.0L2238.0 1406.0L2240.0 1386.5L2242.0 1384.0L2244.0 1389.0L2246.0 1403.0L2247.8 1390.4L2249.8 1394.0L2250.0 1416.5L2251.7 1442.5L2253.0 1468.5L2254.8 1479.0L2256.9 1482.9L2259.5 1477.6L2262.0 1471.0L2264.7 1459.4L2268.0 1432.0L2268.6 1411.0L2270.0 1387.8L2270.7 1351.0L2271.7 1299.0L2274.0 1303.0L2274.6 1335.7L2275.9 1374.8L2276.2 1416.5L2278.0 1453.0L2281.6 1464.6L2283.7 1467.0L2285.5 1475.0L2289.0 1480.0L2293.0 1481.6L2297.0 1480.0L2299.8 1479.0L2301.0 1471.0L2303.0 1442.5L2305.6 1423.0L2307.6 1423.0L2309.0 1415.0L2311.6 1419.0L2313.6 1414.0L2315.5 1420.0L2318.0 1415.0L2319.9 1411.0L2320.7 1424.0L2322.0 1424.0L2322.5 1440.0L2323.8 1450.0L2324.6 1468.5L2326.7 1476.0L2329.8 1481.6L2332.0 1482.9L2335.0 1475.0L2336.8 1472.4L2338.0 1476.0L2340.0 1481.6L2342.8 1484.0L2346.7 1482.9L2349.0 1480.0L2352.0 1471.0L2353.8 1466.0L2355.8 1465.4L2358.0 1469.8L2361.0 1476.0L2363.0 1478.4L2365.7 1473.7L2367.6 1468.5L2368.0 1447.7L2369.6 1432.0L2372.0 1430.8L2373.5 1440.0L2374.0 1455.5L2376.0 1469.8L2378.8 1467.0L2380.6 1467.0L2382.0 1455.5L2384.5 1453.0L2386.0 1445.0L2387.6 1429.5L2388.0 1407.0L2389.7 1410.0L2391.8 1414.0L2393.9 1425.5L2394.2 1408.6L2395.7 1400.8L2396.0 1364.0L2398.0 1359.0L2398.8 1367.0L2400.0 1356.6L2402.0 1334.4L2402.3 1360.5L2404.0 1361.8L2404.3 1416.5L2405.8 1434.7L2406.6 1453.0L2408.0 1463.0L2410.5 1466.0L2414.0 1464.0L2414.3 1473.7L2416.0 1481.6L2418.9 1483.4L2421.0 1481.6L2423.5 1477.6L2428.0 1473.7L2430.0 1466.0L2432.6 1462.0L2435.0 1455.5L2436.5 1440.0L2438.0 1429.5L2438.6 1414.0L2440.5 1400.8L2442.0 1377.0L2443.9 1373.4L2444.4 1395.6L2446.5 1406.0L2448.0 1417.7L2449.9 1419.0L2450.2 1434.6L2452.0 1454.0L2455.0 1464.5L2457.7 1473.7L2462.0 1477.6L2466.0 1479.7L2468.0 1473.7L2470.7 1469.8L2472.0 1462.0L2473.8 1463.0L2476.0 1471.0L2478.0 1475.0L2480.0 1473.7L2483.0 1465.8L2485.6 1462.0L2489.5 1463.0L2490.0 1473.7L2492.0 1477.6L2496.0 1477.0L2497.8 1475.0L2499.0 1468.5L2500.7 1467.0L2502.5 1471.0L2504.6 1477.6L2507.0 1481.5L2509.8 1482.0L2511.6 1477.6L2514.0 1465.8L2516.0 1460.6L2517.6 1459.0L2519.0 1464.5L2522.0 1475.0L2523.8 1473.7L2526.0 1458.0L2527.7 1446.0L2529.0 1451.5L2531.6 1450.0L2533.0 1440.0L2535.5 1423.0L2537.6 1419.0L2539.0 1426.8L2540.0 1445.0L2542.0 1456.7L2543.6 1442.4L2545.4 1424.0L2546.0 1411.0L2548.0 1411.0L2548.6 1421.6L2549.9 1429.4L2550.6 1452.8L2552.0 1462.0L2554.0 1477.6L2555.9 1477.6L2556.6 1468.5L2559.0 1464.5L2561.8 1463.0L2563.7 1459.0L2565.7 1447.6L2567.6 1424.0L2568.4 1390.0L2569.7 1367.0L2570.0 1351.0L2572.0 1329.0L2572.8 1364.0L2574.0 1404.7L2575.9 1406.0L2576.7 1429.4L2578.0 1450.0L2580.6 1464.5L2583.7 1471.6L2585.8 1465.8L2588.4 1454.0L2589.7 1445.0L2590.5 1411.0L2592.0 1394.0L2594.0 1415.0L2595.7 1416.4L2596.0 1432.0L2598.0 1450.0L2598.8 1462.0L2600.6 1468.5L2602.7 1467.0L2605.0 1469.8L2609.0 1470.5L2613.0 1471.8L2615.7 1463.0L2617.8 1460.6L2619.6 1473.7L2622.0 1476.0L2625.0 1475.0L2628.8 1479.0L2632.7 1482.0L2635.0 1482.8L2637.9 1480.0L2641.8 1477.6L2644.0 1471.0L2646.0 1469.0L2649.6 1470.5L2653.5 1467.7L2655.6 1471.0L2657.0 1480.0L2660.8 1479.0L2661.8 1473.7L2664.0 1469.8L2666.5 1462.0L2668.0 1442.4L2669.6 1429.4L2669.9 1406.0L2671.0 1398.0L2671.7 1382.5L2673.8 1376.0L2674.0 1390.0L2675.6 1386.4L2677.0 1390.0L2678.0 1408.6L2679.5 1413.8L2680.0 1429.4L2682.0 1447.6L2684.0 1452.8L2685.5 1465.8L2687.0 1471.0L2689.0 1469.8L2690.0 1458.0L2691.8 1438.5L2692.5 1471.0L2694.0 1480.0L2696.0 1482.8L2699.0 1480.0L2701.6 1477.6L2705.6 1477.6L2708.0 1472.4L2709.5 1465.8L2710.8 1458.0L2711.8 1446.0L2713.0 1463.0L2715.5 1473.7L2718.6 1479.0L2722.5 1482.0L2725.0 1482.8L2729.0 1480.0L2731.6 1479.0L2733.7 1472.4L2735.5 1458.0L2737.6 1445.0L2738.0 1434.6L2740.0 1424.0L2740.7 1411.0L2742.0 1398.0" stroke="#2962ff" stroke-width="2.3" fill="none" stroke-linejoin="round"/>
<rect x="2" y="566.4" width="2855" height="2" fill="#333333"/>
<rect x="2" y="1046.4" width="2855" height="2" fill="#333333"/>
<rect x="2752.6" y="6" width="103" height="560.4" fill="#0f0f0f"/>
<rect x="2752.6" y="568.4" width="103" height="478" fill="#0f0f0f"/>
<rect x="2752.6" y="1048.4" width="103" height="527" fill="#0f0f0f"/>
<text transform="translate(2770.40 123.90) scale(0.9493 1)" font-size="23.0" fill="#b6b6b6" stroke="#b6b6b6" stroke-width="0.45">10,00%</text>
<text transform="translate(2770.58 197.30) scale(0.9188 1)" font-size="23.0" fill="#b6b6b6" stroke="#b6b6b6" stroke-width="0.45">7,50%</text>
<text transform="translate(2770.57 270.70) scale(0.9312 1)" font-size="23.0" fill="#b6b6b6" stroke="#b6b6b6" stroke-width="0.45">5,00%</text>
<text transform="translate(2770.57 344.10) scale(0.9312 1)" font-size="23.0" fill="#b6b6b6" stroke="#b6b6b6" stroke-width="0.45">2,50%</text>
<text transform="translate(2769.66 417.50) scale(0.9359 1)" font-size="23.0" fill="#b6b6b6" stroke="#b6b6b6" stroke-width="0.45">0,00%</text>
<text transform="translate(2770.57 490.90) scale(0.9299 1)" font-size="23.0" fill="#b6b6b6" stroke="#b6b6b6" stroke-width="0.45">−2,50%</text>
<text transform="translate(2770.57 564.30) scale(0.9299 1)" font-size="23.0" fill="#b6b6b6" stroke="#b6b6b6" stroke-width="0.45">−5,00%</text>
<text transform="translate(2770.57 646.40) scale(0.9312 1)" font-size="23.0" fill="#b6b6b6" stroke="#b6b6b6" stroke-width="0.45">2,50%</text>
<text transform="translate(2769.66 712.10) scale(0.9359 1)" font-size="23.0" fill="#b6b6b6" stroke="#b6b6b6" stroke-width="0.45">0,00%</text>
<text transform="translate(2770.57 777.80) scale(0.9299 1)" font-size="23.0" fill="#b6b6b6" stroke="#b6b6b6" stroke-width="0.45">−2,50%</text>
<text transform="translate(2770.57 843.50) scale(0.9299 1)" font-size="23.0" fill="#b6b6b6" stroke="#b6b6b6" stroke-width="0.45">−5,00%</text>
<text transform="translate(2770.57 909.20) scale(0.9299 1)" font-size="23.0" fill="#b6b6b6" stroke="#b6b6b6" stroke-width="0.45">−7,50%</text>
<text transform="translate(2770.56 974.90) scale(0.9367 1)" font-size="23.0" fill="#b6b6b6" stroke="#b6b6b6" stroke-width="0.45">−10,00%</text>
<text transform="translate(2770.56 1040.60) scale(0.9367 1)" font-size="23.0" fill="#b6b6b6" stroke="#b6b6b6" stroke-width="0.45">−12,50%</text>
<text transform="translate(2770.24 1103.80) scale(1.0286 1)" font-size="23.0" fill="#b6b6b6" stroke="#b6b6b6" stroke-width="0.45">1,00</text>
<text transform="translate(2769.53 1200.40) scale(1.0744 1)" font-size="23.0" fill="#b6b6b6" stroke="#b6b6b6" stroke-width="0.45">0,50</text>
<text transform="translate(2769.53 1298.40) scale(1.0744 1)" font-size="23.0" fill="#b6b6b6" stroke="#b6b6b6" stroke-width="0.45">0,00</text>
<text transform="translate(2770.49 1396.20) scale(1.0140 1)" font-size="23.0" fill="#b6b6b6" stroke="#b6b6b6" stroke-width="0.45">−0,50</text>
<text transform="translate(2770.50 1493.70) scale(1.0035 1)" font-size="23.0" fill="#b6b6b6" stroke="#b6b6b6" stroke-width="0.45">−1,00</text>
<rect x="2754" y="69.7" width="110" height="34" fill="#089981"/>
<text transform="translate(2770.54 93.90) scale(0.9614 1)" font-size="23.0" fill="#fff" stroke="#fff" stroke-width="0.45">+11,03%</text>
<rect x="2754" y="973" width="110" height="34" fill="#c51162"/>
<text transform="translate(2770.56 996.70) scale(0.9367 1)" font-size="23.0" fill="#fff" stroke="#fff" stroke-width="0.45">−10,83%</text>
<path d="M2754 1381H2837Q2840 1381 2840 1384V1412Q2840 1415 2837 1415H2754Z" fill="#2962ff"/>
<text transform="translate(2770.51 1405.90) scale(0.9877 1)" font-size="23.0" fill="#fff" stroke="#fff" stroke-width="0.45">−0,55</text>
<rect x="2753.6" y="6" width="110" height="68" fill="#0f0f0f"/>
<rect x="2761" y="15" width="110" height="50" rx="7" fill="#0f0f0f" stroke="#505050" stroke-width="2"/>
<text transform="translate(2767.46 48.80) scale(0.8184 1)" font-size="24.7" fill="#dadada" stroke="#dadada" stroke-width="0.45">USD</text>
<path d="M2848.2 38.8l5.6 5.6l5.6 -5.6" stroke="#dadada" stroke-width="2.1" fill="none"/>
<rect x="2753.6" y="568.4" width="110" height="67.60000000000002" fill="#0f0f0f"/>
<rect x="2761" y="578" width="110" height="50" rx="7" fill="#0f0f0f" stroke="#505050" stroke-width="2"/>
<text transform="translate(2768.28 611.80) scale(0.8184 1)" font-size="24.7" fill="#dadada" stroke="#dadada" stroke-width="0.45">CHF</text>
<path d="M2848.2 601.8l5.6 5.6l5.6 -5.6" stroke="#dadada" stroke-width="2.1" fill="none"/>
<rect x="2" y="1526" width="2855" height="49" fill="#0f0f0f"/>
<text transform="translate(27.03 1562.90) scale(1.0077 1)" font-size="23.4" fill="#bababa" stroke="#bababa" stroke-width="0.45">Ноя</text>
<text transform="translate(159.90 1562.90) scale(1.0667 1)" font-size="23.4" fill="#bababa" stroke="#bababa" stroke-width="0.45">Дек</text>
<text transform="translate(272.49 1562.90) scale(1.0647 1)" font-size="23.4" fill="#c8c8c8" font-weight="bold">2024</text>
<text transform="translate(410.31 1562.90) scale(1.0415 1)" font-size="23.4" fill="#bababa" stroke="#bababa" stroke-width="0.45">Фев</text>
<text transform="translate(534.93 1562.90) scale(1.0116 1)" font-size="23.4" fill="#bababa" stroke="#bababa" stroke-width="0.45">Мар</text>
<text transform="translate(664.70 1562.90) scale(0.9756 1)" font-size="23.4" fill="#bababa" stroke="#bababa" stroke-width="0.45">Апр</text>
<text transform="translate(792.66 1562.90) scale(1.0452 1)" font-size="23.4" fill="#bababa" stroke="#bababa" stroke-width="0.45">Май</text>
<text transform="translate(929.28 1562.90) scale(1.0591 1)" font-size="23.4" fill="#bababa" stroke="#bababa" stroke-width="0.45">Июн</text>
<text transform="translate(1049.28 1562.90) scale(1.0591 1)" font-size="23.4" fill="#bababa" stroke="#bababa" stroke-width="0.45">Июл</text>
<text transform="translate(1194.25 1562.90) scale(1.0250 1)" font-size="23.4" fill="#bababa" stroke="#bababa" stroke-width="0.45">Авг</text>
<text transform="translate(1323.30 1562.90) scale(0.9951 1)" font-size="23.4" fill="#bababa" stroke="#bababa" stroke-width="0.45">Сен</text>
<text transform="translate(1449.86 1562.90) scale(1.0421 1)" font-size="23.4" fill="#bababa" stroke="#bababa" stroke-width="0.45">Окт</text>
<text transform="translate(1586.21 1562.90) scale(1.0462 1)" font-size="23.4" fill="#bababa" stroke="#bababa" stroke-width="0.45">Ноя</text>
<text transform="translate(1713.95 1562.90) scale(1.0641 1)" font-size="23.4" fill="#bababa" stroke="#bababa" stroke-width="0.45">Дек</text>
<text transform="translate(1832.28 1562.90) scale(1.0725 1)" font-size="23.4" fill="#c8c8c8" font-weight="bold">2025</text>
<text transform="translate(1970.31 1562.90) scale(1.0415 1)" font-size="23.4" fill="#bababa" stroke="#bababa" stroke-width="0.45">Фев</text>
<text transform="translate(2088.93 1562.90) scale(1.0116 1)" font-size="23.4" fill="#bababa" stroke="#bababa" stroke-width="0.45">Мар</text>
<text transform="translate(2218.70 1562.90) scale(0.9756 1)" font-size="23.4" fill="#bababa" stroke="#bababa" stroke-width="0.45">Апр</text>
<text transform="translate(2346.66 1562.90) scale(1.0452 1)" font-size="23.4" fill="#bababa" stroke="#bababa" stroke-width="0.45">Май</text>
<text transform="translate(2477.28 1562.90) scale(1.0591 1)" font-size="23.4" fill="#bababa" stroke="#bababa" stroke-width="0.45">Июн</text>
<text transform="translate(2603.28 1562.90) scale(1.0591 1)" font-size="23.4" fill="#bababa" stroke="#bababa" stroke-width="0.45">Июл</text>
<path d="M2801 1555L2808 1543H2822L2829 1555L2822 1567H2808Z" fill="none" stroke="#e4e4e4" stroke-width="2.1" stroke-linejoin="miter"/>
<circle cx="2815" cy="1555" r="4.1" fill="none" stroke="#e4e4e4" stroke-width="2"/>
<rect x="14" y="17" width="1322" height="43" fill="#0f0f0f" fill-opacity="0.55"/>
<clipPath id="c1"><circle cx="44.5" cy="31.6" r="11.9"/></clipPath>
<g clip-path="url(#c1)"><rect x="32.6" y="19.700000000000003" width="23.8" height="23.8" fill="#f5f5f7"/>
<rect x="32.6" y="19.70" width="23.8" height="4.91" fill="#ef5350"/>
<rect x="32.6" y="29.22" width="23.8" height="4.91" fill="#ef5350"/>
<rect x="32.6" y="38.74" width="23.8" height="4.91" fill="#ef5350"/>
<rect x="32.6" y="19.700000000000003" width="14.28" height="14.99" fill="#1e88e5"/>
<path d="M35.2 21.8L36.4 24.2L34.0 24.2Z" fill="#fff"/>
<path d="M35.2 25.8L36.4 28.2L34.0 28.2Z" fill="#fff"/>
<path d="M35.2 29.8L36.4 32.2L34.0 32.2Z" fill="#fff"/>
<path d="M39.2 21.8L40.4 24.2L38.0 24.2Z" fill="#fff"/>
<path d="M39.2 25.8L40.4 28.2L38.0 28.2Z" fill="#fff"/>
<path d="M39.2 29.8L40.4 32.2L38.0 32.2Z" fill="#fff"/>
<path d="M43.2 21.8L44.4 24.2L42.0 24.2Z" fill="#fff"/>
<path d="M43.2 25.8L44.4 28.2L42.0 28.2Z" fill="#fff"/>
<path d="M43.2 29.8L44.4 32.2L42.0 32.2Z" fill="#fff"/>
</g>
<circle cx="32" cy="44" r="14.7" fill="#0f0f0f"/>
<circle cx="32" cy="44" r="12.1" fill="#1565c0"/>
<polygon points="32.00,34.60 32.61,36.06 34.19,36.19 32.98,37.22 33.35,38.76 32.00,37.93 30.65,38.76 31.02,37.22 29.81,36.19 31.39,36.06" fill="#fdd835"/>
<polygon points="37.02,36.68 37.63,38.14 39.21,38.27 38.00,39.30 38.37,40.84 37.02,40.01 35.67,40.84 36.04,39.30 34.83,38.27 36.41,38.14" fill="#fdd835"/>
<polygon points="39.10,41.70 39.71,43.16 41.29,43.29 40.08,44.32 40.45,45.86 39.10,45.03 37.75,45.86 38.12,44.32 36.91,43.29 38.49,43.16" fill="#fdd835"/>
<polygon points="37.02,46.72 37.63,48.18 39.21,48.31 38.00,49.34 38.37,50.88 37.02,50.06 35.67,50.88 36.04,49.34 34.83,48.31 36.41,48.18" fill="#fdd835"/>
<polygon points="32.00,48.80 32.61,50.26 34.19,50.39 32.98,51.42 33.35,52.96 32.00,52.13 30.65,52.96 31.02,51.42 29.81,50.39 31.39,50.26" fill="#fdd835"/>
<polygon points="26.98,46.72 27.59,48.18 29.17,48.31 27.96,49.34 28.33,50.88 26.98,50.06 25.63,50.88 26.00,49.34 24.79,48.31 26.37,48.18" fill="#fdd835"/>
<polygon points="24.90,41.70 25.51,43.16 27.09,43.29 25.88,44.32 26.25,45.86 24.90,45.03 23.55,45.86 23.92,44.32 22.71,43.29 24.29,43.16" fill="#fdd835"/>
<polygon points="26.98,36.68 27.59,38.14 29.17,38.27 27.96,39.30 28.33,40.84 26.98,40.01 25.63,40.84 26.00,39.30 24.79,38.27 26.37,38.14" fill="#fdd835"/>
<text transform="translate(62.89 49.60) scale(0.9366 1)" font-size="32.6" fill="#dbdbdb" stroke="#dbdbdb" stroke-width="0.45">Евро</text>
<text transform="translate(145.30 49.60) scale(1.2333 1)" font-size="32.6" fill="#dbdbdb" stroke="#dbdbdb" stroke-width="0.45">/</text>
<text transform="translate(169.00 49.60) scale(0.9664 1)" font-size="32.6" fill="#dbdbdb" stroke="#dbdbdb" stroke-width="0.45">Доллар</text>
<text transform="translate(287.10 49.60) scale(0.9014 1)" font-size="32.6" fill="#dbdbdb" stroke="#dbdbdb" stroke-width="0.45">США</text>
<text transform="translate(378.00 49.60) scale(1.0000 1)" font-size="32.6" fill="#dbdbdb" stroke="#dbdbdb" stroke-width="0.45">4ч</text>
<text transform="translate(436.34 49.60) scale(0.8565 1)" font-size="32.6" fill="#dbdbdb" stroke="#dbdbdb" stroke-width="0.45">OANDA</text>
<text transform="translate(362.80 46.10) scale(1.0000 1)" font-size="20" fill="#dbdbdb" stroke="#dbdbdb" stroke-width="0.45">•</text>
<text transform="translate(420.40 46.10) scale(1.0000 1)" font-size="20" fill="#dbdbdb" stroke="#dbdbdb" stroke-width="0.45">•</text>
<clipPath id="pill"><rect x="566" y="20" width="80" height="36" rx="18"/></clipPath>
<g clip-path="url(#pill)"><rect x="566" y="20" width="40" height="36" fill="#262626"/><rect x="606" y="20" width="40" height="36" fill="#2e121c"/></g>
<rect x="578" y="34" width="20.2" height="8.6" rx="4.3" fill="#a8a8a8"/>
<text transform="translate(614.26 49.70) scale(1.0412 1)" font-size="34" fill="#f0246b" font-weight="bold">≈</text>
<text transform="translate(677.29 46.80) scale(0.9145 1)" font-size="26.9" fill="#dbdbdb" stroke="#dbdbdb" stroke-width="0.45">ОТКР</text>
<text transform="translate(746.07 46.80) scale(0.9170 1)" font-size="26.9" fill="#089981" stroke="#089981" stroke-width="0.45">1,17288</text>
<text transform="translate(845.70 46.80) scale(0.8986 1)" font-size="26.9" fill="#dbdbdb" stroke="#dbdbdb" stroke-width="0.45">МАКС</text>
<text transform="translate(916.35 46.80) scale(0.9266 1)" font-size="26.9" fill="#089981" stroke="#089981" stroke-width="0.45">1,17472</text>
<text transform="translate(1016.85 46.80) scale(0.9228 1)" font-size="26.9" fill="#dbdbdb" stroke="#dbdbdb" stroke-width="0.45">МИН</text>
<text transform="translate(1076.06 46.80) scale(0.9191 1)" font-size="26.9" fill="#089981" stroke="#089981" stroke-width="0.45">1,17288</text>
<text transform="translate(1177.33 46.80) scale(0.8697 1)" font-size="26.9" fill="#dbdbdb" stroke="#dbdbdb" stroke-width="0.45">ЗАКР</text>
<text transform="translate(1240.36 46.80) scale(0.9202 1)" font-size="26.9" fill="#089981" stroke="#089981" stroke-width="0.45">1,17417</text>
<rect x="14" y="580" width="364" height="44" fill="#0f0f0f" fill-opacity="0.55"/>
<circle cx="44.4" cy="594.7" r="11.6" fill="#ef5350"/>
<rect x="42.4" y="588.5" width="4" height="12.4" fill="#fafafa"/><rect x="38.199999999999996" y="592.7" width="12.4" height="4" fill="#fafafa"/>
<circle cx="32.1" cy="607" r="14.5" fill="#0f0f0f"/>
<clipPath id="c2"><circle cx="32.1" cy="607" r="12.0"/></clipPath>
<g clip-path="url(#c2)"><rect x="20.1" y="595.0" width="24.0" height="24.0" fill="#f5f5f7"/>
<rect x="20.1" y="595.00" width="24.0" height="4.95" fill="#ef5350"/>
<rect x="20.1" y="604.60" width="24.0" height="4.95" fill="#ef5350"/>
<rect x="20.1" y="614.20" width="24.0" height="4.95" fill="#ef5350"/>
<rect x="20.1" y="595.0" width="14.40" height="15.12" fill="#1e88e5"/>
<path d="M22.7 597.1L23.9 599.5L21.5 599.5Z" fill="#fff"/>
<path d="M22.7 601.1L23.9 603.5L21.5 603.5Z" fill="#fff"/>
<path d="M22.7 605.1L23.9 607.5L21.5 607.5Z" fill="#fff"/>
<path d="M26.7 597.1L27.9 599.5L25.5 599.5Z" fill="#fff"/>
<path d="M26.7 601.1L27.9 603.5L25.5 603.5Z" fill="#fff"/>
<path d="M26.7 605.1L27.9 607.5L25.5 607.5Z" fill="#fff"/>
<path d="M30.7 597.1L31.9 599.5L29.5 599.5Z" fill="#fff"/>
<path d="M30.7 601.1L31.9 603.5L29.5 603.5Z" fill="#fff"/>
<path d="M30.7 605.1L31.9 607.5L29.5 607.5Z" fill="#fff"/>
</g>
<text transform="translate(63.60 609.60) scale(0.8510 1)" font-size="25.7" fill="#dbdbdb" stroke="#dbdbdb" stroke-width="0.45">USDCHF</text>
<text transform="translate(164.80 607.50) scale(1.0000 1)" font-size="15.4" fill="#dbdbdb" stroke="#dbdbdb" stroke-width="0.45">•</text>
<text transform="translate(180.21 609.60) scale(0.8856 1)" font-size="25.7" fill="#dbdbdb" stroke="#dbdbdb" stroke-width="0.45">OANDA</text>
<text transform="translate(277.89 609.60) scale(0.9110 1)" font-size="25.7" fill="#c51162" stroke="#c51162" stroke-width="0.45">−10,83%</text>
<rect x="14" y="1060" width="325" height="42" fill="#0f0f0f" fill-opacity="0.6"/>
<text transform="translate(19.46 1088.40) scale(0.8429 1)" font-size="25.7" fill="#dbdbdb" stroke="#dbdbdb" stroke-width="0.45">CC</text>
<text transform="translate(56.20 1088.40) scale(0.8519 1)" font-size="25.7" fill="#878787" stroke="#878787" stroke-width="0.45">USDCHF</text>
<text transform="translate(155.80 1088.40) scale(1.0034 1)" font-size="25.7" fill="#878787" stroke="#878787" stroke-width="0.45">close</text>
<text transform="translate(223.64 1088.40) scale(0.9556 1)" font-size="25.7" fill="#878787" stroke="#878787" stroke-width="0.45">20</text>
<text transform="translate(267.94 1088.40) scale(0.9603 1)" font-size="25.7" fill="#2962ff" stroke="#2962ff" stroke-width="0.45">−0,55</text>
<text transform="translate(799.75 977.20) scale(0.9613 1)" font-size="45.1" fill="#fff" font-weight="bold" font-family="'DejaVu Sans', sans-serif">Между</text>
<text transform="translate(992.47 977.20) scale(1.0069 1)" font-size="45.1" fill="#fff" font-weight="bold" font-family="'DejaVu Sans', sans-serif">EURUSD</text>
<text transform="translate(1268.31 977.20) scale(0.9726 1)" font-size="45.1" fill="#fff" font-weight="bold" font-family="'DejaVu Sans', sans-serif">USDCHF</text>
<text transform="translate(1481.59 977.20) scale(0.9778 1)" font-size="45.1" fill="#fff" font-weight="bold" font-family="'DejaVu Sans', sans-serif">наблюдается</text>
<text transform="translate(1218.40 977.20) scale(1.1000 1)" font-size="45.1" fill="#fff" font-weight="bold" font-family="'DejaVu Sans', sans-serif">и</text>
<text transform="translate(872.90 1041.10) scale(1.0014 1)" font-size="45.1" fill="#fff" font-weight="bold" font-family="'DejaVu Sans', sans-serif">устойчивая</text>
<text transform="translate(1180.01 1041.10) scale(0.9975 1)" font-size="45.1" fill="#fff" font-weight="bold" font-family="'DejaVu Sans', sans-serif">обратная</text>
<text transform="translate(1433.26 1041.10) scale(1.0105 1)" font-size="45.1" fill="#fff" font-weight="bold" font-family="'DejaVu Sans', sans-serif">корреляция</text>
<g stroke="#0f0f0f" stroke-width="7.5" stroke-linejoin="round" paint-order="stroke" fill="#dcdcdc">
<path d="M25.8 1468.2H50V1497.9H37.4V1479.4H25.8Z"/>
<circle cx="59.9" cy="1473.8" r="5.9"/>
<path d="M70.4 1468.2H85L74.4 1497.9H59.9Z"/>
<text transform="translate(100.10 1497.90) scale(0.9484 1)" font-size="43.2" fill="#dcdcdc" font-weight="bold">TradingView</text>
</g>
</svg></body></html>
